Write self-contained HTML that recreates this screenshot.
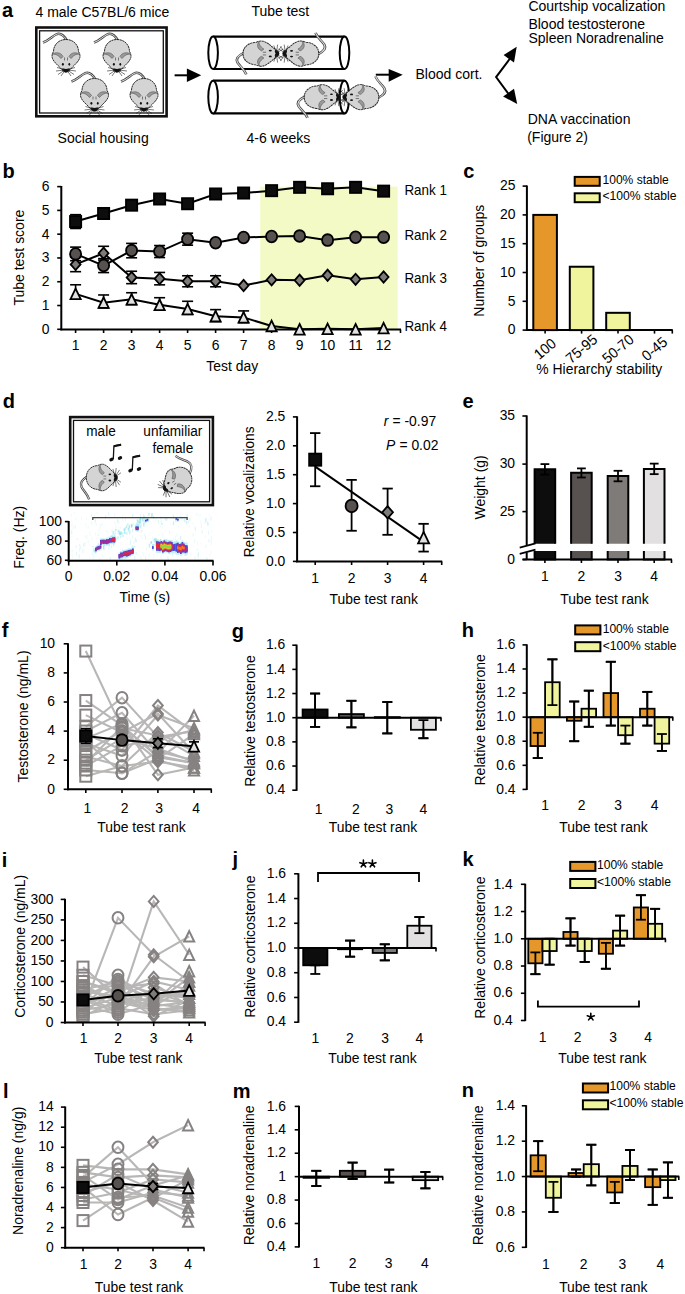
<!DOCTYPE html>
<html><head><meta charset="utf-8"><style>
html,body{margin:0;padding:0;background:#fff;overflow:hidden;}
svg{display:block;font-family:"Liberation Sans", sans-serif;}
</style></head><body>
<svg width="685" height="1294" viewBox="0 0 685 1294">
<defs><g id="mouse">
<path d="M1,-15 C-2,-20 -6,-23 -10,-21 C-14,-19 -17,-15 -23,-13" fill="none" stroke="#444" stroke-width="2.4"/>
<path d="M1,-15 C-2,-20 -6,-23 -10,-21 C-14,-19 -17,-15 -23,-13" fill="none" stroke="#ddd" stroke-width="1.0"/>
<path d="M0,-16 C8,-16 12.5,-10 12.5,-4 C14,-2 14.5,1 13.5,3 C12.5,6 9,9 6,12 C3.5,15 2,16.5 0,16.5 C-2,16.5 -3.5,15 -6,12 C-9,9 -12.5,6 -13.5,3 C-14.5,1 -14,-2 -12.5,-4 C-12.5,-10 -8,-16 0,-16 Z" fill="#d4d4d4" stroke="#2a2a2a" stroke-width="1.0" stroke-dasharray="2.2 0.5"/>
<path d="M3,1 C5,-3 10,-4 14,-1 C12,-2 8,-1 5,3 Z" fill="#9a9a9a" stroke="#555" stroke-width="0.6"/>
<path d="M-3,1 C-5,-3 -10,-4 -14,-1 C-12,-2 -8,-1 -5,3 Z" fill="#9a9a9a" stroke="#555" stroke-width="0.6"/>
<path d="M-1.5,2 L-1.5,5 M1.5,2 L1.5,5" stroke="#333" stroke-width="0.6"/>
<ellipse cx="-3.1" cy="8.8" rx="1" ry="1.4" fill="#111"/>
<ellipse cx="3.3" cy="8.8" rx="0.9" ry="1.4" fill="#111"/>
<path d="M-4.2,13.2 Q-2,12.4 0,13.6 Q2,12.4 4.2,13.2 Q2.5,17 0,17 Q-2.5,17 -4.2,13.2 Z" fill="#111"/>
<path d="M-2,14 L-9,12 M-2,14.5 L-10,15.5 M-2,15 L-8,19 M-1.5,15.5 L-5,20.5 M2,14 L9,12 M2,14.5 L10,15.5 M2,15 L8,19 M1.5,15.5 L5,20.5" stroke="#222" stroke-width="0.6"/>
</g></defs>
<rect width="685" height="1294" fill="#fff"/>
<text transform="translate(2.00 16.80)" font-size="20" text-anchor="start" font-weight="bold" fill="#000">a</text>
<text transform="translate(2.60 178.00)" font-size="20" text-anchor="start" font-weight="bold" fill="#000">b</text>
<text transform="translate(463.30 178.00)" font-size="20" text-anchor="start" font-weight="bold" fill="#000">c</text>
<text transform="translate(2.80 408.00)" font-size="20" text-anchor="start" font-weight="bold" fill="#000">d</text>
<text transform="translate(462.60 408.00)" font-size="20" text-anchor="start" font-weight="bold" fill="#000">e</text>
<text transform="translate(1.70 637.00)" font-size="20" text-anchor="start" font-weight="bold" fill="#000">f</text>
<text transform="translate(231.70 637.50)" font-size="20" text-anchor="start" font-weight="bold" fill="#000">g</text>
<text transform="translate(461.70 637.00)" font-size="20" text-anchor="start" font-weight="bold" fill="#000">h</text>
<text transform="translate(1.70 867.00)" font-size="20" text-anchor="start" font-weight="bold" fill="#000">i</text>
<text transform="translate(232.50 866.00)" font-size="20" text-anchor="start" font-weight="bold" fill="#000">j</text>
<text transform="translate(462.40 866.30)" font-size="20" text-anchor="start" font-weight="bold" fill="#000">k</text>
<text transform="translate(3.00 1097.60)" font-size="20" text-anchor="start" font-weight="bold" fill="#000">l</text>
<text transform="translate(232.70 1097.60)" font-size="20" text-anchor="start" font-weight="bold" fill="#000">m</text>
<text transform="translate(461.70 1096.90)" font-size="20" text-anchor="start" font-weight="bold" fill="#000">n</text>
<text transform="translate(35.50 17.00)" font-size="14" text-anchor="start" font-weight="normal" fill="#000">4 male C57BL/6 mice</text>
<text transform="translate(251.40 15.80)" font-size="14" text-anchor="start" font-weight="normal" fill="#000">Tube test</text>
<text transform="translate(57.60 142.50)" font-size="14" text-anchor="start" font-weight="normal" fill="#000">Social housing</text>
<text transform="translate(246.50 142.50)" font-size="14" text-anchor="start" font-weight="normal" fill="#000">4-6 weeks</text>
<text transform="translate(415.50 79.00)" font-size="14" text-anchor="start" font-weight="normal" fill="#000">Blood cort.</text>
<text transform="translate(528.40 11.30)" font-size="14" text-anchor="start" font-weight="normal" fill="#000">Courtship vocalization</text>
<text transform="translate(528.40 29.40)" font-size="14" text-anchor="start" font-weight="normal" fill="#000">Blood testosterone</text>
<text transform="translate(528.40 43.40)" font-size="14" text-anchor="start" font-weight="normal" fill="#000">Spleen Noradrenaline</text>
<text transform="translate(527.70 124.10)" font-size="14" text-anchor="start" font-weight="normal" fill="#000">DNA vaccination</text>
<text transform="translate(527.20 142.10)" font-size="14" text-anchor="start" font-weight="normal" fill="#000">(Figure 2)</text>
<rect x="36.30" y="27.50" width="130.30" height="88.80" fill="none" stroke="#111" stroke-width="2.6"/>
<rect x="39.60" y="30.80" width="123.70" height="82.20" fill="none" stroke="#111" stroke-width="1.3"/>
<use href="#mouse" transform="translate(66.00 55.50) rotate(0) scale(1.0 1.0)"/>
<use href="#mouse" transform="translate(117.00 55.50) rotate(0) scale(1.0 1.0)"/>
<use href="#mouse" transform="translate(94.50 94.50) rotate(0) scale(1.0 1.0)"/>
<use href="#mouse" transform="translate(144.00 94.50) rotate(0) scale(1.0 1.0)"/>
<line x1="174.60" y1="75.30" x2="188.00" y2="75.30" stroke="#000" stroke-width="2"/>
<polygon points="186.90,68.50 201.20,75.30 186.90,82.00" fill="#000" stroke="none" stroke-width="1.5"/>
<line x1="213.10" y1="36.60" x2="344.50" y2="36.60" stroke="#000" stroke-width="2.2"/>
<line x1="213.10" y1="69.00" x2="344.50" y2="69.00" stroke="#000" stroke-width="2.2"/>
<ellipse cx="213.1" cy="52.8" rx="4.8" ry="16.2" fill="#fff" stroke="#000" stroke-width="2"/>
<ellipse cx="344.5" cy="52.8" rx="4.8" ry="16.2" fill="none" stroke="#000" stroke-width="2"/>
<line x1="213.10" y1="80.70" x2="344.50" y2="80.70" stroke="#000" stroke-width="2.2"/>
<line x1="213.10" y1="113.40" x2="344.50" y2="113.40" stroke="#000" stroke-width="2.2"/>
<ellipse cx="213.1" cy="97.05000000000001" rx="4.8" ry="16.35" fill="#fff" stroke="#000" stroke-width="2"/>
<ellipse cx="344.5" cy="97.05000000000001" rx="4.8" ry="16.35" fill="none" stroke="#000" stroke-width="2"/>
<use href="#mouse" transform="translate(260.60 53.60) rotate(-90) scale(0.9 1.1)"/>
<use href="#mouse" transform="translate(301.20 53.60) rotate(90) scale(0.9 1.1)"/>
<use href="#mouse" transform="translate(321.80 97.20) rotate(-90) scale(0.9 1.1)"/>
<use href="#mouse" transform="translate(361.20 97.20) rotate(90) scale(0.9 1.1)"/>
<line x1="375.80" y1="74.70" x2="390.00" y2="74.70" stroke="#000" stroke-width="2"/>
<polygon points="388.70,68.90 402.70,74.70 388.70,81.80" fill="#000" stroke="none" stroke-width="1.5"/>
<polyline points="510.00,58.50 496.10,77.10 510.00,96.00" fill="none" stroke="#000" stroke-width="2"/>
<polygon points="516.70,46.70 503.60,54.90 514.00,62.60" fill="#000" stroke="none" stroke-width="1.5"/>
<polygon points="517.20,104.00 503.10,96.50 514.00,88.80" fill="#000" stroke="none" stroke-width="1.5"/>
<rect x="260.20" y="186.60" width="137.40" height="142.70" fill="#F4FAC6" stroke="none" stroke-width="1.5"/>
<line x1="61.30" y1="186.00" x2="61.30" y2="330.30" stroke="#000" stroke-width="2"/>
<line x1="57.20" y1="329.30" x2="61.30" y2="329.30" stroke="#000" stroke-width="1.6"/>
<text transform="translate(49.60 333.70) scale(1 1.1)" font-size="13.9" text-anchor="end" font-weight="normal" fill="#000">0</text>
<line x1="57.20" y1="305.52" x2="61.30" y2="305.52" stroke="#000" stroke-width="1.6"/>
<text transform="translate(49.60 309.92) scale(1 1.1)" font-size="13.9" text-anchor="end" font-weight="normal" fill="#000">1</text>
<line x1="57.20" y1="281.74" x2="61.30" y2="281.74" stroke="#000" stroke-width="1.6"/>
<text transform="translate(49.60 286.14) scale(1 1.1)" font-size="13.9" text-anchor="end" font-weight="normal" fill="#000">2</text>
<line x1="57.20" y1="257.96" x2="61.30" y2="257.96" stroke="#000" stroke-width="1.6"/>
<text transform="translate(49.60 262.36) scale(1 1.1)" font-size="13.9" text-anchor="end" font-weight="normal" fill="#000">3</text>
<line x1="57.20" y1="234.18" x2="61.30" y2="234.18" stroke="#000" stroke-width="1.6"/>
<text transform="translate(49.60 238.58) scale(1 1.1)" font-size="13.9" text-anchor="end" font-weight="normal" fill="#000">4</text>
<line x1="57.20" y1="210.40" x2="61.30" y2="210.40" stroke="#000" stroke-width="1.6"/>
<text transform="translate(49.60 214.80) scale(1 1.1)" font-size="13.9" text-anchor="end" font-weight="normal" fill="#000">5</text>
<line x1="57.20" y1="186.62" x2="61.30" y2="186.62" stroke="#000" stroke-width="1.6"/>
<text transform="translate(49.60 191.02) scale(1 1.1)" font-size="13.9" text-anchor="end" font-weight="normal" fill="#000">6</text>
<line x1="60.30" y1="329.50" x2="401.00" y2="329.50" stroke="#000" stroke-width="2"/>
<line x1="75.60" y1="329.50" x2="75.60" y2="333.00" stroke="#000" stroke-width="1.6"/>
<text transform="translate(75.60 350.20) scale(1 1.1)" font-size="13.9" text-anchor="middle" font-weight="normal" fill="#000">1</text>
<line x1="103.60" y1="329.50" x2="103.60" y2="333.00" stroke="#000" stroke-width="1.6"/>
<text transform="translate(103.60 350.20) scale(1 1.1)" font-size="13.9" text-anchor="middle" font-weight="normal" fill="#000">2</text>
<line x1="131.60" y1="329.50" x2="131.60" y2="333.00" stroke="#000" stroke-width="1.6"/>
<text transform="translate(131.60 350.20) scale(1 1.1)" font-size="13.9" text-anchor="middle" font-weight="normal" fill="#000">3</text>
<line x1="159.60" y1="329.50" x2="159.60" y2="333.00" stroke="#000" stroke-width="1.6"/>
<text transform="translate(159.60 350.20) scale(1 1.1)" font-size="13.9" text-anchor="middle" font-weight="normal" fill="#000">4</text>
<line x1="187.60" y1="329.50" x2="187.60" y2="333.00" stroke="#000" stroke-width="1.6"/>
<text transform="translate(187.60 350.20) scale(1 1.1)" font-size="13.9" text-anchor="middle" font-weight="normal" fill="#000">5</text>
<line x1="215.60" y1="329.50" x2="215.60" y2="333.00" stroke="#000" stroke-width="1.6"/>
<text transform="translate(215.60 350.20) scale(1 1.1)" font-size="13.9" text-anchor="middle" font-weight="normal" fill="#000">6</text>
<line x1="243.60" y1="329.50" x2="243.60" y2="333.00" stroke="#000" stroke-width="1.6"/>
<text transform="translate(243.60 350.20) scale(1 1.1)" font-size="13.9" text-anchor="middle" font-weight="normal" fill="#000">7</text>
<line x1="271.60" y1="329.50" x2="271.60" y2="333.00" stroke="#000" stroke-width="1.6"/>
<text transform="translate(271.60 350.20) scale(1 1.1)" font-size="13.9" text-anchor="middle" font-weight="normal" fill="#000">8</text>
<line x1="299.60" y1="329.50" x2="299.60" y2="333.00" stroke="#000" stroke-width="1.6"/>
<text transform="translate(299.60 350.20) scale(1 1.1)" font-size="13.9" text-anchor="middle" font-weight="normal" fill="#000">9</text>
<line x1="327.60" y1="329.50" x2="327.60" y2="333.00" stroke="#000" stroke-width="1.6"/>
<text transform="translate(327.60 350.20) scale(1 1.1)" font-size="13.9" text-anchor="middle" font-weight="normal" fill="#000">10</text>
<line x1="355.60" y1="329.50" x2="355.60" y2="333.00" stroke="#000" stroke-width="1.6"/>
<text transform="translate(355.60 350.20) scale(1 1.1)" font-size="13.9" text-anchor="middle" font-weight="normal" fill="#000">11</text>
<line x1="383.60" y1="329.50" x2="383.60" y2="333.00" stroke="#000" stroke-width="1.6"/>
<text transform="translate(383.60 350.20) scale(1 1.1)" font-size="13.9" text-anchor="middle" font-weight="normal" fill="#000">12</text>
<line x1="400.50" y1="329.50" x2="400.50" y2="333.00" stroke="#000" stroke-width="1.6"/>
<text transform="translate(232.20 370.60) scale(1 1.1)" font-size="13.9" text-anchor="middle" font-weight="normal" fill="#000">Test day</text>
<text transform="translate(23.60 257.60) rotate(-90) scale(1 1.06)" font-size="14.0" text-anchor="middle" font-weight="normal" fill="#000">Tube test score</text>
<line x1="75.60" y1="284.77" x2="75.60" y2="299.17" stroke="#000" stroke-width="1.6"/>
<line x1="70.10" y1="284.77" x2="81.10" y2="284.77" stroke="#000" stroke-width="1.6"/>
<line x1="70.10" y1="299.17" x2="81.10" y2="299.17" stroke="#000" stroke-width="1.6"/>
<line x1="103.60" y1="294.97" x2="103.60" y2="307.97" stroke="#000" stroke-width="1.6"/>
<line x1="98.10" y1="294.97" x2="109.10" y2="294.97" stroke="#000" stroke-width="1.6"/>
<line x1="98.10" y1="307.97" x2="109.10" y2="307.97" stroke="#000" stroke-width="1.6"/>
<line x1="131.60" y1="292.74" x2="131.60" y2="304.64" stroke="#000" stroke-width="1.6"/>
<line x1="126.10" y1="292.74" x2="137.10" y2="292.74" stroke="#000" stroke-width="1.6"/>
<line x1="126.10" y1="304.64" x2="137.10" y2="304.64" stroke="#000" stroke-width="1.6"/>
<line x1="159.60" y1="297.71" x2="159.60" y2="310.11" stroke="#000" stroke-width="1.6"/>
<line x1="154.10" y1="297.71" x2="165.10" y2="297.71" stroke="#000" stroke-width="1.6"/>
<line x1="154.10" y1="310.11" x2="165.10" y2="310.11" stroke="#000" stroke-width="1.6"/>
<line x1="187.60" y1="301.29" x2="187.60" y2="314.39" stroke="#000" stroke-width="1.6"/>
<line x1="182.10" y1="301.29" x2="193.10" y2="301.29" stroke="#000" stroke-width="1.6"/>
<line x1="182.10" y1="314.39" x2="193.10" y2="314.39" stroke="#000" stroke-width="1.6"/>
<line x1="215.60" y1="309.62" x2="215.60" y2="321.52" stroke="#000" stroke-width="1.6"/>
<line x1="210.10" y1="309.62" x2="221.10" y2="309.62" stroke="#000" stroke-width="1.6"/>
<line x1="210.10" y1="321.52" x2="221.10" y2="321.52" stroke="#000" stroke-width="1.6"/>
<line x1="243.60" y1="310.91" x2="243.60" y2="322.71" stroke="#000" stroke-width="1.6"/>
<line x1="238.10" y1="310.91" x2="249.10" y2="310.91" stroke="#000" stroke-width="1.6"/>
<line x1="238.10" y1="322.71" x2="249.10" y2="322.71" stroke="#000" stroke-width="1.6"/>
<line x1="75.60" y1="257.08" x2="75.60" y2="271.68" stroke="#000" stroke-width="1.6"/>
<line x1="70.10" y1="257.08" x2="81.10" y2="257.08" stroke="#000" stroke-width="1.6"/>
<line x1="70.10" y1="271.68" x2="81.10" y2="271.68" stroke="#000" stroke-width="1.6"/>
<line x1="103.60" y1="246.30" x2="103.60" y2="260.10" stroke="#000" stroke-width="1.6"/>
<line x1="98.10" y1="246.30" x2="109.10" y2="246.30" stroke="#000" stroke-width="1.6"/>
<line x1="98.10" y1="260.10" x2="109.10" y2="260.10" stroke="#000" stroke-width="1.6"/>
<line x1="131.60" y1="271.26" x2="131.60" y2="283.66" stroke="#000" stroke-width="1.6"/>
<line x1="126.10" y1="271.26" x2="137.10" y2="271.26" stroke="#000" stroke-width="1.6"/>
<line x1="126.10" y1="283.66" x2="137.10" y2="283.66" stroke="#000" stroke-width="1.6"/>
<line x1="159.60" y1="272.45" x2="159.60" y2="284.85" stroke="#000" stroke-width="1.6"/>
<line x1="154.10" y1="272.45" x2="165.10" y2="272.45" stroke="#000" stroke-width="1.6"/>
<line x1="154.10" y1="284.85" x2="165.10" y2="284.85" stroke="#000" stroke-width="1.6"/>
<line x1="187.60" y1="275.76" x2="187.60" y2="286.76" stroke="#000" stroke-width="1.6"/>
<line x1="182.10" y1="275.76" x2="193.10" y2="275.76" stroke="#000" stroke-width="1.6"/>
<line x1="182.10" y1="286.76" x2="193.10" y2="286.76" stroke="#000" stroke-width="1.6"/>
<line x1="215.60" y1="275.76" x2="215.60" y2="286.76" stroke="#000" stroke-width="1.6"/>
<line x1="210.10" y1="275.76" x2="221.10" y2="275.76" stroke="#000" stroke-width="1.6"/>
<line x1="210.10" y1="286.76" x2="221.10" y2="286.76" stroke="#000" stroke-width="1.6"/>
<line x1="75.60" y1="247.12" x2="75.60" y2="260.72" stroke="#000" stroke-width="1.6"/>
<line x1="70.10" y1="247.12" x2="81.10" y2="247.12" stroke="#000" stroke-width="1.6"/>
<line x1="70.10" y1="260.72" x2="81.10" y2="260.72" stroke="#000" stroke-width="1.6"/>
<line x1="103.60" y1="258.57" x2="103.60" y2="272.57" stroke="#000" stroke-width="1.6"/>
<line x1="98.10" y1="258.57" x2="109.10" y2="258.57" stroke="#000" stroke-width="1.6"/>
<line x1="98.10" y1="272.57" x2="109.10" y2="272.57" stroke="#000" stroke-width="1.6"/>
<line x1="131.60" y1="243.39" x2="131.60" y2="257.79" stroke="#000" stroke-width="1.6"/>
<line x1="126.10" y1="243.39" x2="137.10" y2="243.39" stroke="#000" stroke-width="1.6"/>
<line x1="126.10" y1="257.79" x2="137.10" y2="257.79" stroke="#000" stroke-width="1.6"/>
<line x1="159.60" y1="245.54" x2="159.60" y2="257.54" stroke="#000" stroke-width="1.6"/>
<line x1="154.10" y1="245.54" x2="165.10" y2="245.54" stroke="#000" stroke-width="1.6"/>
<line x1="154.10" y1="257.54" x2="165.10" y2="257.54" stroke="#000" stroke-width="1.6"/>
<line x1="187.60" y1="233.17" x2="187.60" y2="245.17" stroke="#000" stroke-width="1.6"/>
<line x1="182.10" y1="233.17" x2="193.10" y2="233.17" stroke="#000" stroke-width="1.6"/>
<line x1="182.10" y1="245.17" x2="193.10" y2="245.17" stroke="#000" stroke-width="1.6"/>
<line x1="75.60" y1="214.68" x2="75.60" y2="228.48" stroke="#000" stroke-width="1.6"/>
<line x1="70.10" y1="214.68" x2="81.10" y2="214.68" stroke="#000" stroke-width="1.6"/>
<line x1="70.10" y1="228.48" x2="81.10" y2="228.48" stroke="#000" stroke-width="1.6"/>
<polyline points="75.60,293.87 103.60,302.67 131.60,299.34 159.60,304.81 187.60,309.09 215.60,316.22 243.60,317.41 271.60,325.97 299.60,329.30 327.60,328.82 355.60,329.30 383.60,328.11" fill="none" stroke="#000" stroke-width="2"/>
<polygon points="75.60,288.57 80.70,299.17 70.50,299.17" fill="#e2e0e0" stroke="#000" stroke-width="1.8"/>
<polygon points="103.60,297.37 108.70,307.97 98.50,307.97" fill="#e2e0e0" stroke="#000" stroke-width="1.8"/>
<polygon points="131.60,294.04 136.70,304.64 126.50,304.64" fill="#e2e0e0" stroke="#000" stroke-width="1.8"/>
<polygon points="159.60,299.51 164.70,310.11 154.50,310.11" fill="#e2e0e0" stroke="#000" stroke-width="1.8"/>
<polygon points="187.60,303.79 192.70,314.39 182.50,314.39" fill="#e2e0e0" stroke="#000" stroke-width="1.8"/>
<polygon points="215.60,310.92 220.70,321.52 210.50,321.52" fill="#e2e0e0" stroke="#000" stroke-width="1.8"/>
<polygon points="243.60,312.11 248.70,322.71 238.50,322.71" fill="#e2e0e0" stroke="#000" stroke-width="1.8"/>
<polygon points="271.60,320.67 276.70,331.27 266.50,331.27" fill="#e2e0e0" stroke="#000" stroke-width="1.8"/>
<polygon points="299.60,324.00 304.70,334.60 294.50,334.60" fill="#e2e0e0" stroke="#000" stroke-width="1.8"/>
<polygon points="327.60,323.52 332.70,334.12 322.50,334.12" fill="#e2e0e0" stroke="#000" stroke-width="1.8"/>
<polygon points="355.60,324.00 360.70,334.60 350.50,334.60" fill="#e2e0e0" stroke="#000" stroke-width="1.8"/>
<polygon points="383.60,322.81 388.70,333.41 378.50,333.41" fill="#e2e0e0" stroke="#000" stroke-width="1.8"/>
<polyline points="75.60,264.38 103.60,253.20 131.60,277.46 159.60,278.65 187.60,281.26 215.60,281.26 243.60,285.54 271.60,279.84 299.60,280.31 327.60,275.32 355.60,279.36 383.60,276.98" fill="none" stroke="#000" stroke-width="2"/>
<polygon points="75.60,258.78 80.55,264.38 75.60,269.98 70.65,264.38" fill="#7f7b78" stroke="#000" stroke-width="1.8"/>
<polygon points="103.60,247.60 108.55,253.20 103.60,258.80 98.65,253.20" fill="#7f7b78" stroke="#000" stroke-width="1.8"/>
<polygon points="131.60,271.86 136.55,277.46 131.60,283.06 126.65,277.46" fill="#7f7b78" stroke="#000" stroke-width="1.8"/>
<polygon points="159.60,273.05 164.55,278.65 159.60,284.25 154.65,278.65" fill="#7f7b78" stroke="#000" stroke-width="1.8"/>
<polygon points="187.60,275.66 192.55,281.26 187.60,286.86 182.65,281.26" fill="#7f7b78" stroke="#000" stroke-width="1.8"/>
<polygon points="215.60,275.66 220.55,281.26 215.60,286.86 210.65,281.26" fill="#7f7b78" stroke="#000" stroke-width="1.8"/>
<polygon points="243.60,279.94 248.55,285.54 243.60,291.14 238.65,285.54" fill="#7f7b78" stroke="#000" stroke-width="1.8"/>
<polygon points="271.60,274.24 276.55,279.84 271.60,285.44 266.65,279.84" fill="#7f7b78" stroke="#000" stroke-width="1.8"/>
<polygon points="299.60,274.71 304.55,280.31 299.60,285.91 294.65,280.31" fill="#7f7b78" stroke="#000" stroke-width="1.8"/>
<polygon points="327.60,269.72 332.55,275.32 327.60,280.92 322.65,275.32" fill="#7f7b78" stroke="#000" stroke-width="1.8"/>
<polygon points="355.60,273.76 360.55,279.36 355.60,284.96 350.65,279.36" fill="#7f7b78" stroke="#000" stroke-width="1.8"/>
<polygon points="383.60,271.38 388.55,276.98 383.60,282.58 378.65,276.98" fill="#7f7b78" stroke="#000" stroke-width="1.8"/>
<polyline points="75.60,253.92 103.60,265.57 131.60,250.59 159.60,251.54 187.60,239.17 215.60,242.74 243.60,237.51 271.60,236.56 299.60,236.08 327.60,240.12 355.60,237.27 383.60,237.27" fill="none" stroke="#000" stroke-width="2"/>
<ellipse cx="75.60" cy="253.92" rx="5.55" ry="5.85" fill="#575150" stroke="#000" stroke-width="1.8"/>
<ellipse cx="103.60" cy="265.57" rx="5.55" ry="5.85" fill="#575150" stroke="#000" stroke-width="1.8"/>
<ellipse cx="131.60" cy="250.59" rx="5.55" ry="5.85" fill="#575150" stroke="#000" stroke-width="1.8"/>
<ellipse cx="159.60" cy="251.54" rx="5.55" ry="5.85" fill="#575150" stroke="#000" stroke-width="1.8"/>
<ellipse cx="187.60" cy="239.17" rx="5.55" ry="5.85" fill="#575150" stroke="#000" stroke-width="1.8"/>
<ellipse cx="215.60" cy="242.74" rx="5.55" ry="5.85" fill="#575150" stroke="#000" stroke-width="1.8"/>
<ellipse cx="243.60" cy="237.51" rx="5.55" ry="5.85" fill="#575150" stroke="#000" stroke-width="1.8"/>
<ellipse cx="271.60" cy="236.56" rx="5.55" ry="5.85" fill="#575150" stroke="#000" stroke-width="1.8"/>
<ellipse cx="299.60" cy="236.08" rx="5.55" ry="5.85" fill="#575150" stroke="#000" stroke-width="1.8"/>
<ellipse cx="327.60" cy="240.12" rx="5.55" ry="5.85" fill="#575150" stroke="#000" stroke-width="1.8"/>
<ellipse cx="355.60" cy="237.27" rx="5.55" ry="5.85" fill="#575150" stroke="#000" stroke-width="1.8"/>
<ellipse cx="383.60" cy="237.27" rx="5.55" ry="5.85" fill="#575150" stroke="#000" stroke-width="1.8"/>
<polyline points="75.60,221.58 103.60,213.49 131.60,205.17 159.60,198.99 187.60,203.74 215.60,193.99 243.60,193.04 271.60,190.66 299.60,187.33 327.60,188.76 355.60,187.33 383.60,191.14" fill="none" stroke="#000" stroke-width="2"/>
<rect x="70.00" y="215.98" width="11.20" height="11.20" fill="#0d0d0d" stroke="#000" stroke-width="1.8"/>
<rect x="98.00" y="207.89" width="11.20" height="11.20" fill="#0d0d0d" stroke="#000" stroke-width="1.8"/>
<rect x="126.00" y="199.57" width="11.20" height="11.20" fill="#0d0d0d" stroke="#000" stroke-width="1.8"/>
<rect x="154.00" y="193.39" width="11.20" height="11.20" fill="#0d0d0d" stroke="#000" stroke-width="1.8"/>
<rect x="182.00" y="198.14" width="11.20" height="11.20" fill="#0d0d0d" stroke="#000" stroke-width="1.8"/>
<rect x="210.00" y="188.39" width="11.20" height="11.20" fill="#0d0d0d" stroke="#000" stroke-width="1.8"/>
<rect x="238.00" y="187.44" width="11.20" height="11.20" fill="#0d0d0d" stroke="#000" stroke-width="1.8"/>
<rect x="266.00" y="185.06" width="11.20" height="11.20" fill="#0d0d0d" stroke="#000" stroke-width="1.8"/>
<rect x="294.00" y="181.73" width="11.20" height="11.20" fill="#0d0d0d" stroke="#000" stroke-width="1.8"/>
<rect x="322.00" y="183.16" width="11.20" height="11.20" fill="#0d0d0d" stroke="#000" stroke-width="1.8"/>
<rect x="350.00" y="181.73" width="11.20" height="11.20" fill="#0d0d0d" stroke="#000" stroke-width="1.8"/>
<rect x="378.00" y="185.54" width="11.20" height="11.20" fill="#0d0d0d" stroke="#000" stroke-width="1.8"/>
<text transform="translate(404.40 195.20) scale(1 1.1)" font-size="13.4" text-anchor="start" font-weight="normal" fill="#000">Rank 1</text>
<text transform="translate(404.40 240.40) scale(1 1.1)" font-size="13.4" text-anchor="start" font-weight="normal" fill="#000">Rank 2</text>
<text transform="translate(404.40 283.40) scale(1 1.1)" font-size="13.4" text-anchor="start" font-weight="normal" fill="#000">Rank 3</text>
<text transform="translate(404.40 331.20) scale(1 1.1)" font-size="13.4" text-anchor="start" font-weight="normal" fill="#000">Rank 4</text>
<line x1="522.60" y1="330.10" x2="526.90" y2="330.10" stroke="#000" stroke-width="1.6"/>
<text transform="translate(515.40 334.40) scale(1 1.1)" font-size="13.9" text-anchor="end" font-weight="normal" fill="#000">0</text>
<line x1="522.60" y1="301.30" x2="526.90" y2="301.30" stroke="#000" stroke-width="1.6"/>
<text transform="translate(515.40 305.60) scale(1 1.1)" font-size="13.9" text-anchor="end" font-weight="normal" fill="#000">5</text>
<line x1="522.60" y1="272.50" x2="526.90" y2="272.50" stroke="#000" stroke-width="1.6"/>
<text transform="translate(515.40 276.80) scale(1 1.1)" font-size="13.9" text-anchor="end" font-weight="normal" fill="#000">10</text>
<line x1="522.60" y1="243.70" x2="526.90" y2="243.70" stroke="#000" stroke-width="1.6"/>
<text transform="translate(515.40 248.00) scale(1 1.1)" font-size="13.9" text-anchor="end" font-weight="normal" fill="#000">15</text>
<line x1="522.60" y1="214.90" x2="526.90" y2="214.90" stroke="#000" stroke-width="1.6"/>
<text transform="translate(515.40 219.20) scale(1 1.1)" font-size="13.9" text-anchor="end" font-weight="normal" fill="#000">20</text>
<line x1="522.60" y1="186.10" x2="526.90" y2="186.10" stroke="#000" stroke-width="1.6"/>
<text transform="translate(515.40 190.40) scale(1 1.1)" font-size="13.9" text-anchor="end" font-weight="normal" fill="#000">25</text>
<line x1="526.90" y1="185.50" x2="526.90" y2="331.00" stroke="#000" stroke-width="2"/>
<line x1="526.00" y1="330.10" x2="672.80" y2="330.10" stroke="#000" stroke-width="2"/>
<line x1="545.10" y1="330.10" x2="545.10" y2="333.60" stroke="#000" stroke-width="1.6"/>
<line x1="581.60" y1="330.10" x2="581.60" y2="333.60" stroke="#000" stroke-width="1.6"/>
<line x1="618.00" y1="330.10" x2="618.00" y2="333.60" stroke="#000" stroke-width="1.6"/>
<line x1="654.50" y1="330.10" x2="654.50" y2="333.60" stroke="#000" stroke-width="1.6"/>
<line x1="672.30" y1="330.10" x2="672.30" y2="333.60" stroke="#000" stroke-width="1.6"/>
<rect x="533.30" y="214.90" width="23.60" height="115.20" fill="#E69729" stroke="#000" stroke-width="2"/>
<rect x="569.80" y="266.74" width="23.60" height="63.36" fill="#F0F59D" stroke="#000" stroke-width="2"/>
<rect x="606.20" y="312.82" width="23.60" height="17.28" fill="#F0F59D" stroke="#000" stroke-width="2"/>
<text transform="translate(548.30 352.80) rotate(-40) scale(1 1.06)" font-size="14.0" text-anchor="middle" font-weight="normal" fill="#000">100</text>
<text transform="translate(584.80 352.80) rotate(-40) scale(1 1.06)" font-size="14.0" text-anchor="middle" font-weight="normal" fill="#000">75-95</text>
<text transform="translate(621.20 352.80) rotate(-40) scale(1 1.06)" font-size="14.0" text-anchor="middle" font-weight="normal" fill="#000">50-70</text>
<text transform="translate(657.70 352.80) rotate(-40) scale(1 1.06)" font-size="14.0" text-anchor="middle" font-weight="normal" fill="#000">0-45</text>
<text transform="translate(599.30 373.60) scale(1 1.1)" font-size="13.9" text-anchor="middle" font-weight="normal" fill="#000">% Hierarchy stability</text>
<text transform="translate(484.40 260.70) rotate(-90) scale(1 1.06)" font-size="14.0" text-anchor="middle" font-weight="normal" fill="#000">Number of groups</text>
<rect x="574.70" y="176.90" width="25.00" height="8.90" fill="#E69729" stroke="#000" stroke-width="2"/>
<rect x="574.70" y="193.30" width="25.00" height="8.90" fill="#F0F59D" stroke="#000" stroke-width="2"/>
<text transform="translate(602.50 183.80)" font-size="12" text-anchor="start" font-weight="normal" fill="#000" textLength="66.3" lengthAdjust="spacingAndGlyphs">100% stable</text>
<text transform="translate(602.50 200.20)" font-size="12" text-anchor="start" font-weight="normal" fill="#000" textLength="73.9" lengthAdjust="spacingAndGlyphs">&lt;100% stable</text>
<rect x="70.20" y="417.10" width="142.70" height="88.00" fill="none" stroke="#111" stroke-width="2.6"/>
<rect x="73.50" y="420.40" width="136.10" height="81.40" fill="none" stroke="#111" stroke-width="1.3"/>
<text transform="translate(101.00 436.40) scale(1 1.1)" font-size="13.6" text-anchor="middle" font-weight="normal" fill="#000">male</text>
<text transform="translate(172.80 436.40) scale(1 1.1)" font-size="13.6" text-anchor="middle" font-weight="normal" fill="#000">unfamiliar</text>
<text transform="translate(172.80 452.80) scale(1 1.1)" font-size="13.6" text-anchor="middle" font-weight="normal" fill="#000">female</text>
<g transform="translate(111.5 459.5)"><ellipse cx="0" cy="0" rx="2.3" ry="1.7" transform="rotate(-25)" fill="#111"/><ellipse cx="8.5" cy="-1.5" rx="2.3" ry="1.7" transform="rotate(-25 8.5 -1.5)" fill="#111"/><path d="M1.8,-0.5 L2.4,-13.5 L9.6,-15 M2.4,-13.5 L9.6,-15" stroke="#111" stroke-width="1.3" fill="none"/><path d="M2.4,-13.2 L9.6,-14.7" stroke="#111" stroke-width="2" fill="none"/></g>
<g transform="translate(130.5 470.5)"><ellipse cx="0" cy="0" rx="2.3" ry="1.7" transform="rotate(-25)" fill="#111"/><ellipse cx="8.5" cy="-1.5" rx="2.3" ry="1.7" transform="rotate(-25 8.5 -1.5)" fill="#111"/><path d="M1.8,-0.5 L2.4,-13.5 L9.6,-15 M2.4,-13.5 L9.6,-15" stroke="#111" stroke-width="1.3" fill="none"/><path d="M2.4,-13.2 L9.6,-14.7" stroke="#111" stroke-width="2" fill="none"/></g>
<use href="#mouse" transform="translate(101.50 477.50) rotate(-90) scale(0.95 0.95)"/>
<use href="#mouse" transform="translate(177.00 481.00) rotate(57) scale(0.95 0.95)"/>
<rect x="116.7" y="519.1" width="1.1" height="1.7" fill="#8ee0ec" opacity="0.20"/>
<rect x="122.6" y="514.7" width="1.0" height="1.6" fill="#8ee0ec" opacity="0.18"/>
<rect x="80.8" y="516.3" width="0.9" height="4.0" fill="#8ee0ec" opacity="0.11"/>
<rect x="102.5" y="541.5" width="1.4" height="3.2" fill="#8ee0ec" opacity="0.17"/>
<rect x="208.7" y="514.2" width="1.3" height="2.4" fill="#8ee0ec" opacity="0.11"/>
<rect x="87.6" y="526.5" width="1.3" height="2.0" fill="#8ee0ec" opacity="0.21"/>
<rect x="161.1" y="529.5" width="1.0" height="1.7" fill="#8ee0ec" opacity="0.09"/>
<rect x="100.0" y="544.0" width="0.9" height="2.4" fill="#8ee0ec" opacity="0.21"/>
<rect x="134.9" y="526.1" width="1.2" height="3.6" fill="#8ee0ec" opacity="0.13"/>
<rect x="152.0" y="536.7" width="1.3" height="3.7" fill="#8ee0ec" opacity="0.14"/>
<rect x="209.2" y="517.5" width="0.9" height="3.8" fill="#8ee0ec" opacity="0.11"/>
<rect x="139.9" y="513.8" width="1.1" height="3.8" fill="#8ee0ec" opacity="0.21"/>
<rect x="194.4" y="526.7" width="1.2" height="3.3" fill="#8ee0ec" opacity="0.21"/>
<rect x="135.3" y="551.5" width="1.4" height="2.9" fill="#8ee0ec" opacity="0.23"/>
<rect x="79.6" y="545.0" width="1.1" height="4.5" fill="#8ee0ec" opacity="0.26"/>
<rect x="111.1" y="530.1" width="1.1" height="1.6" fill="#8ee0ec" opacity="0.18"/>
<rect x="94.7" y="517.5" width="0.6" height="3.8" fill="#8ee0ec" opacity="0.11"/>
<rect x="105.9" y="530.4" width="1.3" height="1.7" fill="#8ee0ec" opacity="0.18"/>
<rect x="148.5" y="553.5" width="1.3" height="4.1" fill="#8ee0ec" opacity="0.14"/>
<rect x="129.6" y="528.9" width="1.3" height="4.4" fill="#8ee0ec" opacity="0.11"/>
<rect x="95.8" y="522.9" width="0.8" height="3.0" fill="#8ee0ec" opacity="0.21"/>
<rect x="108.0" y="512.2" width="0.9" height="2.6" fill="#8ee0ec" opacity="0.20"/>
<rect x="205.4" y="544.5" width="1.0" height="3.4" fill="#8ee0ec" opacity="0.23"/>
<rect x="78.6" y="554.3" width="1.2" height="4.1" fill="#8ee0ec" opacity="0.26"/>
<rect x="126.3" y="530.8" width="0.7" height="3.4" fill="#8ee0ec" opacity="0.09"/>
<rect x="80.5" y="521.8" width="0.7" height="2.5" fill="#8ee0ec" opacity="0.09"/>
<rect x="71.0" y="519.1" width="0.7" height="2.6" fill="#8ee0ec" opacity="0.09"/>
<rect x="194.3" y="540.9" width="0.7" height="2.3" fill="#8ee0ec" opacity="0.16"/>
<rect x="122.3" y="517.8" width="1.3" height="4.5" fill="#8ee0ec" opacity="0.18"/>
<rect x="139.2" y="516.0" width="0.7" height="2.5" fill="#8ee0ec" opacity="0.14"/>
<rect x="187.9" y="519.6" width="0.6" height="4.4" fill="#8ee0ec" opacity="0.20"/>
<rect x="91.7" y="537.5" width="0.6" height="3.1" fill="#8ee0ec" opacity="0.30"/>
<rect x="192.7" y="544.7" width="0.8" height="2.6" fill="#8ee0ec" opacity="0.12"/>
<rect x="179.8" y="537.0" width="1.2" height="2.5" fill="#8ee0ec" opacity="0.13"/>
<rect x="185.4" y="558.3" width="1.3" height="3.9" fill="#8ee0ec" opacity="0.26"/>
<rect x="175.3" y="522.7" width="1.0" height="2.6" fill="#8ee0ec" opacity="0.09"/>
<rect x="74.9" y="525.1" width="0.8" height="3.6" fill="#8ee0ec" opacity="0.29"/>
<rect x="134.1" y="556.0" width="1.4" height="4.4" fill="#8ee0ec" opacity="0.16"/>
<rect x="102.1" y="522.7" width="0.8" height="2.1" fill="#8ee0ec" opacity="0.22"/>
<rect x="197.9" y="551.5" width="1.0" height="3.5" fill="#8ee0ec" opacity="0.26"/>
<rect x="83.0" y="543.0" width="1.3" height="3.8" fill="#8ee0ec" opacity="0.25"/>
<rect x="138.4" y="520.4" width="1.2" height="2.5" fill="#8ee0ec" opacity="0.26"/>
<rect x="208.0" y="530.6" width="0.9" height="4.3" fill="#8ee0ec" opacity="0.24"/>
<rect x="95.0" y="518.0" width="0.7" height="4.2" fill="#8ee0ec" opacity="0.26"/>
<rect x="91.6" y="550.8" width="1.4" height="3.5" fill="#8ee0ec" opacity="0.16"/>
<rect x="148.4" y="518.2" width="0.6" height="4.4" fill="#8ee0ec" opacity="0.22"/>
<rect x="145.2" y="555.9" width="0.9" height="4.1" fill="#8ee0ec" opacity="0.26"/>
<rect x="100.8" y="523.8" width="0.8" height="2.2" fill="#8ee0ec" opacity="0.21"/>
<rect x="107.6" y="531.7" width="0.7" height="4.2" fill="#8ee0ec" opacity="0.16"/>
<rect x="135.6" y="539.4" width="1.3" height="2.8" fill="#8ee0ec" opacity="0.28"/>
<rect x="141.7" y="537.0" width="1.0" height="1.6" fill="#8ee0ec" opacity="0.18"/>
<rect x="96.8" y="512.2" width="1.2" height="2.0" fill="#8ee0ec" opacity="0.18"/>
<rect x="173.3" y="538.2" width="0.9" height="3.1" fill="#8ee0ec" opacity="0.20"/>
<rect x="181.6" y="517.0" width="1.0" height="2.2" fill="#8ee0ec" opacity="0.14"/>
<rect x="179.9" y="535.9" width="1.0" height="3.8" fill="#8ee0ec" opacity="0.28"/>
<rect x="133.5" y="540.8" width="1.0" height="3.0" fill="#8ee0ec" opacity="0.23"/>
<rect x="134.8" y="537.1" width="1.0" height="4.3" fill="#8ee0ec" opacity="0.23"/>
<rect x="194.6" y="556.3" width="0.8" height="3.2" fill="#8ee0ec" opacity="0.29"/>
<rect x="189.4" y="518.4" width="0.7" height="2.8" fill="#8ee0ec" opacity="0.10"/>
<rect x="104.9" y="515.4" width="1.1" height="3.9" fill="#8ee0ec" opacity="0.28"/>
<rect x="92.8" y="545.7" width="1.1" height="1.9" fill="#8ee0ec" opacity="0.27"/>
<rect x="207.4" y="522.3" width="1.4" height="2.7" fill="#8ee0ec" opacity="0.19"/>
<rect x="210.6" y="551.1" width="0.7" height="2.8" fill="#8ee0ec" opacity="0.19"/>
<rect x="118.8" y="521.2" width="0.9" height="3.7" fill="#8ee0ec" opacity="0.08"/>
<rect x="149.1" y="532.7" width="0.6" height="2.5" fill="#8ee0ec" opacity="0.22"/>
<rect x="143.2" y="515.0" width="1.4" height="3.9" fill="#8ee0ec" opacity="0.29"/>
<rect x="85.8" y="524.5" width="0.6" height="3.8" fill="#8ee0ec" opacity="0.14"/>
<rect x="89.3" y="531.8" width="1.3" height="4.0" fill="#8ee0ec" opacity="0.14"/>
<rect x="92.1" y="555.2" width="1.1" height="3.6" fill="#8ee0ec" opacity="0.10"/>
<rect x="79.1" y="544.3" width="0.9" height="1.7" fill="#8ee0ec" opacity="0.29"/>
<rect x="160.5" y="549.7" width="0.7" height="4.1" fill="#8ee0ec" opacity="0.09"/>
<rect x="192.7" y="533.3" width="0.9" height="3.2" fill="#8ee0ec" opacity="0.28"/>
<rect x="108.8" y="518.1" width="1.0" height="2.2" fill="#8ee0ec" opacity="0.10"/>
<rect x="93.8" y="514.4" width="0.8" height="2.4" fill="#8ee0ec" opacity="0.15"/>
<rect x="178.1" y="525.6" width="1.0" height="2.0" fill="#8ee0ec" opacity="0.16"/>
<rect x="73.6" y="523.8" width="0.6" height="3.7" fill="#8ee0ec" opacity="0.20"/>
<rect x="97.7" y="534.3" width="1.3" height="1.8" fill="#8ee0ec" opacity="0.26"/>
<rect x="131.9" y="535.3" width="1.3" height="2.7" fill="#8ee0ec" opacity="0.19"/>
<rect x="168.0" y="558.2" width="0.9" height="4.0" fill="#8ee0ec" opacity="0.24"/>
<rect x="160.7" y="531.0" width="0.9" height="1.7" fill="#8ee0ec" opacity="0.11"/>
<rect x="81.0" y="546.8" width="0.8" height="2.0" fill="#8ee0ec" opacity="0.10"/>
<rect x="189.6" y="552.9" width="1.1" height="2.3" fill="#8ee0ec" opacity="0.13"/>
<rect x="112.3" y="533.6" width="0.7" height="2.8" fill="#8ee0ec" opacity="0.14"/>
<rect x="206.6" y="557.7" width="1.0" height="2.2" fill="#8ee0ec" opacity="0.29"/>
<rect x="114.6" y="528.8" width="0.6" height="2.6" fill="#8ee0ec" opacity="0.18"/>
<rect x="141.9" y="521.4" width="1.0" height="1.5" fill="#8ee0ec" opacity="0.14"/>
<rect x="83.7" y="530.8" width="0.6" height="1.6" fill="#8ee0ec" opacity="0.15"/>
<rect x="103.8" y="539.5" width="1.0" height="3.8" fill="#8ee0ec" opacity="0.22"/>
<rect x="172.0" y="553.3" width="0.9" height="2.5" fill="#8ee0ec" opacity="0.30"/>
<rect x="92.1" y="546.0" width="1.1" height="1.6" fill="#8ee0ec" opacity="0.26"/>
<rect x="196.8" y="541.5" width="1.2" height="3.9" fill="#8ee0ec" opacity="0.11"/>
<rect x="144.8" y="535.7" width="1.3" height="3.9" fill="#8ee0ec" opacity="0.26"/>
<rect x="153.4" y="554.0" width="1.1" height="3.6" fill="#8ee0ec" opacity="0.13"/>
<rect x="75.4" y="518.3" width="0.9" height="1.8" fill="#8ee0ec" opacity="0.26"/>
<rect x="149.8" y="541.5" width="1.1" height="3.5" fill="#8ee0ec" opacity="0.19"/>
<rect x="71.5" y="549.5" width="1.2" height="3.0" fill="#8ee0ec" opacity="0.20"/>
<rect x="164.0" y="515.1" width="1.2" height="2.3" fill="#8ee0ec" opacity="0.10"/>
<rect x="108.4" y="546.3" width="0.8" height="3.7" fill="#8ee0ec" opacity="0.29"/>
<rect x="140.6" y="530.0" width="1.0" height="3.6" fill="#8ee0ec" opacity="0.25"/>
<rect x="158.0" y="542.2" width="0.7" height="1.9" fill="#8ee0ec" opacity="0.14"/>
<rect x="175.8" y="526.3" width="1.1" height="1.5" fill="#8ee0ec" opacity="0.09"/>
<rect x="108.9" y="543.6" width="1.2" height="3.5" fill="#8ee0ec" opacity="0.14"/>
<rect x="143.8" y="533.8" width="1.0" height="1.9" fill="#8ee0ec" opacity="0.28"/>
<rect x="99.1" y="558.0" width="1.3" height="1.6" fill="#8ee0ec" opacity="0.18"/>
<rect x="186.6" y="557.5" width="1.0" height="2.3" fill="#8ee0ec" opacity="0.13"/>
<rect x="204.3" y="521.9" width="1.1" height="1.9" fill="#8ee0ec" opacity="0.20"/>
<rect x="205.3" y="518.2" width="1.3" height="3.0" fill="#8ee0ec" opacity="0.28"/>
<rect x="170.2" y="522.9" width="1.3" height="3.0" fill="#8ee0ec" opacity="0.09"/>
<rect x="71.5" y="535.1" width="1.0" height="2.4" fill="#8ee0ec" opacity="0.11"/>
<rect x="119.5" y="526.9" width="1.3" height="1.5" fill="#8ee0ec" opacity="0.25"/>
<rect x="189.3" y="517.6" width="1.3" height="3.6" fill="#8ee0ec" opacity="0.28"/>
<rect x="111.9" y="529.5" width="0.9" height="4.5" fill="#8ee0ec" opacity="0.21"/>
<rect x="121.9" y="532.1" width="0.8" height="1.6" fill="#8ee0ec" opacity="0.10"/>
<rect x="188.7" y="525.4" width="1.3" height="2.2" fill="#8ee0ec" opacity="0.14"/>
<rect x="143.0" y="520.9" width="0.9" height="4.4" fill="#8ee0ec" opacity="0.27"/>
<rect x="185.5" y="541.7" width="1.3" height="4.3" fill="#8ee0ec" opacity="0.20"/>
<rect x="172.5" y="514.3" width="1.2" height="2.9" fill="#8ee0ec" opacity="0.25"/>
<rect x="161.9" y="525.5" width="0.6" height="4.3" fill="#8ee0ec" opacity="0.11"/>
<rect x="137.6" y="528.2" width="0.8" height="3.7" fill="#8ee0ec" opacity="0.29"/>
<rect x="107.7" y="542.8" width="0.8" height="3.2" fill="#8ee0ec" opacity="0.17"/>
<rect x="94.6" y="519.6" width="0.8" height="4.2" fill="#8ee0ec" opacity="0.19"/>
<rect x="102.0" y="554.6" width="1.4" height="2.8" fill="#8ee0ec" opacity="0.11"/>
<rect x="98.1" y="516.3" width="0.9" height="1.8" fill="#8ee0ec" opacity="0.13"/>
<rect x="107.4" y="538.8" width="1.3" height="3.7" fill="#8ee0ec" opacity="0.17"/>
<rect x="129.4" y="536.6" width="0.9" height="2.5" fill="#8ee0ec" opacity="0.09"/>
<rect x="110.1" y="557.5" width="0.7" height="3.0" fill="#8ee0ec" opacity="0.22"/>
<rect x="192.7" y="522.2" width="0.8" height="2.2" fill="#8ee0ec" opacity="0.17"/>
<rect x="133.9" y="556.8" width="1.3" height="4.1" fill="#8ee0ec" opacity="0.08"/>
<rect x="75.5" y="545.3" width="1.3" height="2.9" fill="#8ee0ec" opacity="0.21"/>
<rect x="71.0" y="530.4" width="1.3" height="4.0" fill="#8ee0ec" opacity="0.27"/>
<rect x="208.1" y="523.7" width="0.7" height="2.0" fill="#8ee0ec" opacity="0.19"/>
<rect x="167.2" y="556.3" width="1.2" height="3.4" fill="#8ee0ec" opacity="0.25"/>
<rect x="135.5" y="537.9" width="0.6" height="3.8" fill="#8ee0ec" opacity="0.13"/>
<rect x="200.7" y="542.3" width="0.8" height="1.9" fill="#8ee0ec" opacity="0.14"/>
<rect x="160.7" y="544.8" width="0.7" height="1.7" fill="#8ee0ec" opacity="0.20"/>
<rect x="153.2" y="530.2" width="0.8" height="3.3" fill="#8ee0ec" opacity="0.08"/>
<rect x="113.5" y="533.7" width="1.4" height="3.4" fill="#8ee0ec" opacity="0.27"/>
<rect x="138.0" y="523.0" width="0.8" height="4.4" fill="#8ee0ec" opacity="0.24"/>
<rect x="114.3" y="513.0" width="1.0" height="3.5" fill="#8ee0ec" opacity="0.17"/>
<rect x="107.3" y="543.4" width="1.3" height="2.2" fill="#8ee0ec" opacity="0.09"/>
<rect x="118.7" y="531.8" width="1.1" height="2.1" fill="#8ee0ec" opacity="0.26"/>
<rect x="175.2" y="535.7" width="0.8" height="4.4" fill="#8ee0ec" opacity="0.15"/>
<rect x="186.6" y="522.8" width="0.8" height="3.8" fill="#8ee0ec" opacity="0.14"/>
<rect x="205.2" y="535.3" width="0.7" height="2.2" fill="#8ee0ec" opacity="0.17"/>
<rect x="164.8" y="556.6" width="0.7" height="2.7" fill="#8ee0ec" opacity="0.13"/>
<rect x="208.4" y="518.7" width="0.6" height="1.7" fill="#8ee0ec" opacity="0.17"/>
<rect x="197.6" y="553.5" width="1.2" height="4.5" fill="#8ee0ec" opacity="0.28"/>
<rect x="117.4" y="520.7" width="1.3" height="3.7" fill="#8ee0ec" opacity="0.09"/>
<rect x="164.7" y="529.8" width="0.9" height="2.5" fill="#8ee0ec" opacity="0.12"/>
<rect x="71.4" y="525.2" width="0.9" height="4.4" fill="#8ee0ec" opacity="0.11"/>
<rect x="207.0" y="521.7" width="0.9" height="4.0" fill="#8ee0ec" opacity="0.26"/>
<rect x="132.0" y="514.3" width="1.0" height="2.6" fill="#8ee0ec" opacity="0.28"/>
<rect x="98.2" y="529.1" width="1.3" height="1.6" fill="#8ee0ec" opacity="0.17"/>
<rect x="185.5" y="548.0" width="0.6" height="1.6" fill="#8ee0ec" opacity="0.09"/>
<rect x="200.7" y="524.1" width="1.2" height="4.2" fill="#8ee0ec" opacity="0.15"/>
<rect x="109.4" y="557.0" width="1.1" height="2.3" fill="#8ee0ec" opacity="0.24"/>
<rect x="115.6" y="525.0" width="0.6" height="3.8" fill="#8ee0ec" opacity="0.28"/>
<rect x="160.4" y="556.3" width="0.6" height="2.2" fill="#8ee0ec" opacity="0.18"/>
<rect x="205.9" y="556.8" width="0.9" height="2.3" fill="#8ee0ec" opacity="0.17"/>
<rect x="140.6" y="555.6" width="0.7" height="3.9" fill="#8ee0ec" opacity="0.24"/>
<rect x="187.0" y="548.3" width="1.1" height="2.5" fill="#8ee0ec" opacity="0.15"/>
<rect x="122.0" y="548.8" width="0.7" height="2.1" fill="#8ee0ec" opacity="0.25"/>
<rect x="105.9" y="515.0" width="0.6" height="3.2" fill="#8ee0ec" opacity="0.15"/>
<rect x="209.2" y="553.5" width="1.4" height="2.3" fill="#8ee0ec" opacity="0.10"/>
<rect x="84.6" y="535.4" width="1.2" height="2.8" fill="#8ee0ec" opacity="0.13"/>
<rect x="129.8" y="541.2" width="1.1" height="3.7" fill="#8ee0ec" opacity="0.27"/>
<rect x="164.7" y="517.7" width="1.3" height="2.4" fill="#8ee0ec" opacity="0.20"/>
<rect x="123.6" y="546.7" width="0.8" height="2.2" fill="#8ee0ec" opacity="0.13"/>
<rect x="92.6" y="553.6" width="1.1" height="2.5" fill="#8ee0ec" opacity="0.17"/>
<rect x="210.9" y="535.8" width="0.8" height="3.9" fill="#8ee0ec" opacity="0.22"/>
<rect x="210.7" y="516.8" width="1.0" height="4.0" fill="#8ee0ec" opacity="0.26"/>
<rect x="199.9" y="513.9" width="0.8" height="1.9" fill="#8ee0ec" opacity="0.12"/>
<rect x="208.2" y="539.4" width="1.3" height="2.6" fill="#8ee0ec" opacity="0.27"/>
<rect x="134.3" y="524.2" width="1.2" height="4.3" fill="#8ee0ec" opacity="0.10"/>
<rect x="155.1" y="541.1" width="0.8" height="2.6" fill="#8ee0ec" opacity="0.11"/>
<rect x="99.8" y="524.0" width="1.1" height="3.5" fill="#8ee0ec" opacity="0.12"/>
<rect x="72.6" y="527.4" width="1.1" height="2.1" fill="#8ee0ec" opacity="0.15"/>
<rect x="99.7" y="549.4" width="1.0" height="1.7" fill="#8ee0ec" opacity="0.10"/>
<rect x="126.7" y="537.9" width="1.1" height="1.8" fill="#8ee0ec" opacity="0.12"/>
<rect x="169.1" y="531.3" width="0.8" height="2.4" fill="#8ee0ec" opacity="0.29"/>
<rect x="115.0" y="538.6" width="0.9" height="2.7" fill="#8ee0ec" opacity="0.27"/>
<rect x="211.5" y="529.1" width="0.8" height="3.7" fill="#8ee0ec" opacity="0.12"/>
<rect x="71.8" y="554.4" width="0.9" height="4.0" fill="#8ee0ec" opacity="0.17"/>
<rect x="195.5" y="533.7" width="0.7" height="1.5" fill="#8ee0ec" opacity="0.20"/>
<rect x="161.3" y="554.8" width="0.7" height="3.4" fill="#8ee0ec" opacity="0.16"/>
<rect x="142.1" y="518.9" width="0.8" height="3.1" fill="#8ee0ec" opacity="0.28"/>
<rect x="86.3" y="535.1" width="1.2" height="4.4" fill="#8ee0ec" opacity="0.12"/>
<rect x="88.9" y="556.3" width="1.4" height="2.9" fill="#8ee0ec" opacity="0.09"/>
<rect x="201.6" y="530.2" width="1.3" height="3.4" fill="#8ee0ec" opacity="0.26"/>
<rect x="93.6" y="548.9" width="0.8" height="2.7" fill="#8ee0ec" opacity="0.27"/>
<rect x="187.9" y="520.6" width="0.8" height="2.7" fill="#8ee0ec" opacity="0.19"/>
<rect x="125.1" y="517.8" width="0.8" height="3.7" fill="#8ee0ec" opacity="0.28"/>
<rect x="76.8" y="538.4" width="1.2" height="1.6" fill="#8ee0ec" opacity="0.26"/>
<rect x="87.6" y="540.2" width="1.0" height="3.4" fill="#8ee0ec" opacity="0.15"/>
<rect x="130.2" y="539.4" width="0.9" height="3.5" fill="#8ee0ec" opacity="0.18"/>
<rect x="132.8" y="513.1" width="1.1" height="3.0" fill="#8ee0ec" opacity="0.13"/>
<rect x="178.7" y="548.7" width="1.0" height="2.0" fill="#8ee0ec" opacity="0.18"/>
<rect x="86.1" y="518.0" width="0.9" height="1.8" fill="#8ee0ec" opacity="0.18"/>
<rect x="142.9" y="513.9" width="1.1" height="1.7" fill="#8ee0ec" opacity="0.24"/>
<rect x="180.6" y="536.0" width="0.6" height="3.0" fill="#8ee0ec" opacity="0.16"/>
<rect x="205.1" y="518.4" width="1.3" height="4.5" fill="#8ee0ec" opacity="0.24"/>
<rect x="185.9" y="521.1" width="1.4" height="3.0" fill="#8ee0ec" opacity="0.29"/>
<rect x="200.2" y="519.8" width="1.2" height="4.3" fill="#8ee0ec" opacity="0.09"/>
<rect x="120.5" y="547.5" width="0.7" height="4.2" fill="#8ee0ec" opacity="0.14"/>
<rect x="186.0" y="518.7" width="1.0" height="4.3" fill="#8ee0ec" opacity="0.13"/>
<rect x="108.1" y="535.8" width="0.9" height="1.6" fill="#8ee0ec" opacity="0.12"/>
<rect x="93.7" y="556.0" width="1.1" height="4.2" fill="#8ee0ec" opacity="0.12"/>
<rect x="181.7" y="517.4" width="1.0" height="3.4" fill="#8ee0ec" opacity="0.16"/>
<rect x="194.1" y="538.1" width="1.1" height="4.1" fill="#8ee0ec" opacity="0.10"/>
<rect x="211.0" y="541.6" width="0.9" height="3.9" fill="#8ee0ec" opacity="0.14"/>
<rect x="210.7" y="539.1" width="0.9" height="3.8" fill="#8ee0ec" opacity="0.18"/>
<rect x="95.9" y="546.9" width="0.6" height="4.0" fill="#8ee0ec" opacity="0.14"/>
<rect x="161.1" y="558.3" width="1.1" height="3.5" fill="#8ee0ec" opacity="0.15"/>
<rect x="71.3" y="513.6" width="0.7" height="3.3" fill="#8ee0ec" opacity="0.18"/>
<rect x="143.3" y="554.1" width="0.7" height="2.2" fill="#8ee0ec" opacity="0.22"/>
<rect x="74.1" y="512.1" width="0.9" height="1.8" fill="#8ee0ec" opacity="0.16"/>
<rect x="102.6" y="539.4" width="1.1" height="2.1" fill="#8ee0ec" opacity="0.22"/>
<rect x="138.0" y="518.3" width="1.3" height="2.2" fill="#8ee0ec" opacity="0.11"/>
<rect x="84.5" y="542.0" width="1.3" height="3.8" fill="#8ee0ec" opacity="0.17"/>
<rect x="108.3" y="512.5" width="1.1" height="3.2" fill="#8ee0ec" opacity="0.16"/>
<rect x="162.0" y="532.9" width="1.3" height="3.7" fill="#8ee0ec" opacity="0.13"/>
<rect x="198.4" y="514.1" width="1.0" height="2.7" fill="#8ee0ec" opacity="0.13"/>
<rect x="79.2" y="548.6" width="0.6" height="3.2" fill="#8ee0ec" opacity="0.29"/>
<rect x="91.1" y="521.4" width="1.1" height="3.0" fill="#8ee0ec" opacity="0.22"/>
<rect x="185.7" y="520.2" width="0.8" height="2.4" fill="#8ee0ec" opacity="0.09"/>
<rect x="196.4" y="548.8" width="1.2" height="1.5" fill="#8ee0ec" opacity="0.27"/>
<rect x="176.1" y="533.9" width="1.2" height="2.9" fill="#8ee0ec" opacity="0.13"/>
<rect x="85.8" y="522.9" width="0.6" height="2.5" fill="#8ee0ec" opacity="0.24"/>
<rect x="169.0" y="551.7" width="1.2" height="2.3" fill="#8ee0ec" opacity="0.20"/>
<rect x="132.5" y="549.1" width="1.0" height="2.3" fill="#8ee0ec" opacity="0.22"/>
<rect x="207.1" y="522.2" width="1.3" height="1.5" fill="#8ee0ec" opacity="0.14"/>
<rect x="104.3" y="547.0" width="1.4" height="3.7" fill="#8ee0ec" opacity="0.15"/>
<rect x="195.1" y="527.4" width="0.8" height="4.2" fill="#8ee0ec" opacity="0.22"/>
<rect x="168.7" y="543.3" width="1.4" height="2.9" fill="#8ee0ec" opacity="0.26"/>
<rect x="169.4" y="552.3" width="0.9" height="3.7" fill="#8ee0ec" opacity="0.21"/>
<rect x="114.4" y="522.0" width="1.1" height="1.7" fill="#8ee0ec" opacity="0.28"/>
<rect x="91.4" y="513.3" width="0.7" height="4.3" fill="#8ee0ec" opacity="0.16"/>
<rect x="91.0" y="513.4" width="0.6" height="3.6" fill="#8ee0ec" opacity="0.22"/>
<rect x="169.3" y="546.6" width="0.7" height="3.3" fill="#8ee0ec" opacity="0.16"/>
<rect x="186.3" y="550.5" width="1.3" height="1.7" fill="#8ee0ec" opacity="0.27"/>
<rect x="199.9" y="556.4" width="0.7" height="2.1" fill="#8ee0ec" opacity="0.10"/>
<rect x="75.9" y="551.8" width="1.2" height="3.4" fill="#8ee0ec" opacity="0.26"/>
<rect x="160.0" y="525.5" width="0.7" height="1.8" fill="#8ee0ec" opacity="0.25"/>
<rect x="99.9" y="527.0" width="0.9" height="1.6" fill="#8ee0ec" opacity="0.14"/>
<rect x="110.8" y="545.6" width="0.9" height="2.5" fill="#8ee0ec" opacity="0.29"/>
<rect x="142.0" y="552.0" width="1.1" height="1.6" fill="#8ee0ec" opacity="0.17"/>
<rect x="132.5" y="548.3" width="0.9" height="3.6" fill="#8ee0ec" opacity="0.20"/>
<rect x="101.5" y="552.5" width="0.7" height="4.0" fill="#8ee0ec" opacity="0.12"/>
<rect x="71.2" y="521.5" width="1.2" height="4.4" fill="#8ee0ec" opacity="0.08"/>
<rect x="140.2" y="535.1" width="1.2" height="2.1" fill="#8ee0ec" opacity="0.19"/>
<rect x="120.0" y="551.1" width="0.8" height="4.3" fill="#8ee0ec" opacity="0.14"/>
<rect x="101.3" y="544.9" width="1.0" height="1.8" fill="#8ee0ec" opacity="0.22"/>
<rect x="82.4" y="549.0" width="1.2" height="3.9" fill="#8ee0ec" opacity="0.22"/>
<rect x="121.1" y="530.9" width="0.9" height="4.2" fill="#8ee0ec" opacity="0.10"/>
<rect x="196.3" y="513.2" width="0.8" height="2.3" fill="#8ee0ec" opacity="0.28"/>
<rect x="141.7" y="529.8" width="1.3" height="2.2" fill="#8ee0ec" opacity="0.18"/>
<rect x="145.9" y="547.5" width="1.2" height="3.4" fill="#8ee0ec" opacity="0.16"/>
<rect x="117.1" y="519.3" width="1.3" height="3.5" fill="#8ee0ec" opacity="0.24"/>
<rect x="94.9" y="532.6" width="1.2" height="3.2" fill="#8ee0ec" opacity="0.11"/>
<rect x="136.1" y="553.6" width="0.8" height="2.1" fill="#8ee0ec" opacity="0.15"/>
<rect x="142.2" y="518.5" width="0.9" height="2.1" fill="#6fd8e6" opacity="0.31"/>
<rect x="130.9" y="523.7" width="1.0" height="3.9" fill="#6fd8e6" opacity="0.46"/>
<rect x="118.8" y="530.7" width="1.1" height="4.0" fill="#6fd8e6" opacity="0.48"/>
<rect x="140.9" y="518.2" width="1.3" height="1.8" fill="#6fd8e6" opacity="0.27"/>
<rect x="124.7" y="527.0" width="1.4" height="3.2" fill="#6fd8e6" opacity="0.38"/>
<rect x="137.1" y="519.9" width="1.3" height="2.5" fill="#6fd8e6" opacity="0.46"/>
<rect x="147.9" y="517.5" width="1.4" height="2.6" fill="#6fd8e6" opacity="0.28"/>
<rect x="143.2" y="523.0" width="1.4" height="3.6" fill="#6fd8e6" opacity="0.44"/>
<rect x="137.4" y="521.0" width="1.3" height="1.7" fill="#6fd8e6" opacity="0.35"/>
<rect x="144.6" y="520.6" width="1.0" height="2.6" fill="#6fd8e6" opacity="0.36"/>
<rect x="136.3" y="524.3" width="1.5" height="2.0" fill="#6fd8e6" opacity="0.43"/>
<rect x="142.5" y="519.6" width="1.6" height="1.6" fill="#6fd8e6" opacity="0.39"/>
<rect x="120.1" y="536.1" width="1.2" height="1.8" fill="#6fd8e6" opacity="0.40"/>
<rect x="134.9" y="524.7" width="1.3" height="3.6" fill="#6fd8e6" opacity="0.38"/>
<rect x="131.1" y="525.1" width="1.3" height="2.5" fill="#6fd8e6" opacity="0.47"/>
<rect x="119.8" y="532.3" width="0.8" height="2.2" fill="#6fd8e6" opacity="0.34"/>
<rect x="112.0" y="535.1" width="1.4" height="2.4" fill="#6fd8e6" opacity="0.29"/>
<rect x="122.4" y="534.8" width="1.2" height="2.0" fill="#6fd8e6" opacity="0.48"/>
<rect x="126.0" y="524.8" width="1.4" height="3.5" fill="#6fd8e6" opacity="0.42"/>
<rect x="131.1" y="524.0" width="1.6" height="2.4" fill="#6fd8e6" opacity="0.42"/>
<rect x="146.6" y="518.6" width="1.0" height="2.9" fill="#6fd8e6" opacity="0.24"/>
<rect x="144.5" y="521.3" width="1.0" height="2.4" fill="#6fd8e6" opacity="0.29"/>
<rect x="127.2" y="523.1" width="1.4" height="2.2" fill="#6fd8e6" opacity="0.29"/>
<rect x="124.0" y="529.1" width="1.3" height="3.1" fill="#6fd8e6" opacity="0.33"/>
<rect x="151.3" y="513.0" width="1.5" height="3.8" fill="#6fd8e6" opacity="0.47"/>
<rect x="119.6" y="534.1" width="0.8" height="1.5" fill="#6fd8e6" opacity="0.53"/>
<rect x="136.7" y="519.0" width="0.9" height="2.1" fill="#6fd8e6" opacity="0.47"/>
<rect x="123.8" y="532.0" width="1.4" height="1.9" fill="#6fd8e6" opacity="0.51"/>
<rect x="138.0" y="524.6" width="1.5" height="3.5" fill="#6fd8e6" opacity="0.49"/>
<rect x="121.1" y="532.1" width="1.4" height="2.6" fill="#6fd8e6" opacity="0.51"/>
<rect x="132.8" y="522.2" width="0.9" height="2.7" fill="#6fd8e6" opacity="0.22"/>
<rect x="128.6" y="526.1" width="1.2" height="2.8" fill="#6fd8e6" opacity="0.50"/>
<rect x="114.3" y="535.6" width="1.3" height="3.2" fill="#6fd8e6" opacity="0.49"/>
<rect x="126.5" y="531.8" width="0.9" height="3.1" fill="#6fd8e6" opacity="0.42"/>
<rect x="113.8" y="536.9" width="1.5" height="2.3" fill="#6fd8e6" opacity="0.54"/>
<rect x="132.3" y="528.5" width="0.8" height="3.3" fill="#6fd8e6" opacity="0.42"/>
<rect x="127.7" y="527.8" width="1.2" height="2.8" fill="#6fd8e6" opacity="0.47"/>
<rect x="120.0" y="531.0" width="1.2" height="3.6" fill="#6fd8e6" opacity="0.30"/>
<rect x="144.5" y="518.6" width="1.0" height="2.8" fill="#6fd8e6" opacity="0.54"/>
<rect x="139.9" y="520.9" width="1.1" height="2.2" fill="#6fd8e6" opacity="0.41"/>
<rect x="139.1" y="519.0" width="1.4" height="3.7" fill="#6fd8e6" opacity="0.39"/>
<rect x="112.8" y="531.0" width="1.0" height="3.8" fill="#6fd8e6" opacity="0.41"/>
<rect x="140.1" y="525.5" width="1.3" height="3.0" fill="#6fd8e6" opacity="0.42"/>
<rect x="140.4" y="522.8" width="1.0" height="3.2" fill="#6fd8e6" opacity="0.36"/>
<rect x="140.1" y="517.4" width="0.8" height="3.4" fill="#6fd8e6" opacity="0.52"/>
<rect x="137.4" y="524.8" width="1.4" height="2.9" fill="#6fd8e6" opacity="0.29"/>
<rect x="123.6" y="528.2" width="1.1" height="3.1" fill="#6fd8e6" opacity="0.53"/>
<rect x="114.6" y="531.2" width="0.9" height="3.5" fill="#6fd8e6" opacity="0.40"/>
<rect x="148.4" y="512.8" width="1.1" height="3.0" fill="#6fd8e6" opacity="0.53"/>
<rect x="151.1" y="514.7" width="0.9" height="3.1" fill="#6fd8e6" opacity="0.27"/>
<rect x="115.2" y="528.9" width="1.3" height="1.8" fill="#6fd8e6" opacity="0.54"/>
<rect x="117.7" y="531.2" width="0.8" height="3.3" fill="#6fd8e6" opacity="0.28"/>
<rect x="139.5" y="517.0" width="1.4" height="3.3" fill="#6fd8e6" opacity="0.50"/>
<rect x="138.7" y="521.7" width="1.4" height="2.7" fill="#6fd8e6" opacity="0.53"/>
<rect x="124.9" y="532.4" width="0.8" height="1.5" fill="#6fd8e6" opacity="0.43"/>
<rect x="142.2" y="517.3" width="1.4" height="1.9" fill="#6fd8e6" opacity="0.50"/>
<rect x="128.8" y="524.7" width="1.3" height="2.6" fill="#6fd8e6" opacity="0.44"/>
<rect x="119.6" y="531.9" width="1.3" height="3.1" fill="#6fd8e6" opacity="0.35"/>
<rect x="129.1" y="531.5" width="1.4" height="2.9" fill="#6fd8e6" opacity="0.30"/>
<rect x="117.3" y="536.4" width="1.5" height="2.3" fill="#6fd8e6" opacity="0.41"/>
<rect x="153.1" y="516.3" width="1.0" height="2.6" fill="#6fd8e6" opacity="0.51"/>
<rect x="128.2" y="528.9" width="1.5" height="3.5" fill="#6fd8e6" opacity="0.30"/>
<rect x="110.6" y="535.3" width="1.3" height="3.5" fill="#6fd8e6" opacity="0.51"/>
<rect x="115.7" y="537.6" width="1.5" height="2.9" fill="#6fd8e6" opacity="0.30"/>
<rect x="147.9" y="519.6" width="1.5" height="2.4" fill="#6fd8e6" opacity="0.23"/>
<rect x="135.9" y="522.0" width="1.4" height="3.8" fill="#6fd8e6" opacity="0.28"/>
<rect x="137.3" y="523.0" width="1.0" height="2.1" fill="#6fd8e6" opacity="0.46"/>
<rect x="143.4" y="516.1" width="1.4" height="3.4" fill="#6fd8e6" opacity="0.28"/>
<rect x="137.6" y="526.9" width="1.2" height="2.7" fill="#6fd8e6" opacity="0.41"/>
<rect x="117.7" y="529.5" width="1.4" height="2.4" fill="#6fd8e6" opacity="0.40"/>
<rect x="166.2" y="540.4" width="0.8" height="4.0" fill="#6fd8e6" opacity="0.33"/>
<rect x="155.0" y="543.1" width="0.9" height="3.0" fill="#6fd8e6" opacity="0.32"/>
<rect x="167.9" y="540.4" width="1.6" height="3.7" fill="#6fd8e6" opacity="0.37"/>
<rect x="171.3" y="546.8" width="1.1" height="3.9" fill="#6fd8e6" opacity="0.47"/>
<rect x="185.5" y="544.6" width="0.8" height="2.0" fill="#6fd8e6" opacity="0.26"/>
<rect x="150.7" y="541.1" width="1.5" height="2.6" fill="#6fd8e6" opacity="0.53"/>
<rect x="183.8" y="548.1" width="1.1" height="1.8" fill="#6fd8e6" opacity="0.54"/>
<rect x="160.7" y="543.2" width="1.6" height="3.2" fill="#6fd8e6" opacity="0.34"/>
<rect x="165.9" y="547.3" width="1.6" height="2.1" fill="#6fd8e6" opacity="0.21"/>
<rect x="159.3" y="545.3" width="1.5" height="3.6" fill="#6fd8e6" opacity="0.22"/>
<rect x="182.7" y="547.5" width="1.6" height="1.6" fill="#6fd8e6" opacity="0.25"/>
<rect x="182.8" y="547.5" width="1.0" height="3.0" fill="#6fd8e6" opacity="0.47"/>
<rect x="153.2" y="538.9" width="0.9" height="2.7" fill="#6fd8e6" opacity="0.26"/>
<rect x="157.4" y="543.3" width="0.8" height="3.3" fill="#6fd8e6" opacity="0.27"/>
<rect x="154.0" y="538.1" width="1.5" height="3.7" fill="#6fd8e6" opacity="0.51"/>
<rect x="155.3" y="537.9" width="1.5" height="3.6" fill="#6fd8e6" opacity="0.42"/>
<rect x="167.1" y="546.2" width="1.2" height="3.1" fill="#6fd8e6" opacity="0.25"/>
<rect x="156.2" y="543.5" width="1.2" height="1.9" fill="#6fd8e6" opacity="0.50"/>
<rect x="160.1" y="539.4" width="1.0" height="3.6" fill="#6fd8e6" opacity="0.32"/>
<rect x="156.7" y="539.9" width="1.5" height="1.8" fill="#6fd8e6" opacity="0.54"/>
<rect x="154.6" y="541.8" width="1.0" height="2.7" fill="#6fd8e6" opacity="0.30"/>
<rect x="158.5" y="541.0" width="1.6" height="4.0" fill="#6fd8e6" opacity="0.52"/>
<rect x="152.6" y="544.0" width="0.8" height="3.3" fill="#6fd8e6" opacity="0.30"/>
<rect x="186.2" y="550.3" width="1.1" height="1.9" fill="#6fd8e6" opacity="0.20"/>
<rect x="183.4" y="544.1" width="1.1" height="3.8" fill="#6fd8e6" opacity="0.28"/>
<rect x="170.7" y="542.0" width="1.4" height="3.3" fill="#6fd8e6" opacity="0.27"/>
<rect x="150.7" y="541.5" width="1.2" height="2.2" fill="#6fd8e6" opacity="0.27"/>
<rect x="175.7" y="547.4" width="1.3" height="2.0" fill="#6fd8e6" opacity="0.22"/>
<rect x="178.8" y="547.6" width="0.8" height="3.5" fill="#6fd8e6" opacity="0.32"/>
<rect x="185.9" y="546.7" width="0.8" height="3.8" fill="#6fd8e6" opacity="0.37"/>
<rect x="183.5" y="544.5" width="1.5" height="2.4" fill="#6fd8e6" opacity="0.26"/>
<rect x="165.4" y="539.0" width="1.2" height="2.6" fill="#6fd8e6" opacity="0.38"/>
<rect x="156.1" y="543.5" width="1.5" height="2.3" fill="#6fd8e6" opacity="0.45"/>
<rect x="166.8" y="539.5" width="1.5" height="3.9" fill="#6fd8e6" opacity="0.37"/>
<rect x="170.7" y="544.4" width="0.8" height="3.9" fill="#6fd8e6" opacity="0.28"/>
<rect x="154.9" y="539.5" width="1.5" height="1.6" fill="#6fd8e6" opacity="0.23"/>
<rect x="176.1" y="541.7" width="1.3" height="2.9" fill="#6fd8e6" opacity="0.38"/>
<rect x="175.7" y="548.6" width="1.4" height="1.6" fill="#6fd8e6" opacity="0.24"/>
<rect x="169.7" y="542.2" width="0.9" height="2.5" fill="#6fd8e6" opacity="0.25"/>
<rect x="175.8" y="541.9" width="1.3" height="3.4" fill="#6fd8e6" opacity="0.26"/>
<rect x="185.7" y="545.7" width="1.1" height="3.6" fill="#6fd8e6" opacity="0.38"/>
<rect x="168.5" y="545.4" width="1.1" height="2.1" fill="#6fd8e6" opacity="0.32"/>
<rect x="170.3" y="545.9" width="1.5" height="3.5" fill="#6fd8e6" opacity="0.50"/>
<rect x="152.2" y="544.1" width="1.5" height="2.1" fill="#6fd8e6" opacity="0.35"/>
<rect x="174.5" y="545.3" width="0.9" height="2.6" fill="#6fd8e6" opacity="0.38"/>
<rect x="148.7" y="543.9" width="1.4" height="3.8" fill="#6fd8e6" opacity="0.42"/>
<rect x="184.7" y="549.6" width="0.8" height="3.1" fill="#6fd8e6" opacity="0.29"/>
<rect x="175.8" y="545.8" width="1.5" height="3.1" fill="#6fd8e6" opacity="0.29"/>
<rect x="170.4" y="547.8" width="1.0" height="2.3" fill="#6fd8e6" opacity="0.43"/>
<rect x="155.4" y="544.6" width="1.2" height="2.2" fill="#6fd8e6" opacity="0.36"/>
<rect x="169.2" y="541.3" width="0.9" height="2.2" fill="#6fd8e6" opacity="0.34"/>
<rect x="160.0" y="539.0" width="1.2" height="3.6" fill="#6fd8e6" opacity="0.41"/>
<rect x="173.7" y="542.2" width="1.4" height="2.7" fill="#6fd8e6" opacity="0.39"/>
<rect x="174.3" y="543.4" width="1.0" height="2.1" fill="#6fd8e6" opacity="0.38"/>
<rect x="165.8" y="539.2" width="1.1" height="3.7" fill="#6fd8e6" opacity="0.28"/>
<rect x="172.2" y="542.7" width="1.6" height="2.2" fill="#6fd8e6" opacity="0.47"/>
<rect x="153.7" y="544.2" width="1.2" height="1.7" fill="#6fd8e6" opacity="0.34"/>
<rect x="169.0" y="540.4" width="1.0" height="3.9" fill="#6fd8e6" opacity="0.46"/>
<rect x="155.2" y="540.1" width="1.3" height="3.0" fill="#6fd8e6" opacity="0.50"/>
<rect x="183.0" y="548.5" width="1.4" height="3.4" fill="#6fd8e6" opacity="0.37"/>
<rect x="111.4" y="543.5" width="0.9" height="3.7" fill="#6fd8e6" opacity="0.20"/>
<rect x="110.3" y="540.3" width="1.6" height="2.9" fill="#6fd8e6" opacity="0.35"/>
<rect x="112.3" y="541.0" width="1.1" height="2.6" fill="#6fd8e6" opacity="0.36"/>
<rect x="107.8" y="539.9" width="1.2" height="2.5" fill="#6fd8e6" opacity="0.31"/>
<rect x="112.3" y="540.1" width="1.2" height="2.0" fill="#6fd8e6" opacity="0.31"/>
<rect x="99.1" y="547.2" width="0.9" height="3.8" fill="#6fd8e6" opacity="0.31"/>
<rect x="113.2" y="543.2" width="1.0" height="2.6" fill="#6fd8e6" opacity="0.52"/>
<rect x="93.5" y="548.4" width="1.2" height="3.8" fill="#6fd8e6" opacity="0.47"/>
<rect x="108.7" y="542.8" width="1.2" height="3.2" fill="#6fd8e6" opacity="0.34"/>
<rect x="103.0" y="543.2" width="1.6" height="3.2" fill="#6fd8e6" opacity="0.38"/>
<rect x="97.0" y="546.2" width="1.2" height="2.9" fill="#6fd8e6" opacity="0.51"/>
<rect x="113.3" y="537.9" width="1.3" height="4.0" fill="#6fd8e6" opacity="0.32"/>
<rect x="107.4" y="540.1" width="1.1" height="3.9" fill="#6fd8e6" opacity="0.49"/>
<rect x="102.9" y="546.0" width="1.4" height="3.6" fill="#6fd8e6" opacity="0.55"/>
<rect x="111.5" y="536.4" width="1.0" height="2.8" fill="#6fd8e6" opacity="0.38"/>
<rect x="97.5" y="547.2" width="1.3" height="2.4" fill="#6fd8e6" opacity="0.55"/>
<rect x="104.7" y="540.9" width="1.4" height="2.3" fill="#6fd8e6" opacity="0.44"/>
<rect x="94.9" y="550.7" width="1.3" height="3.2" fill="#6fd8e6" opacity="0.27"/>
<rect x="105.3" y="541.1" width="1.3" height="2.8" fill="#6fd8e6" opacity="0.55"/>
<rect x="105.8" y="539.2" width="0.9" height="3.4" fill="#6fd8e6" opacity="0.24"/>
<rect x="95.8" y="547.2" width="1.5" height="3.0" fill="#6fd8e6" opacity="0.48"/>
<rect x="94.2" y="549.5" width="1.1" height="3.3" fill="#6fd8e6" opacity="0.32"/>
<rect x="97.6" y="543.1" width="1.5" height="3.0" fill="#6fd8e6" opacity="0.32"/>
<rect x="103.4" y="539.9" width="1.5" height="3.0" fill="#6fd8e6" opacity="0.54"/>
<rect x="104.6" y="541.6" width="0.8" height="3.8" fill="#6fd8e6" opacity="0.50"/>
<rect x="125.4" y="556.0" width="1.0" height="3.0" fill="#6fd8e6" opacity="0.54"/>
<rect x="128.6" y="550.0" width="1.1" height="3.3" fill="#6fd8e6" opacity="0.28"/>
<rect x="125.2" y="553.4" width="1.4" height="2.1" fill="#6fd8e6" opacity="0.26"/>
<rect x="121.9" y="556.9" width="1.0" height="2.9" fill="#6fd8e6" opacity="0.24"/>
<rect x="125.9" y="551.0" width="0.9" height="1.8" fill="#6fd8e6" opacity="0.49"/>
<rect x="122.1" y="550.7" width="1.0" height="2.1" fill="#6fd8e6" opacity="0.21"/>
<rect x="127.7" y="547.9" width="1.4" height="1.7" fill="#6fd8e6" opacity="0.29"/>
<rect x="129.1" y="548.9" width="1.5" height="3.5" fill="#6fd8e6" opacity="0.26"/>
<rect x="125.0" y="552.2" width="1.6" height="2.0" fill="#6fd8e6" opacity="0.53"/>
<rect x="124.4" y="551.6" width="0.9" height="3.3" fill="#6fd8e6" opacity="0.29"/>
<rect x="132.9" y="547.7" width="1.0" height="3.0" fill="#6fd8e6" opacity="0.27"/>
<rect x="129.7" y="549.1" width="1.2" height="2.2" fill="#6fd8e6" opacity="0.47"/>
<rect x="125.1" y="553.5" width="1.0" height="2.5" fill="#6fd8e6" opacity="0.23"/>
<rect x="122.9" y="553.2" width="1.3" height="1.8" fill="#6fd8e6" opacity="0.40"/>
<rect x="123.8" y="551.5" width="0.9" height="2.3" fill="#6fd8e6" opacity="0.28"/>
<rect x="121.3" y="553.2" width="1.1" height="3.8" fill="#6fd8e6" opacity="0.47"/>
<rect x="134.3" y="546.0" width="1.0" height="1.6" fill="#6fd8e6" opacity="0.44"/>
<rect x="127.7" y="550.0" width="1.3" height="3.2" fill="#6fd8e6" opacity="0.29"/>
<rect x="130.7" y="550.3" width="0.9" height="1.8" fill="#6fd8e6" opacity="0.52"/>
<rect x="131.0" y="546.5" width="0.8" height="1.9" fill="#6fd8e6" opacity="0.27"/>
<rect x="122.1" y="549.9" width="1.0" height="3.1" fill="#6fd8e6" opacity="0.26"/>
<rect x="131.9" y="551.0" width="1.0" height="2.6" fill="#6fd8e6" opacity="0.44"/>
<rect x="120.6" y="555.9" width="1.4" height="2.2" fill="#6fd8e6" opacity="0.22"/>
<rect x="132.3" y="545.5" width="1.0" height="1.8" fill="#6fd8e6" opacity="0.48"/>
<rect x="123.8" y="556.3" width="0.9" height="3.2" fill="#6fd8e6" opacity="0.34"/>
<rect x="179.4" y="516.3" width="0.9" height="3.9" fill="#6fd8e6" opacity="0.21"/>
<rect x="184.1" y="519.2" width="1.5" height="3.1" fill="#6fd8e6" opacity="0.21"/>
<rect x="157.8" y="520.2" width="1.2" height="3.8" fill="#6fd8e6" opacity="0.13"/>
<rect x="175.1" y="519.6" width="1.4" height="2.2" fill="#6fd8e6" opacity="0.24"/>
<rect x="184.9" y="517.5" width="1.0" height="1.6" fill="#6fd8e6" opacity="0.19"/>
<rect x="165.6" y="517.8" width="0.9" height="3.3" fill="#6fd8e6" opacity="0.27"/>
<rect x="160.6" y="520.2" width="1.2" height="3.8" fill="#6fd8e6" opacity="0.19"/>
<rect x="166.3" y="516.9" width="1.3" height="2.3" fill="#6fd8e6" opacity="0.30"/>
<rect x="173.0" y="516.2" width="1.3" height="3.0" fill="#6fd8e6" opacity="0.22"/>
<rect x="180.0" y="514.9" width="1.0" height="2.4" fill="#6fd8e6" opacity="0.15"/>
<rect x="155.5" y="518.3" width="1.4" height="2.6" fill="#6fd8e6" opacity="0.13"/>
<rect x="164.5" y="518.6" width="0.9" height="1.7" fill="#6fd8e6" opacity="0.10"/>
<rect x="186.3" y="513.7" width="1.4" height="4.0" fill="#6fd8e6" opacity="0.24"/>
<rect x="158.2" y="520.0" width="1.0" height="2.9" fill="#6fd8e6" opacity="0.10"/>
<rect x="183.5" y="518.3" width="1.5" height="3.1" fill="#6fd8e6" opacity="0.16"/>
<rect x="160.2" y="516.2" width="1.4" height="3.6" fill="#6fd8e6" opacity="0.17"/>
<rect x="161.4" y="523.0" width="1.5" height="1.9" fill="#6fd8e6" opacity="0.30"/>
<rect x="181.4" y="516.3" width="0.9" height="3.6" fill="#6fd8e6" opacity="0.18"/>
<rect x="166.4" y="518.5" width="1.5" height="2.1" fill="#6fd8e6" opacity="0.11"/>
<rect x="172.8" y="521.3" width="1.4" height="3.8" fill="#6fd8e6" opacity="0.34"/>
<rect x="95.00" y="546.21" width="1.75" height="6.56" fill="#a6e9ef" opacity="0.6"/>
<rect x="96.50" y="545.05" width="1.75" height="6.29" fill="#a6e9ef" opacity="0.6"/>
<rect x="98.00" y="544.80" width="1.75" height="5.99" fill="#a6e9ef" opacity="0.6"/>
<rect x="99.50" y="543.98" width="1.75" height="6.10" fill="#a6e9ef" opacity="0.6"/>
<rect x="100.00" y="538.23" width="1.75" height="8.41" fill="#a6e9ef" opacity="0.6"/>
<rect x="101.50" y="538.26" width="1.75" height="6.88" fill="#a6e9ef" opacity="0.6"/>
<rect x="103.00" y="538.24" width="1.75" height="7.12" fill="#a6e9ef" opacity="0.6"/>
<rect x="104.50" y="538.43" width="1.75" height="6.81" fill="#a6e9ef" opacity="0.6"/>
<rect x="106.00" y="537.56" width="1.75" height="8.22" fill="#a6e9ef" opacity="0.6"/>
<rect x="107.50" y="537.54" width="1.75" height="7.51" fill="#a6e9ef" opacity="0.6"/>
<rect x="109.00" y="536.43" width="1.75" height="7.90" fill="#a6e9ef" opacity="0.6"/>
<rect x="110.50" y="536.59" width="1.75" height="7.50" fill="#a6e9ef" opacity="0.6"/>
<rect x="112.00" y="536.06" width="1.75" height="7.53" fill="#a6e9ef" opacity="0.6"/>
<rect x="113.50" y="535.82" width="1.75" height="8.17" fill="#a6e9ef" opacity="0.6"/>
<rect x="118.50" y="552.48" width="1.75" height="7.62" fill="#a6e9ef" opacity="0.6"/>
<rect x="120.00" y="550.96" width="1.75" height="8.12" fill="#a6e9ef" opacity="0.6"/>
<rect x="121.50" y="550.83" width="1.75" height="7.95" fill="#a6e9ef" opacity="0.6"/>
<rect x="123.00" y="550.09" width="1.75" height="7.47" fill="#a6e9ef" opacity="0.6"/>
<rect x="124.50" y="549.37" width="1.75" height="8.15" fill="#a6e9ef" opacity="0.6"/>
<rect x="126.00" y="549.21" width="1.75" height="8.96" fill="#a6e9ef" opacity="0.6"/>
<rect x="127.50" y="548.49" width="1.75" height="9.07" fill="#a6e9ef" opacity="0.6"/>
<rect x="129.00" y="548.39" width="1.75" height="8.44" fill="#a6e9ef" opacity="0.6"/>
<rect x="130.50" y="548.17" width="1.75" height="7.43" fill="#a6e9ef" opacity="0.6"/>
<rect x="132.00" y="546.98" width="1.75" height="8.42" fill="#a6e9ef" opacity="0.6"/>
<rect x="135.50" y="524.93" width="1.75" height="6.66" fill="#a6e9ef" opacity="0.6"/>
<rect x="137.00" y="525.03" width="1.75" height="6.54" fill="#a6e9ef" opacity="0.6"/>
<rect x="145.00" y="518.60" width="1.75" height="4.16" fill="#a6e9ef" opacity="0.6"/>
<rect x="146.50" y="517.50" width="1.75" height="4.63" fill="#a6e9ef" opacity="0.6"/>
<rect x="175.50" y="516.76" width="1.75" height="4.34" fill="#a6e9ef" opacity="0.6"/>
<rect x="177.00" y="517.43" width="1.75" height="4.57" fill="#a6e9ef" opacity="0.6"/>
<rect x="152.00" y="544.36" width="1.75" height="6.28" fill="#a6e9ef" opacity="0.6"/>
<rect x="156.00" y="539.15" width="1.75" height="13.64" fill="#a6e9ef" opacity="0.6"/>
<rect x="157.50" y="539.42" width="1.75" height="13.48" fill="#a6e9ef" opacity="0.6"/>
<rect x="159.00" y="540.00" width="1.75" height="13.06" fill="#a6e9ef" opacity="0.6"/>
<rect x="160.50" y="539.64" width="1.75" height="12.39" fill="#a6e9ef" opacity="0.6"/>
<rect x="162.00" y="540.57" width="1.75" height="13.54" fill="#a6e9ef" opacity="0.6"/>
<rect x="163.50" y="538.79" width="1.75" height="14.52" fill="#a6e9ef" opacity="0.6"/>
<rect x="165.00" y="540.35" width="1.75" height="12.12" fill="#a6e9ef" opacity="0.6"/>
<rect x="166.50" y="540.72" width="1.75" height="12.61" fill="#a6e9ef" opacity="0.6"/>
<rect x="168.00" y="540.28" width="1.75" height="13.56" fill="#a6e9ef" opacity="0.6"/>
<rect x="169.50" y="539.89" width="1.75" height="13.61" fill="#a6e9ef" opacity="0.6"/>
<rect x="171.00" y="539.88" width="1.75" height="13.43" fill="#a6e9ef" opacity="0.6"/>
<rect x="172.50" y="541.53" width="1.75" height="12.08" fill="#a6e9ef" opacity="0.6"/>
<rect x="174.00" y="541.32" width="1.75" height="12.05" fill="#a6e9ef" opacity="0.6"/>
<rect x="175.50" y="540.25" width="1.75" height="14.52" fill="#a6e9ef" opacity="0.6"/>
<rect x="177.00" y="540.80" width="1.75" height="14.06" fill="#a6e9ef" opacity="0.6"/>
<rect x="178.50" y="542.21" width="1.75" height="12.18" fill="#a6e9ef" opacity="0.6"/>
<rect x="180.00" y="541.80" width="1.75" height="14.08" fill="#a6e9ef" opacity="0.6"/>
<rect x="181.50" y="540.14" width="1.75" height="14.42" fill="#a6e9ef" opacity="0.6"/>
<rect x="183.00" y="541.80" width="1.75" height="12.36" fill="#a6e9ef" opacity="0.6"/>
<rect x="184.50" y="542.32" width="1.75" height="13.58" fill="#a6e9ef" opacity="0.6"/>
<rect x="186.00" y="542.76" width="1.75" height="12.25" fill="#a6e9ef" opacity="0.6"/>
<rect x="95.00" y="547.62" width="1.75" height="3.74" fill="#4848d6"/>
<rect x="96.50" y="546.42" width="1.75" height="3.55" fill="#4848d6"/>
<rect x="98.00" y="546.13" width="1.75" height="3.34" fill="#4848d6"/>
<rect x="99.50" y="545.32" width="1.75" height="3.42" fill="#4848d6"/>
<rect x="100.00" y="539.86" width="1.75" height="5.15" fill="#4848d6"/>
<rect x="101.50" y="539.67" width="1.75" height="4.05" fill="#4848d6"/>
<rect x="103.00" y="539.69" width="1.75" height="4.23" fill="#4848d6"/>
<rect x="104.50" y="539.83" width="1.75" height="4.01" fill="#4848d6"/>
<rect x="106.00" y="539.16" width="1.75" height="5.02" fill="#4848d6"/>
<rect x="107.50" y="539.04" width="1.75" height="4.51" fill="#4848d6"/>
<rect x="109.00" y="537.98" width="1.75" height="4.79" fill="#4848d6"/>
<rect x="110.50" y="538.09" width="1.75" height="4.50" fill="#4848d6"/>
<rect x="112.00" y="537.35" width="1.75" height="4.96" fill="#4848d6"/>
<rect x="113.50" y="537.18" width="1.75" height="5.46" fill="#4848d6"/>
<rect x="118.50" y="553.96" width="1.75" height="4.66" fill="#4848d6"/>
<rect x="120.00" y="552.51" width="1.75" height="5.02" fill="#4848d6"/>
<rect x="121.50" y="552.36" width="1.75" height="4.90" fill="#4848d6"/>
<rect x="123.00" y="551.47" width="1.75" height="4.70" fill="#4848d6"/>
<rect x="124.50" y="550.84" width="1.75" height="5.21" fill="#4848d6"/>
<rect x="126.00" y="550.78" width="1.75" height="5.82" fill="#4848d6"/>
<rect x="127.50" y="550.07" width="1.75" height="5.91" fill="#4848d6"/>
<rect x="129.00" y="549.89" width="1.75" height="5.43" fill="#4848d6"/>
<rect x="130.50" y="549.55" width="1.75" height="4.67" fill="#4848d6"/>
<rect x="132.00" y="548.48" width="1.75" height="5.41" fill="#4848d6"/>
<rect x="135.50" y="526.35" width="1.75" height="3.81" fill="#4848d6"/>
<rect x="137.00" y="526.43" width="1.75" height="3.72" fill="#4848d6"/>
<rect x="145.00" y="519.84" width="1.75" height="1.67" fill="#4848d6"/>
<rect x="146.50" y="518.84" width="1.75" height="1.94" fill="#4848d6"/>
<rect x="175.50" y="518.11" width="1.75" height="1.64" fill="#4848d6"/>
<rect x="177.00" y="518.83" width="1.75" height="1.76" fill="#4848d6"/>
<rect x="152.00" y="546.12" width="1.75" height="2.77" fill="#4848d6"/>
<rect x="156.00" y="541.20" width="1.75" height="9.55" fill="#4848d6"/>
<rect x="157.50" y="541.45" width="1.75" height="9.43" fill="#4848d6"/>
<rect x="159.00" y="541.98" width="1.75" height="9.10" fill="#4848d6"/>
<rect x="160.50" y="541.06" width="1.75" height="9.54" fill="#4848d6"/>
<rect x="162.00" y="542.08" width="1.75" height="10.52" fill="#4848d6"/>
<rect x="163.50" y="540.37" width="1.75" height="11.36" fill="#4848d6"/>
<rect x="165.00" y="541.76" width="1.75" height="9.32" fill="#4848d6"/>
<rect x="166.50" y="542.16" width="1.75" height="9.73" fill="#4848d6"/>
<rect x="168.00" y="541.79" width="1.75" height="10.54" fill="#4848d6"/>
<rect x="169.50" y="541.40" width="1.75" height="10.59" fill="#4848d6"/>
<rect x="171.00" y="541.98" width="1.75" height="9.25" fill="#4848d6"/>
<rect x="172.50" y="544.14" width="1.75" height="6.85" fill="#4848d6"/>
<rect x="174.00" y="543.93" width="1.75" height="6.83" fill="#4848d6"/>
<rect x="175.50" y="543.32" width="1.75" height="8.39" fill="#4848d6"/>
<rect x="177.00" y="542.71" width="1.75" height="10.23" fill="#4848d6"/>
<rect x="178.50" y="543.93" width="1.75" height="8.74" fill="#4848d6"/>
<rect x="180.00" y="543.71" width="1.75" height="10.25" fill="#4848d6"/>
<rect x="181.50" y="542.08" width="1.75" height="10.52" fill="#4848d6"/>
<rect x="183.00" y="543.54" width="1.75" height="8.88" fill="#4848d6"/>
<rect x="184.50" y="545.05" width="1.75" height="8.11" fill="#4848d6"/>
<rect x="186.00" y="545.26" width="1.75" height="7.24" fill="#4848d6"/>
<rect x="95.00" y="548.36" width="1.75" height="2.27" fill="#a42c98"/>
<rect x="96.50" y="547.11" width="1.75" height="2.16" fill="#a42c98"/>
<rect x="98.00" y="546.78" width="1.75" height="2.03" fill="#a42c98"/>
<rect x="99.50" y="545.99" width="1.75" height="2.08" fill="#a42c98"/>
<rect x="100.00" y="540.78" width="1.75" height="3.30" fill="#a42c98"/>
<rect x="101.50" y="540.40" width="1.75" height="2.59" fill="#a42c98"/>
<rect x="103.00" y="540.45" width="1.75" height="2.71" fill="#a42c98"/>
<rect x="104.50" y="540.55" width="1.75" height="2.57" fill="#a42c98"/>
<rect x="106.00" y="540.06" width="1.75" height="3.21" fill="#a42c98"/>
<rect x="107.50" y="539.85" width="1.75" height="2.89" fill="#a42c98"/>
<rect x="109.00" y="538.85" width="1.75" height="3.06" fill="#a42c98"/>
<rect x="110.50" y="538.90" width="1.75" height="2.88" fill="#a42c98"/>
<rect x="112.00" y="537.96" width="1.75" height="3.72" fill="#a42c98"/>
<rect x="113.50" y="537.86" width="1.75" height="4.09" fill="#a42c98"/>
<rect x="118.50" y="554.75" width="1.75" height="3.08" fill="#a42c98"/>
<rect x="120.00" y="553.36" width="1.75" height="3.32" fill="#a42c98"/>
<rect x="121.50" y="553.19" width="1.75" height="3.23" fill="#a42c98"/>
<rect x="123.00" y="552.18" width="1.75" height="3.29" fill="#a42c98"/>
<rect x="124.50" y="551.62" width="1.75" height="3.65" fill="#a42c98"/>
<rect x="126.00" y="551.65" width="1.75" height="4.07" fill="#a42c98"/>
<rect x="127.50" y="550.96" width="1.75" height="4.13" fill="#a42c98"/>
<rect x="129.00" y="550.70" width="1.75" height="3.80" fill="#a42c98"/>
<rect x="130.50" y="550.25" width="1.75" height="3.27" fill="#a42c98"/>
<rect x="132.00" y="549.30" width="1.75" height="3.79" fill="#a42c98"/>
<rect x="135.50" y="527.10" width="1.75" height="2.32" fill="#a42c98"/>
<rect x="137.00" y="527.16" width="1.75" height="2.26" fill="#a42c98"/>
<rect x="156.00" y="542.50" width="1.75" height="6.94" fill="#a42c98"/>
<rect x="157.50" y="542.73" width="1.75" height="6.85" fill="#a42c98"/>
<rect x="159.00" y="543.22" width="1.75" height="6.62" fill="#a42c98"/>
<rect x="160.50" y="541.80" width="1.75" height="8.06" fill="#a42c98"/>
<rect x="162.00" y="542.89" width="1.75" height="8.89" fill="#a42c98"/>
<rect x="163.50" y="541.25" width="1.75" height="9.60" fill="#a42c98"/>
<rect x="165.00" y="542.48" width="1.75" height="7.87" fill="#a42c98"/>
<rect x="166.50" y="542.91" width="1.75" height="8.22" fill="#a42c98"/>
<rect x="168.00" y="542.60" width="1.75" height="8.90" fill="#a42c98"/>
<rect x="169.50" y="542.22" width="1.75" height="8.95" fill="#a42c98"/>
<rect x="171.00" y="543.32" width="1.75" height="6.56" fill="#a42c98"/>
<rect x="177.00" y="543.89" width="1.75" height="7.87" fill="#a42c98"/>
<rect x="178.50" y="544.94" width="1.75" height="6.72" fill="#a42c98"/>
<rect x="180.00" y="544.89" width="1.75" height="7.89" fill="#a42c98"/>
<rect x="181.50" y="543.30" width="1.75" height="8.09" fill="#a42c98"/>
<rect x="183.00" y="544.56" width="1.75" height="6.83" fill="#a42c98"/>
<rect x="184.50" y="546.97" width="1.75" height="4.27" fill="#a42c98"/>
<rect x="186.00" y="546.98" width="1.75" height="3.81" fill="#a42c98"/>
<rect x="112.00" y="538.58" width="1.75" height="2.48" fill="#e4283c"/>
<rect x="113.50" y="538.54" width="1.75" height="2.73" fill="#e4283c"/>
<rect x="123.00" y="552.89" width="1.75" height="1.88" fill="#e4283c"/>
<rect x="124.50" y="552.40" width="1.75" height="2.08" fill="#e4283c"/>
<rect x="126.00" y="552.52" width="1.75" height="2.33" fill="#e4283c"/>
<rect x="127.50" y="551.84" width="1.75" height="2.36" fill="#e4283c"/>
<rect x="129.00" y="551.52" width="1.75" height="2.17" fill="#e4283c"/>
<rect x="130.50" y="550.95" width="1.75" height="1.87" fill="#e4283c"/>
<rect x="132.00" y="550.11" width="1.75" height="2.16" fill="#e4283c"/>
<rect x="156.00" y="543.80" width="1.75" height="4.34" fill="#e4283c"/>
<rect x="157.50" y="544.02" width="1.75" height="4.28" fill="#e4283c"/>
<rect x="159.00" y="544.47" width="1.75" height="4.14" fill="#e4283c"/>
<rect x="160.50" y="542.54" width="1.75" height="6.58" fill="#e4283c"/>
<rect x="162.00" y="543.71" width="1.75" height="7.26" fill="#e4283c"/>
<rect x="163.50" y="542.13" width="1.75" height="7.83" fill="#e4283c"/>
<rect x="165.00" y="543.20" width="1.75" height="6.42" fill="#e4283c"/>
<rect x="166.50" y="543.67" width="1.75" height="6.71" fill="#e4283c"/>
<rect x="168.00" y="543.42" width="1.75" height="7.27" fill="#e4283c"/>
<rect x="169.50" y="543.04" width="1.75" height="7.30" fill="#e4283c"/>
<rect x="171.00" y="544.66" width="1.75" height="3.88" fill="#e4283c"/>
<rect x="177.00" y="545.07" width="1.75" height="5.51" fill="#e4283c"/>
<rect x="178.50" y="545.95" width="1.75" height="4.71" fill="#e4283c"/>
<rect x="180.00" y="546.08" width="1.75" height="5.52" fill="#e4283c"/>
<rect x="181.50" y="544.51" width="1.75" height="5.67" fill="#e4283c"/>
<rect x="183.00" y="545.59" width="1.75" height="4.78" fill="#e4283c"/>
<rect x="160.50" y="543.37" width="1.75" height="4.94" fill="#f07a22"/>
<rect x="162.00" y="544.62" width="1.75" height="5.44" fill="#f07a22"/>
<rect x="163.50" y="543.11" width="1.75" height="5.88" fill="#f07a22"/>
<rect x="165.00" y="544.00" width="1.75" height="4.82" fill="#f07a22"/>
<rect x="166.50" y="544.50" width="1.75" height="5.03" fill="#f07a22"/>
<rect x="168.00" y="544.33" width="1.75" height="5.45" fill="#f07a22"/>
<rect x="169.50" y="543.95" width="1.75" height="5.48" fill="#f07a22"/>
<rect x="177.00" y="546.38" width="1.75" height="2.89" fill="#f07a22"/>
<rect x="178.50" y="547.07" width="1.75" height="2.47" fill="#f07a22"/>
<rect x="180.00" y="547.39" width="1.75" height="2.89" fill="#f07a22"/>
<rect x="181.50" y="545.86" width="1.75" height="2.97" fill="#f07a22"/>
<rect x="183.00" y="546.72" width="1.75" height="2.51" fill="#f07a22"/>
<rect x="160.50" y="544.11" width="1.75" height="3.46" fill="#dcdc2a"/>
<rect x="162.00" y="545.43" width="1.75" height="3.81" fill="#dcdc2a"/>
<rect x="163.50" y="543.99" width="1.75" height="4.11" fill="#dcdc2a"/>
<rect x="165.00" y="544.73" width="1.75" height="3.37" fill="#dcdc2a"/>
<rect x="166.50" y="545.26" width="1.75" height="3.52" fill="#dcdc2a"/>
<rect x="168.00" y="545.15" width="1.75" height="3.82" fill="#dcdc2a"/>
<rect x="169.50" y="544.78" width="1.75" height="3.83" fill="#dcdc2a"/>
<rect x="160.50" y="544.68" width="1.75" height="2.30" fill="#86d846"/>
<rect x="162.00" y="546.07" width="1.75" height="2.54" fill="#86d846"/>
<rect x="163.50" y="544.68" width="1.75" height="2.74" fill="#86d846"/>
<rect x="165.00" y="545.29" width="1.75" height="2.25" fill="#86d846"/>
<rect x="166.50" y="545.85" width="1.75" height="2.35" fill="#86d846"/>
<rect x="168.00" y="545.78" width="1.75" height="2.54" fill="#86d846"/>
<rect x="169.50" y="545.42" width="1.75" height="2.56" fill="#86d846"/>
<polyline points="92.80,520.00 92.80,517.60 187.10,517.60 187.10,520.00" fill="none" stroke="#444" stroke-width="1.3"/>
<line x1="68.70" y1="521.00" x2="68.70" y2="561.70" stroke="#000" stroke-width="2"/>
<line x1="64.90" y1="521.60" x2="68.70" y2="521.60" stroke="#000" stroke-width="1.6"/>
<text transform="translate(62.00 525.90) scale(1 1.1)" font-size="13.9" text-anchor="end" font-weight="normal" fill="#000">100</text>
<line x1="64.90" y1="541.10" x2="68.70" y2="541.10" stroke="#000" stroke-width="1.6"/>
<text transform="translate(62.00 545.40) scale(1 1.1)" font-size="13.9" text-anchor="end" font-weight="normal" fill="#000">80</text>
<line x1="64.90" y1="560.30" x2="68.70" y2="560.30" stroke="#000" stroke-width="1.6"/>
<text transform="translate(62.00 564.60) scale(1 1.1)" font-size="13.9" text-anchor="end" font-weight="normal" fill="#000">60</text>
<line x1="67.70" y1="560.70" x2="213.50" y2="560.70" stroke="#000" stroke-width="2"/>
<line x1="68.70" y1="560.70" x2="68.70" y2="565.60" stroke="#000" stroke-width="1.6"/>
<text transform="translate(68.70 581.20) scale(1 1.1)" font-size="13.9" text-anchor="middle" font-weight="normal" fill="#000">0</text>
<line x1="116.80" y1="560.70" x2="116.80" y2="565.60" stroke="#000" stroke-width="1.6"/>
<text transform="translate(116.80 581.20) scale(1 1.1)" font-size="13.9" text-anchor="middle" font-weight="normal" fill="#000">0.02</text>
<line x1="164.90" y1="560.70" x2="164.90" y2="565.60" stroke="#000" stroke-width="1.6"/>
<text transform="translate(164.90 581.20) scale(1 1.1)" font-size="13.9" text-anchor="middle" font-weight="normal" fill="#000">0.04</text>
<line x1="213.00" y1="560.70" x2="213.00" y2="565.60" stroke="#000" stroke-width="1.6"/>
<text transform="translate(213.00 581.20) scale(1 1.1)" font-size="13.9" text-anchor="middle" font-weight="normal" fill="#000">0.06</text>
<text transform="translate(144.80 602.20) scale(1 1.1)" font-size="13.9" text-anchor="middle" font-weight="normal" fill="#000">Time (s)</text>
<text transform="translate(24.00 537.20) rotate(-90) scale(1 1.06)" font-size="14.0" text-anchor="middle" font-weight="normal" fill="#000">Freq. (Hz)</text>
<line x1="297.10" y1="416.30" x2="297.10" y2="562.20" stroke="#000" stroke-width="2"/>
<line x1="292.90" y1="561.40" x2="297.10" y2="561.40" stroke="#000" stroke-width="1.6"/>
<text transform="translate(285.30 565.70) scale(1 1.1)" font-size="13.9" text-anchor="end" font-weight="normal" fill="#000">0.0</text>
<line x1="292.90" y1="532.50" x2="297.10" y2="532.50" stroke="#000" stroke-width="1.6"/>
<text transform="translate(285.30 536.80) scale(1 1.1)" font-size="13.9" text-anchor="end" font-weight="normal" fill="#000">0.5</text>
<line x1="292.90" y1="503.60" x2="297.10" y2="503.60" stroke="#000" stroke-width="1.6"/>
<text transform="translate(285.30 507.90) scale(1 1.1)" font-size="13.9" text-anchor="end" font-weight="normal" fill="#000">1.0</text>
<line x1="292.90" y1="474.70" x2="297.10" y2="474.70" stroke="#000" stroke-width="1.6"/>
<text transform="translate(285.30 479.00) scale(1 1.1)" font-size="13.9" text-anchor="end" font-weight="normal" fill="#000">1.5</text>
<line x1="292.90" y1="445.80" x2="297.10" y2="445.80" stroke="#000" stroke-width="1.6"/>
<text transform="translate(285.30 450.10) scale(1 1.1)" font-size="13.9" text-anchor="end" font-weight="normal" fill="#000">2.0</text>
<line x1="292.90" y1="416.90" x2="297.10" y2="416.90" stroke="#000" stroke-width="1.6"/>
<text transform="translate(285.30 421.20) scale(1 1.1)" font-size="13.9" text-anchor="end" font-weight="normal" fill="#000">2.5</text>
<line x1="296.10" y1="561.40" x2="442.20" y2="561.40" stroke="#000" stroke-width="2"/>
<line x1="315.20" y1="561.40" x2="315.20" y2="565.00" stroke="#000" stroke-width="1.6"/>
<line x1="351.60" y1="561.40" x2="351.60" y2="565.00" stroke="#000" stroke-width="1.6"/>
<line x1="387.60" y1="561.40" x2="387.60" y2="565.00" stroke="#000" stroke-width="1.6"/>
<line x1="423.60" y1="561.40" x2="423.60" y2="565.00" stroke="#000" stroke-width="1.6"/>
<line x1="441.70" y1="561.40" x2="441.70" y2="565.00" stroke="#000" stroke-width="1.6"/>
<text transform="translate(315.20 582.80) scale(1 1.1)" font-size="13.9" text-anchor="middle" font-weight="normal" fill="#000">1</text>
<text transform="translate(351.60 582.80) scale(1 1.1)" font-size="13.9" text-anchor="middle" font-weight="normal" fill="#000">2</text>
<text transform="translate(387.60 582.80) scale(1 1.1)" font-size="13.9" text-anchor="middle" font-weight="normal" fill="#000">3</text>
<text transform="translate(423.60 582.80) scale(1 1.1)" font-size="13.9" text-anchor="middle" font-weight="normal" fill="#000">4</text>
<text transform="translate(373.70 604.20) scale(1 1.1)" font-size="13.9" text-anchor="middle" font-weight="normal" fill="#000">Tube test rank</text>
<text transform="translate(254.20 491.90) rotate(-90) scale(1 1.06)" font-size="13.6" text-anchor="middle" font-weight="normal" fill="#000">Relative vocalizations</text>
<line x1="315.20" y1="433.08" x2="315.20" y2="486.26" stroke="#000" stroke-width="1.8"/>
<line x1="310.00" y1="433.08" x2="320.40" y2="433.08" stroke="#000" stroke-width="1.8"/>
<line x1="310.00" y1="486.26" x2="320.40" y2="486.26" stroke="#000" stroke-width="1.8"/>
<line x1="351.60" y1="479.90" x2="351.60" y2="530.77" stroke="#000" stroke-width="1.8"/>
<line x1="346.40" y1="479.90" x2="356.80" y2="479.90" stroke="#000" stroke-width="1.8"/>
<line x1="346.40" y1="530.77" x2="356.80" y2="530.77" stroke="#000" stroke-width="1.8"/>
<line x1="387.60" y1="488.57" x2="387.60" y2="534.81" stroke="#000" stroke-width="1.8"/>
<line x1="382.40" y1="488.57" x2="392.80" y2="488.57" stroke="#000" stroke-width="1.8"/>
<line x1="382.40" y1="534.81" x2="392.80" y2="534.81" stroke="#000" stroke-width="1.8"/>
<line x1="423.60" y1="523.83" x2="423.60" y2="551.57" stroke="#000" stroke-width="1.8"/>
<line x1="418.40" y1="523.83" x2="428.80" y2="523.83" stroke="#000" stroke-width="1.8"/>
<line x1="418.40" y1="551.57" x2="428.80" y2="551.57" stroke="#000" stroke-width="1.8"/>
<line x1="315.20" y1="466.60" x2="423.60" y2="541.90" stroke="#000" stroke-width="2"/>
<rect x="309.13" y="453.61" width="12.13" height="12.13" fill="#0d0d0d" stroke="#000" stroke-width="1.8"/>
<ellipse cx="351.60" cy="505.91" rx="6.01" ry="6.34" fill="#575150" stroke="#000" stroke-width="1.8"/>
<polygon points="387.60,506.20 392.96,512.27 387.60,518.34 382.24,512.27" fill="#7f7b78" stroke="#000" stroke-width="1.8"/>
<polygon points="423.60,531.96 429.12,543.44 418.08,543.44" fill="#e2e0e0" stroke="#000" stroke-width="1.8"/>
<text transform="translate(383.80 426.30) scale(1 1.1)" font-size="13.9" text-anchor="start" font-weight="normal" fill="#000" font-style="italic">r</text>
<text transform="translate(392.50 426.30) scale(1 1.1)" font-size="13.9" text-anchor="start" font-weight="normal" fill="#000">= -0.97</text>
<text transform="translate(386.00 449.80) scale(1 1.1)" font-size="13.9" text-anchor="start" font-weight="normal" fill="#000" font-style="italic">P</text>
<text transform="translate(399.40 449.80) scale(1 1.1)" font-size="13.9" text-anchor="start" font-weight="normal" fill="#000">= 0.02</text>
<path d="M534.60,543.7 L534.60,469.36 L555.20,469.36 L555.20,543.7" fill="#0d0d0d" stroke="#000" stroke-width="2"/>
<path d="M534.60,551 L534.60,559.5 L555.20,559.5 L555.20,551" fill="#0d0d0d" stroke="#000" stroke-width="2"/>
<line x1="544.90" y1="464.10" x2="544.90" y2="474.62" stroke="#000" stroke-width="1.8"/>
<line x1="540.50" y1="464.10" x2="549.30" y2="464.10" stroke="#000" stroke-width="1.8"/>
<line x1="540.50" y1="474.62" x2="549.30" y2="474.62" stroke="#000" stroke-width="1.8"/>
<path d="M571.10,543.7 L571.10,472.70 L591.70,472.70 L591.70,543.7" fill="#575150" stroke="#000" stroke-width="2"/>
<path d="M571.10,551 L571.10,559.5 L591.70,559.5 L591.70,551" fill="#575150" stroke="#000" stroke-width="2"/>
<line x1="581.40" y1="468.40" x2="581.40" y2="477.48" stroke="#000" stroke-width="1.8"/>
<line x1="577.00" y1="468.40" x2="585.80" y2="468.40" stroke="#000" stroke-width="1.8"/>
<line x1="577.00" y1="477.48" x2="585.80" y2="477.48" stroke="#000" stroke-width="1.8"/>
<path d="M607.70,543.7 L607.70,476.05 L628.30,476.05 L628.30,543.7" fill="#7f7b78" stroke="#000" stroke-width="2"/>
<path d="M607.70,551 L607.70,559.5 L628.30,559.5 L628.30,551" fill="#7f7b78" stroke="#000" stroke-width="2"/>
<line x1="618.00" y1="470.79" x2="618.00" y2="481.31" stroke="#000" stroke-width="1.8"/>
<line x1="613.60" y1="470.79" x2="622.40" y2="470.79" stroke="#000" stroke-width="1.8"/>
<line x1="613.60" y1="481.31" x2="622.40" y2="481.31" stroke="#000" stroke-width="1.8"/>
<path d="M643.90,543.7 L643.90,468.88 L664.50,468.88 L664.50,543.7" fill="#e2e0e0" stroke="#000" stroke-width="2"/>
<path d="M643.90,551 L643.90,559.5 L664.50,559.5 L664.50,551" fill="#e2e0e0" stroke="#000" stroke-width="2"/>
<line x1="654.20" y1="463.62" x2="654.20" y2="474.14" stroke="#000" stroke-width="1.8"/>
<line x1="649.80" y1="463.62" x2="658.60" y2="463.62" stroke="#000" stroke-width="1.8"/>
<line x1="649.80" y1="474.14" x2="658.60" y2="474.14" stroke="#000" stroke-width="1.8"/>
<line x1="526.70" y1="415.40" x2="526.70" y2="545.00" stroke="#000" stroke-width="2"/>
<line x1="526.70" y1="552.40" x2="526.70" y2="560.00" stroke="#000" stroke-width="2"/>
<line x1="519.70" y1="547.60" x2="535.50" y2="543.40" stroke="#000" stroke-width="1.8"/>
<line x1="519.70" y1="553.80" x2="535.50" y2="549.60" stroke="#000" stroke-width="1.8"/>
<line x1="522.40" y1="416.00" x2="526.70" y2="416.00" stroke="#000" stroke-width="1.6"/>
<text transform="translate(515.10 420.30) scale(1 1.1)" font-size="13.9" text-anchor="end" font-weight="normal" fill="#000">35</text>
<line x1="522.40" y1="464.10" x2="526.70" y2="464.10" stroke="#000" stroke-width="1.6"/>
<text transform="translate(515.10 468.40) scale(1 1.1)" font-size="13.9" text-anchor="end" font-weight="normal" fill="#000">30</text>
<line x1="522.40" y1="511.60" x2="526.70" y2="511.60" stroke="#000" stroke-width="1.6"/>
<text transform="translate(515.10 515.90) scale(1 1.1)" font-size="13.9" text-anchor="end" font-weight="normal" fill="#000">25</text>
<line x1="522.40" y1="559.50" x2="526.70" y2="559.50" stroke="#000" stroke-width="1.6"/>
<text transform="translate(515.10 563.80) scale(1 1.1)" font-size="13.9" text-anchor="end" font-weight="normal" fill="#000">0</text>
<line x1="522.60" y1="559.50" x2="672.00" y2="559.50" stroke="#000" stroke-width="2"/>
<line x1="544.90" y1="559.50" x2="544.90" y2="563.00" stroke="#000" stroke-width="1.6"/>
<line x1="581.40" y1="559.50" x2="581.40" y2="563.00" stroke="#000" stroke-width="1.6"/>
<line x1="618.00" y1="559.50" x2="618.00" y2="563.00" stroke="#000" stroke-width="1.6"/>
<line x1="654.20" y1="559.50" x2="654.20" y2="563.00" stroke="#000" stroke-width="1.6"/>
<line x1="671.50" y1="559.50" x2="671.50" y2="563.00" stroke="#000" stroke-width="1.6"/>
<text transform="translate(544.90 581.00) scale(1 1.1)" font-size="13.9" text-anchor="middle" font-weight="normal" fill="#000">1</text>
<text transform="translate(581.40 581.00) scale(1 1.1)" font-size="13.9" text-anchor="middle" font-weight="normal" fill="#000">2</text>
<text transform="translate(618.00 581.00) scale(1 1.1)" font-size="13.9" text-anchor="middle" font-weight="normal" fill="#000">3</text>
<text transform="translate(654.20 581.00) scale(1 1.1)" font-size="13.9" text-anchor="middle" font-weight="normal" fill="#000">4</text>
<text transform="translate(604.50 604.20) scale(1 1.1)" font-size="13.9" text-anchor="middle" font-weight="normal" fill="#000">Tube test rank</text>
<text transform="translate(484.70 487.40) rotate(-90) scale(1 1.06)" font-size="14.0" text-anchor="middle" font-weight="normal" fill="#000">Weight (g)</text>
<polyline points="85.80,651.07 122.00,728.19 157.90,735.46 194.00,755.83" fill="none" stroke="#b9b6b6" stroke-width="2.1"/>
<polyline points="85.80,700.54 122.00,725.28 157.90,757.29 194.00,763.11" fill="none" stroke="#b9b6b6" stroke-width="2.1"/>
<polyline points="85.80,715.09 122.00,732.55 157.90,713.64 194.00,752.92" fill="none" stroke="#b9b6b6" stroke-width="2.1"/>
<polyline points="85.80,726.73 122.00,697.63 157.90,736.92 194.00,731.10" fill="none" stroke="#b9b6b6" stroke-width="2.1"/>
<polyline points="85.80,731.10 122.00,712.77 157.90,752.92 194.00,715.82" fill="none" stroke="#b9b6b6" stroke-width="2.1"/>
<polyline points="85.80,734.01 122.00,750.01 157.90,705.49 194.00,732.55" fill="none" stroke="#b9b6b6" stroke-width="2.1"/>
<polyline points="85.80,738.38 122.00,723.82 157.90,774.75 194.00,767.47" fill="none" stroke="#b9b6b6" stroke-width="2.1"/>
<polyline points="85.80,743.47 122.00,755.83 157.90,715.09 194.00,728.19" fill="none" stroke="#b9b6b6" stroke-width="2.1"/>
<polyline points="85.80,751.47 122.00,731.10 157.90,760.20 194.00,770.38" fill="none" stroke="#b9b6b6" stroke-width="2.1"/>
<polyline points="85.80,756.56 122.00,766.02 157.90,732.55 194.00,751.47" fill="none" stroke="#b9b6b6" stroke-width="2.1"/>
<polyline points="85.80,763.11 122.00,726.73 157.90,755.83 194.00,763.11" fill="none" stroke="#b9b6b6" stroke-width="2.1"/>
<polyline points="85.80,769.95 122.00,773.29 157.90,751.47 194.00,760.20" fill="none" stroke="#b9b6b6" stroke-width="2.1"/>
<polyline points="85.80,776.20 122.00,766.02 157.90,761.65 194.00,767.47" fill="none" stroke="#b9b6b6" stroke-width="2.1"/>
<polyline points="85.80,766.02 122.00,745.65 157.90,739.83 194.00,729.64" fill="none" stroke="#b9b6b6" stroke-width="2.1"/>
<polyline points="85.80,760.20 122.00,738.38 157.90,748.56 194.00,761.65" fill="none" stroke="#b9b6b6" stroke-width="2.1"/>
<polyline points="85.80,741.28 122.00,773.29 157.90,758.75 194.00,734.01" fill="none" stroke="#b9b6b6" stroke-width="2.1"/>
<rect x="80.29" y="645.57" width="11.01" height="11.01" fill="none" stroke="#878282" stroke-width="2.0"/>
<ellipse cx="122.00" cy="728.19" rx="5.46" ry="5.75" fill="none" stroke="#878282" stroke-width="2.0"/>
<polygon points="157.90,729.96 162.77,735.46 157.90,740.97 153.03,735.46" fill="none" stroke="#878282" stroke-width="2.0"/>
<polygon points="194.00,750.62 199.01,761.05 188.99,761.05" fill="none" stroke="#878282" stroke-width="2.0"/>
<rect x="80.29" y="695.04" width="11.01" height="11.01" fill="none" stroke="#878282" stroke-width="2.0"/>
<ellipse cx="122.00" cy="725.28" rx="5.46" ry="5.75" fill="none" stroke="#878282" stroke-width="2.0"/>
<polygon points="157.90,751.78 162.77,757.29 157.90,762.80 153.03,757.29" fill="none" stroke="#878282" stroke-width="2.0"/>
<polygon points="194.00,757.90 199.01,768.32 188.99,768.32" fill="none" stroke="#878282" stroke-width="2.0"/>
<rect x="80.29" y="709.59" width="11.01" height="11.01" fill="none" stroke="#878282" stroke-width="2.0"/>
<ellipse cx="122.00" cy="732.55" rx="5.46" ry="5.75" fill="none" stroke="#878282" stroke-width="2.0"/>
<polygon points="157.90,708.13 162.77,713.64 157.90,719.15 153.03,713.64" fill="none" stroke="#878282" stroke-width="2.0"/>
<polygon points="194.00,747.71 199.01,758.14 188.99,758.14" fill="none" stroke="#878282" stroke-width="2.0"/>
<rect x="80.29" y="721.23" width="11.01" height="11.01" fill="none" stroke="#878282" stroke-width="2.0"/>
<ellipse cx="122.00" cy="697.63" rx="5.46" ry="5.75" fill="none" stroke="#878282" stroke-width="2.0"/>
<polygon points="157.90,731.41 162.77,736.92 157.90,742.43 153.03,736.92" fill="none" stroke="#878282" stroke-width="2.0"/>
<polygon points="194.00,725.89 199.01,736.31 188.99,736.31" fill="none" stroke="#878282" stroke-width="2.0"/>
<rect x="80.29" y="725.59" width="11.01" height="11.01" fill="none" stroke="#878282" stroke-width="2.0"/>
<ellipse cx="122.00" cy="712.77" rx="5.46" ry="5.75" fill="none" stroke="#878282" stroke-width="2.0"/>
<polygon points="157.90,747.42 162.77,752.92 157.90,758.43 153.03,752.92" fill="none" stroke="#878282" stroke-width="2.0"/>
<polygon points="194.00,710.61 199.01,721.03 188.99,721.03" fill="none" stroke="#878282" stroke-width="2.0"/>
<rect x="80.29" y="728.50" width="11.01" height="11.01" fill="none" stroke="#878282" stroke-width="2.0"/>
<ellipse cx="122.00" cy="750.01" rx="5.46" ry="5.75" fill="none" stroke="#878282" stroke-width="2.0"/>
<polygon points="157.90,699.99 162.77,705.49 157.90,711.00 153.03,705.49" fill="none" stroke="#878282" stroke-width="2.0"/>
<polygon points="194.00,727.34 199.01,737.77 188.99,737.77" fill="none" stroke="#878282" stroke-width="2.0"/>
<rect x="80.29" y="732.87" width="11.01" height="11.01" fill="none" stroke="#878282" stroke-width="2.0"/>
<ellipse cx="122.00" cy="723.82" rx="5.46" ry="5.75" fill="none" stroke="#878282" stroke-width="2.0"/>
<polygon points="157.90,769.24 162.77,774.75 157.90,780.26 153.03,774.75" fill="none" stroke="#878282" stroke-width="2.0"/>
<polygon points="194.00,762.26 199.01,772.69 188.99,772.69" fill="none" stroke="#878282" stroke-width="2.0"/>
<rect x="80.29" y="737.96" width="11.01" height="11.01" fill="none" stroke="#878282" stroke-width="2.0"/>
<ellipse cx="122.00" cy="755.83" rx="5.46" ry="5.75" fill="none" stroke="#878282" stroke-width="2.0"/>
<polygon points="157.90,709.59 162.77,715.09 157.90,720.60 153.03,715.09" fill="none" stroke="#878282" stroke-width="2.0"/>
<polygon points="194.00,722.98 199.01,733.40 188.99,733.40" fill="none" stroke="#878282" stroke-width="2.0"/>
<rect x="80.29" y="745.96" width="11.01" height="11.01" fill="none" stroke="#878282" stroke-width="2.0"/>
<ellipse cx="122.00" cy="731.10" rx="5.46" ry="5.75" fill="none" stroke="#878282" stroke-width="2.0"/>
<polygon points="157.90,754.69 162.77,760.20 157.90,765.71 153.03,760.20" fill="none" stroke="#878282" stroke-width="2.0"/>
<polygon points="194.00,765.17 199.01,775.60 188.99,775.60" fill="none" stroke="#878282" stroke-width="2.0"/>
<rect x="80.29" y="751.06" width="11.01" height="11.01" fill="none" stroke="#878282" stroke-width="2.0"/>
<ellipse cx="122.00" cy="766.02" rx="5.46" ry="5.75" fill="none" stroke="#878282" stroke-width="2.0"/>
<polygon points="157.90,727.05 162.77,732.55 157.90,738.06 153.03,732.55" fill="none" stroke="#878282" stroke-width="2.0"/>
<polygon points="194.00,746.26 199.01,756.68 188.99,756.68" fill="none" stroke="#878282" stroke-width="2.0"/>
<rect x="80.29" y="757.60" width="11.01" height="11.01" fill="none" stroke="#878282" stroke-width="2.0"/>
<ellipse cx="122.00" cy="726.73" rx="5.46" ry="5.75" fill="none" stroke="#878282" stroke-width="2.0"/>
<polygon points="157.90,750.33 162.77,755.83 157.90,761.34 153.03,755.83" fill="none" stroke="#878282" stroke-width="2.0"/>
<polygon points="194.00,757.90 199.01,768.32 188.99,768.32" fill="none" stroke="#878282" stroke-width="2.0"/>
<rect x="80.29" y="764.44" width="11.01" height="11.01" fill="none" stroke="#878282" stroke-width="2.0"/>
<ellipse cx="122.00" cy="773.29" rx="5.46" ry="5.75" fill="none" stroke="#878282" stroke-width="2.0"/>
<polygon points="157.90,745.96 162.77,751.47 157.90,756.98 153.03,751.47" fill="none" stroke="#878282" stroke-width="2.0"/>
<polygon points="194.00,754.99 199.01,765.41 188.99,765.41" fill="none" stroke="#878282" stroke-width="2.0"/>
<rect x="80.29" y="770.70" width="11.01" height="11.01" fill="none" stroke="#878282" stroke-width="2.0"/>
<ellipse cx="122.00" cy="766.02" rx="5.46" ry="5.75" fill="none" stroke="#878282" stroke-width="2.0"/>
<polygon points="157.90,756.15 162.77,761.65 157.90,767.16 153.03,761.65" fill="none" stroke="#878282" stroke-width="2.0"/>
<polygon points="194.00,762.26 199.01,772.69 188.99,772.69" fill="none" stroke="#878282" stroke-width="2.0"/>
<rect x="80.29" y="760.51" width="11.01" height="11.01" fill="none" stroke="#878282" stroke-width="2.0"/>
<ellipse cx="122.00" cy="745.65" rx="5.46" ry="5.75" fill="none" stroke="#878282" stroke-width="2.0"/>
<polygon points="157.90,734.32 162.77,739.83 157.90,745.34 153.03,739.83" fill="none" stroke="#878282" stroke-width="2.0"/>
<polygon points="194.00,724.43 199.01,734.86 188.99,734.86" fill="none" stroke="#878282" stroke-width="2.0"/>
<rect x="80.29" y="754.69" width="11.01" height="11.01" fill="none" stroke="#878282" stroke-width="2.0"/>
<ellipse cx="122.00" cy="738.38" rx="5.46" ry="5.75" fill="none" stroke="#878282" stroke-width="2.0"/>
<polygon points="157.90,743.05 162.77,748.56 157.90,754.07 153.03,748.56" fill="none" stroke="#878282" stroke-width="2.0"/>
<polygon points="194.00,756.44 199.01,766.87 188.99,766.87" fill="none" stroke="#878282" stroke-width="2.0"/>
<rect x="80.29" y="735.78" width="11.01" height="11.01" fill="none" stroke="#878282" stroke-width="2.0"/>
<ellipse cx="122.00" cy="773.29" rx="5.46" ry="5.75" fill="none" stroke="#878282" stroke-width="2.0"/>
<polygon points="157.90,753.24 162.77,758.75 157.90,764.25 153.03,758.75" fill="none" stroke="#878282" stroke-width="2.0"/>
<polygon points="194.00,728.80 199.01,739.22 188.99,739.22" fill="none" stroke="#878282" stroke-width="2.0"/>
<line x1="85.80" y1="728.77" x2="85.80" y2="743.32" stroke="#000" stroke-width="1.6"/>
<line x1="80.80" y1="728.77" x2="90.80" y2="728.77" stroke="#000" stroke-width="1.6"/>
<line x1="80.80" y1="743.32" x2="90.80" y2="743.32" stroke="#000" stroke-width="1.6"/>
<line x1="122.00" y1="735.76" x2="122.00" y2="744.49" stroke="#000" stroke-width="1.6"/>
<line x1="117.00" y1="735.76" x2="127.00" y2="735.76" stroke="#000" stroke-width="1.6"/>
<line x1="117.00" y1="744.49" x2="127.00" y2="744.49" stroke="#000" stroke-width="1.6"/>
<line x1="157.90" y1="738.81" x2="157.90" y2="747.54" stroke="#000" stroke-width="1.6"/>
<line x1="152.90" y1="738.81" x2="162.90" y2="738.81" stroke="#000" stroke-width="1.6"/>
<line x1="152.90" y1="747.54" x2="162.90" y2="747.54" stroke="#000" stroke-width="1.6"/>
<line x1="194.00" y1="741.87" x2="194.00" y2="750.60" stroke="#000" stroke-width="1.6"/>
<line x1="189.00" y1="741.87" x2="199.00" y2="741.87" stroke="#000" stroke-width="1.6"/>
<line x1="189.00" y1="750.60" x2="199.00" y2="750.60" stroke="#000" stroke-width="1.6"/>
<polyline points="85.80,736.05 122.00,740.12 157.90,743.18 194.00,746.23" fill="none" stroke="#000" stroke-width="2"/>
<rect x="80.20" y="730.45" width="11.20" height="11.20" fill="#0d0d0d" stroke="#000" stroke-width="1.8"/>
<ellipse cx="122.00" cy="740.12" rx="5.55" ry="5.85" fill="#575150" stroke="#000" stroke-width="1.8"/>
<polygon points="157.90,737.58 162.85,743.18 157.90,748.78 152.95,743.18" fill="#7f7b78" stroke="#000" stroke-width="1.8"/>
<polygon points="194.00,740.93 199.10,751.53 188.90,751.53" fill="#e2e0e0" stroke="#000" stroke-width="1.8"/>
<line x1="68.00" y1="643.20" x2="68.00" y2="790.30" stroke="#000" stroke-width="2"/>
<line x1="63.70" y1="789.30" x2="68.00" y2="789.30" stroke="#000" stroke-width="1.6"/>
<text transform="translate(55.10 793.50) scale(1 1.1)" font-size="13.9" text-anchor="end" font-weight="normal" fill="#000">0</text>
<line x1="63.70" y1="760.20" x2="68.00" y2="760.20" stroke="#000" stroke-width="1.6"/>
<text transform="translate(55.10 764.40) scale(1 1.1)" font-size="13.9" text-anchor="end" font-weight="normal" fill="#000">2</text>
<line x1="63.70" y1="731.10" x2="68.00" y2="731.10" stroke="#000" stroke-width="1.6"/>
<text transform="translate(55.10 735.30) scale(1 1.1)" font-size="13.9" text-anchor="end" font-weight="normal" fill="#000">4</text>
<line x1="63.70" y1="702.00" x2="68.00" y2="702.00" stroke="#000" stroke-width="1.6"/>
<text transform="translate(55.10 706.20) scale(1 1.1)" font-size="13.9" text-anchor="end" font-weight="normal" fill="#000">6</text>
<line x1="63.70" y1="672.90" x2="68.00" y2="672.90" stroke="#000" stroke-width="1.6"/>
<text transform="translate(55.10 677.10) scale(1 1.1)" font-size="13.9" text-anchor="end" font-weight="normal" fill="#000">8</text>
<line x1="63.70" y1="643.80" x2="68.00" y2="643.80" stroke="#000" stroke-width="1.6"/>
<text transform="translate(55.10 648.00) scale(1 1.1)" font-size="13.9" text-anchor="end" font-weight="normal" fill="#000">10</text>
<line x1="67.00" y1="789.30" x2="211.80" y2="789.30" stroke="#000" stroke-width="2"/>
<line x1="85.80" y1="789.30" x2="85.80" y2="792.90" stroke="#000" stroke-width="1.6"/>
<line x1="122.00" y1="789.30" x2="122.00" y2="792.90" stroke="#000" stroke-width="1.6"/>
<line x1="157.90" y1="789.30" x2="157.90" y2="792.90" stroke="#000" stroke-width="1.6"/>
<line x1="194.00" y1="789.30" x2="194.00" y2="792.90" stroke="#000" stroke-width="1.6"/>
<line x1="211.30" y1="789.30" x2="211.30" y2="792.90" stroke="#000" stroke-width="1.6"/>
<text transform="translate(87.40 813.20) scale(1 1.1)" font-size="13.9" text-anchor="middle" font-weight="normal" fill="#000">1</text>
<text transform="translate(124.60 813.20) scale(1 1.1)" font-size="13.9" text-anchor="middle" font-weight="normal" fill="#000">2</text>
<text transform="translate(159.00 813.20) scale(1 1.1)" font-size="13.9" text-anchor="middle" font-weight="normal" fill="#000">3</text>
<text transform="translate(196.20 813.20) scale(1 1.1)" font-size="13.9" text-anchor="middle" font-weight="normal" fill="#000">4</text>
<text transform="translate(141.50 832.10) scale(1 1.1)" font-size="13.9" text-anchor="middle" font-weight="normal" fill="#000">Tube test rank</text>
<text transform="translate(28.00 716.50) rotate(-90) scale(1 1.06)" font-size="14.0" text-anchor="middle" font-weight="normal" fill="#000">Testosterone (ng/mL)</text>
<line x1="315.10" y1="693.53" x2="315.10" y2="726.88" stroke="#000" stroke-width="1.8"/>
<line x1="310.10" y1="693.53" x2="320.10" y2="693.53" stroke="#000" stroke-width="1.8"/>
<line x1="310.10" y1="726.88" x2="320.10" y2="726.88" stroke="#000" stroke-width="1.8"/>
<line x1="351.40" y1="700.78" x2="351.40" y2="727.37" stroke="#000" stroke-width="1.8"/>
<line x1="346.40" y1="700.78" x2="356.40" y2="700.78" stroke="#000" stroke-width="1.8"/>
<line x1="346.40" y1="727.37" x2="356.40" y2="727.37" stroke="#000" stroke-width="1.8"/>
<line x1="387.30" y1="701.99" x2="387.30" y2="733.41" stroke="#000" stroke-width="1.8"/>
<line x1="382.30" y1="701.99" x2="392.30" y2="701.99" stroke="#000" stroke-width="1.8"/>
<line x1="382.30" y1="733.41" x2="392.30" y2="733.41" stroke="#000" stroke-width="1.8"/>
<line x1="423.40" y1="720.12" x2="423.40" y2="738.24" stroke="#000" stroke-width="1.8"/>
<line x1="418.40" y1="720.12" x2="428.40" y2="720.12" stroke="#000" stroke-width="1.8"/>
<line x1="418.40" y1="738.24" x2="428.40" y2="738.24" stroke="#000" stroke-width="1.8"/>
<rect x="302.60" y="709.48" width="25.00" height="8.22" fill="#0d0d0d" stroke="#000" stroke-width="1.8"/>
<rect x="338.90" y="714.08" width="25.00" height="3.62" fill="#575150" stroke="#000" stroke-width="1.8"/>
<rect x="374.80" y="717.10" width="25.00" height="0.60" fill="#7f7b78" stroke="#000" stroke-width="1.8"/>
<rect x="410.90" y="717.70" width="25.00" height="12.08" fill="#e2e0e0" stroke="#000" stroke-width="1.8"/>
<line x1="315.10" y1="693.53" x2="315.10" y2="726.88" stroke="#000" stroke-width="1.8"/>
<line x1="310.10" y1="693.53" x2="320.10" y2="693.53" stroke="#000" stroke-width="1.8"/>
<line x1="310.10" y1="726.88" x2="320.10" y2="726.88" stroke="#000" stroke-width="1.8"/>
<line x1="351.40" y1="700.78" x2="351.40" y2="727.37" stroke="#000" stroke-width="1.8"/>
<line x1="346.40" y1="700.78" x2="356.40" y2="700.78" stroke="#000" stroke-width="1.8"/>
<line x1="346.40" y1="727.37" x2="356.40" y2="727.37" stroke="#000" stroke-width="1.8"/>
<line x1="387.30" y1="701.99" x2="387.30" y2="733.41" stroke="#000" stroke-width="1.8"/>
<line x1="382.30" y1="701.99" x2="392.30" y2="701.99" stroke="#000" stroke-width="1.8"/>
<line x1="382.30" y1="733.41" x2="392.30" y2="733.41" stroke="#000" stroke-width="1.8"/>
<line x1="423.40" y1="720.12" x2="423.40" y2="738.24" stroke="#000" stroke-width="1.8"/>
<line x1="418.40" y1="720.12" x2="428.40" y2="720.12" stroke="#000" stroke-width="1.8"/>
<line x1="418.40" y1="738.24" x2="428.40" y2="738.24" stroke="#000" stroke-width="1.8"/>
<line x1="296.60" y1="644.60" x2="296.60" y2="790.80" stroke="#000" stroke-width="2"/>
<line x1="292.30" y1="790.20" x2="296.60" y2="790.20" stroke="#000" stroke-width="1.6"/>
<text transform="translate(285.20 794.40) scale(1 1.1)" font-size="13.9" text-anchor="end" font-weight="normal" fill="#000">0.4</text>
<line x1="292.30" y1="766.03" x2="296.60" y2="766.03" stroke="#000" stroke-width="1.6"/>
<text transform="translate(285.20 770.23) scale(1 1.1)" font-size="13.9" text-anchor="end" font-weight="normal" fill="#000">0.6</text>
<line x1="292.30" y1="741.87" x2="296.60" y2="741.87" stroke="#000" stroke-width="1.6"/>
<text transform="translate(285.20 746.07) scale(1 1.1)" font-size="13.9" text-anchor="end" font-weight="normal" fill="#000">0.8</text>
<line x1="292.30" y1="717.70" x2="296.60" y2="717.70" stroke="#000" stroke-width="1.6"/>
<text transform="translate(285.20 721.90) scale(1 1.1)" font-size="13.9" text-anchor="end" font-weight="normal" fill="#000">1.0</text>
<line x1="292.30" y1="693.53" x2="296.60" y2="693.53" stroke="#000" stroke-width="1.6"/>
<text transform="translate(285.20 697.73) scale(1 1.1)" font-size="13.9" text-anchor="end" font-weight="normal" fill="#000">1.2</text>
<line x1="292.30" y1="669.37" x2="296.60" y2="669.37" stroke="#000" stroke-width="1.6"/>
<text transform="translate(285.20 673.57) scale(1 1.1)" font-size="13.9" text-anchor="end" font-weight="normal" fill="#000">1.4</text>
<line x1="292.30" y1="645.20" x2="296.60" y2="645.20" stroke="#000" stroke-width="1.6"/>
<text transform="translate(285.20 649.40) scale(1 1.1)" font-size="13.9" text-anchor="end" font-weight="normal" fill="#000">1.6</text>
<line x1="296.60" y1="717.70" x2="441.50" y2="717.70" stroke="#000" stroke-width="2"/>
<line x1="441.00" y1="717.70" x2="441.00" y2="721.20" stroke="#000" stroke-width="1.6"/>
<text transform="translate(318.60 813.60) scale(1 1.1)" font-size="13.9" text-anchor="middle" font-weight="normal" fill="#000">1</text>
<text transform="translate(355.80 813.60) scale(1 1.1)" font-size="13.9" text-anchor="middle" font-weight="normal" fill="#000">2</text>
<text transform="translate(389.30 813.60) scale(1 1.1)" font-size="13.9" text-anchor="middle" font-weight="normal" fill="#000">3</text>
<text transform="translate(423.30 813.60) scale(1 1.1)" font-size="13.9" text-anchor="middle" font-weight="normal" fill="#000">4</text>
<text transform="translate(373.00 831.70) scale(1 1.1)" font-size="13.9" text-anchor="middle" font-weight="normal" fill="#000">Tube test rank</text>
<text transform="translate(254.80 721.00) rotate(-90) scale(1 1.06)" font-size="14.0" text-anchor="middle" font-weight="normal" fill="#000">Relative testosterone</text>
<line x1="537.80" y1="732.80" x2="537.80" y2="758.09" stroke="#000" stroke-width="1.8"/>
<line x1="532.80" y1="732.80" x2="542.80" y2="732.80" stroke="#000" stroke-width="1.8"/>
<line x1="532.80" y1="758.09" x2="542.80" y2="758.09" stroke="#000" stroke-width="1.8"/>
<line x1="552.40" y1="659.35" x2="552.40" y2="705.11" stroke="#000" stroke-width="1.8"/>
<line x1="547.40" y1="659.35" x2="557.40" y2="659.35" stroke="#000" stroke-width="1.8"/>
<line x1="547.40" y1="705.11" x2="557.40" y2="705.11" stroke="#000" stroke-width="1.8"/>
<line x1="574.20" y1="701.50" x2="574.20" y2="741.23" stroke="#000" stroke-width="1.8"/>
<line x1="569.20" y1="701.50" x2="579.20" y2="701.50" stroke="#000" stroke-width="1.8"/>
<line x1="569.20" y1="741.23" x2="579.20" y2="741.23" stroke="#000" stroke-width="1.8"/>
<line x1="588.80" y1="690.66" x2="588.80" y2="726.78" stroke="#000" stroke-width="1.8"/>
<line x1="583.80" y1="690.66" x2="593.80" y2="690.66" stroke="#000" stroke-width="1.8"/>
<line x1="583.80" y1="726.78" x2="593.80" y2="726.78" stroke="#000" stroke-width="1.8"/>
<line x1="610.80" y1="661.76" x2="610.80" y2="725.58" stroke="#000" stroke-width="1.8"/>
<line x1="605.80" y1="661.76" x2="615.80" y2="661.76" stroke="#000" stroke-width="1.8"/>
<line x1="605.80" y1="725.58" x2="615.80" y2="725.58" stroke="#000" stroke-width="1.8"/>
<line x1="625.40" y1="725.58" x2="625.40" y2="743.64" stroke="#000" stroke-width="1.8"/>
<line x1="620.40" y1="725.58" x2="630.40" y2="725.58" stroke="#000" stroke-width="1.8"/>
<line x1="620.40" y1="743.64" x2="630.40" y2="743.64" stroke="#000" stroke-width="1.8"/>
<line x1="647.30" y1="691.86" x2="647.30" y2="725.58" stroke="#000" stroke-width="1.8"/>
<line x1="642.30" y1="691.86" x2="652.30" y2="691.86" stroke="#000" stroke-width="1.8"/>
<line x1="642.30" y1="725.58" x2="652.30" y2="725.58" stroke="#000" stroke-width="1.8"/>
<line x1="661.90" y1="734.01" x2="661.90" y2="750.87" stroke="#000" stroke-width="1.8"/>
<line x1="656.90" y1="734.01" x2="666.90" y2="734.01" stroke="#000" stroke-width="1.8"/>
<line x1="656.90" y1="750.87" x2="666.90" y2="750.87" stroke="#000" stroke-width="1.8"/>
<rect x="530.50" y="717.15" width="14.60" height="28.90" fill="#E69729" stroke="#000" stroke-width="1.8"/>
<rect x="545.10" y="682.23" width="14.60" height="34.92" fill="#F0F59D" stroke="#000" stroke-width="1.8"/>
<rect x="566.90" y="717.15" width="14.60" height="3.61" fill="#E69729" stroke="#000" stroke-width="1.8"/>
<rect x="581.50" y="708.72" width="14.60" height="8.43" fill="#F0F59D" stroke="#000" stroke-width="1.8"/>
<rect x="603.50" y="693.07" width="14.60" height="24.08" fill="#E69729" stroke="#000" stroke-width="1.8"/>
<rect x="618.10" y="717.15" width="14.60" height="18.06" fill="#F0F59D" stroke="#000" stroke-width="1.8"/>
<rect x="640.00" y="708.72" width="14.60" height="8.43" fill="#E69729" stroke="#000" stroke-width="1.8"/>
<rect x="654.60" y="717.15" width="14.60" height="26.49" fill="#F0F59D" stroke="#000" stroke-width="1.8"/>
<line x1="537.80" y1="732.80" x2="537.80" y2="758.09" stroke="#000" stroke-width="1.8"/>
<line x1="532.80" y1="732.80" x2="542.80" y2="732.80" stroke="#000" stroke-width="1.8"/>
<line x1="532.80" y1="758.09" x2="542.80" y2="758.09" stroke="#000" stroke-width="1.8"/>
<line x1="552.40" y1="659.35" x2="552.40" y2="705.11" stroke="#000" stroke-width="1.8"/>
<line x1="547.40" y1="659.35" x2="557.40" y2="659.35" stroke="#000" stroke-width="1.8"/>
<line x1="547.40" y1="705.11" x2="557.40" y2="705.11" stroke="#000" stroke-width="1.8"/>
<line x1="574.20" y1="701.50" x2="574.20" y2="741.23" stroke="#000" stroke-width="1.8"/>
<line x1="569.20" y1="701.50" x2="579.20" y2="701.50" stroke="#000" stroke-width="1.8"/>
<line x1="569.20" y1="741.23" x2="579.20" y2="741.23" stroke="#000" stroke-width="1.8"/>
<line x1="588.80" y1="690.66" x2="588.80" y2="726.78" stroke="#000" stroke-width="1.8"/>
<line x1="583.80" y1="690.66" x2="593.80" y2="690.66" stroke="#000" stroke-width="1.8"/>
<line x1="583.80" y1="726.78" x2="593.80" y2="726.78" stroke="#000" stroke-width="1.8"/>
<line x1="610.80" y1="661.76" x2="610.80" y2="725.58" stroke="#000" stroke-width="1.8"/>
<line x1="605.80" y1="661.76" x2="615.80" y2="661.76" stroke="#000" stroke-width="1.8"/>
<line x1="605.80" y1="725.58" x2="615.80" y2="725.58" stroke="#000" stroke-width="1.8"/>
<line x1="625.40" y1="725.58" x2="625.40" y2="743.64" stroke="#000" stroke-width="1.8"/>
<line x1="620.40" y1="725.58" x2="630.40" y2="725.58" stroke="#000" stroke-width="1.8"/>
<line x1="620.40" y1="743.64" x2="630.40" y2="743.64" stroke="#000" stroke-width="1.8"/>
<line x1="647.30" y1="691.86" x2="647.30" y2="725.58" stroke="#000" stroke-width="1.8"/>
<line x1="642.30" y1="691.86" x2="652.30" y2="691.86" stroke="#000" stroke-width="1.8"/>
<line x1="642.30" y1="725.58" x2="652.30" y2="725.58" stroke="#000" stroke-width="1.8"/>
<line x1="661.90" y1="734.01" x2="661.90" y2="750.87" stroke="#000" stroke-width="1.8"/>
<line x1="656.90" y1="734.01" x2="666.90" y2="734.01" stroke="#000" stroke-width="1.8"/>
<line x1="656.90" y1="750.87" x2="666.90" y2="750.87" stroke="#000" stroke-width="1.8"/>
<line x1="526.80" y1="644.30" x2="526.80" y2="790.00" stroke="#000" stroke-width="2"/>
<line x1="522.50" y1="789.40" x2="526.80" y2="789.40" stroke="#000" stroke-width="1.6"/>
<text transform="translate(515.50 793.60) scale(1 1.1)" font-size="13.9" text-anchor="end" font-weight="normal" fill="#000">0.4</text>
<line x1="522.50" y1="765.32" x2="526.80" y2="765.32" stroke="#000" stroke-width="1.6"/>
<text transform="translate(515.50 769.52) scale(1 1.1)" font-size="13.9" text-anchor="end" font-weight="normal" fill="#000">0.6</text>
<line x1="522.50" y1="741.23" x2="526.80" y2="741.23" stroke="#000" stroke-width="1.6"/>
<text transform="translate(515.50 745.43) scale(1 1.1)" font-size="13.9" text-anchor="end" font-weight="normal" fill="#000">0.8</text>
<line x1="522.50" y1="717.15" x2="526.80" y2="717.15" stroke="#000" stroke-width="1.6"/>
<text transform="translate(515.50 721.35) scale(1 1.1)" font-size="13.9" text-anchor="end" font-weight="normal" fill="#000">1.0</text>
<line x1="522.50" y1="693.07" x2="526.80" y2="693.07" stroke="#000" stroke-width="1.6"/>
<text transform="translate(515.50 697.27) scale(1 1.1)" font-size="13.9" text-anchor="end" font-weight="normal" fill="#000">1.2</text>
<line x1="522.50" y1="668.98" x2="526.80" y2="668.98" stroke="#000" stroke-width="1.6"/>
<text transform="translate(515.50 673.18) scale(1 1.1)" font-size="13.9" text-anchor="end" font-weight="normal" fill="#000">1.4</text>
<line x1="522.50" y1="644.90" x2="526.80" y2="644.90" stroke="#000" stroke-width="1.6"/>
<text transform="translate(515.50 649.10) scale(1 1.1)" font-size="13.9" text-anchor="end" font-weight="normal" fill="#000">1.6</text>
<line x1="526.80" y1="717.15" x2="673.30" y2="717.15" stroke="#000" stroke-width="2"/>
<line x1="672.80" y1="717.15" x2="672.80" y2="720.65" stroke="#000" stroke-width="1.6"/>
<text transform="translate(545.10 810.30) scale(1 1.1)" font-size="13.9" text-anchor="middle" font-weight="normal" fill="#000">1</text>
<text transform="translate(581.50 810.30) scale(1 1.1)" font-size="13.9" text-anchor="middle" font-weight="normal" fill="#000">2</text>
<text transform="translate(618.10 810.30) scale(1 1.1)" font-size="13.9" text-anchor="middle" font-weight="normal" fill="#000">3</text>
<text transform="translate(654.60 810.30) scale(1 1.1)" font-size="13.9" text-anchor="middle" font-weight="normal" fill="#000">4</text>
<rect x="575.20" y="625.40" width="25.20" height="9.00" fill="#E69729" stroke="#000" stroke-width="2"/>
<rect x="575.20" y="642.20" width="25.20" height="9.00" fill="#F0F59D" stroke="#000" stroke-width="2"/>
<text transform="translate(602.70 632.80)" font-size="12" text-anchor="start" font-weight="normal" fill="#000" textLength="66.3" lengthAdjust="spacingAndGlyphs">100% stable</text>
<text transform="translate(602.70 649.60)" font-size="12" text-anchor="start" font-weight="normal" fill="#000" textLength="73.9" lengthAdjust="spacingAndGlyphs">&lt;100% stable</text>
<text transform="translate(603.50 831.70) scale(1 1.1)" font-size="13.9" text-anchor="middle" font-weight="normal" fill="#000">Tube test rank</text>
<text transform="translate(485.40 719.80) rotate(-90) scale(1 1.06)" font-size="14.0" text-anchor="middle" font-weight="normal" fill="#000">Relative testosterone</text>
<polyline points="83.00,967.11 118.00,997.88 153.70,1006.09 189.20,1001.98" fill="none" stroke="#b9b6b6" stroke-width="2.1"/>
<polyline points="83.00,975.31 118.00,985.57 153.70,997.88 189.20,1004.03" fill="none" stroke="#b9b6b6" stroke-width="2.1"/>
<polyline points="83.00,981.47 118.00,991.73 153.70,977.36 189.20,981.47" fill="none" stroke="#b9b6b6" stroke-width="2.1"/>
<polyline points="83.00,985.57 118.00,1001.98 153.70,1010.19 189.20,1006.09" fill="none" stroke="#b9b6b6" stroke-width="2.1"/>
<polyline points="83.00,989.67 118.00,981.47 153.70,993.78 189.20,997.88" fill="none" stroke="#b9b6b6" stroke-width="2.1"/>
<polyline points="83.00,993.78 118.00,1006.09 153.70,956.85 189.20,936.33" fill="none" stroke="#b9b6b6" stroke-width="2.1"/>
<polyline points="83.00,997.88 118.00,1010.19 153.70,901.45 189.20,954.79" fill="none" stroke="#b9b6b6" stroke-width="2.1"/>
<polyline points="83.00,1010.19 118.00,917.87 153.70,954.79 189.20,981.47" fill="none" stroke="#b9b6b6" stroke-width="2.1"/>
<polyline points="83.00,1004.03 118.00,993.78 153.70,1001.98 189.20,971.21" fill="none" stroke="#b9b6b6" stroke-width="2.1"/>
<polyline points="83.00,1006.09 118.00,975.31 153.70,1010.19 189.20,1008.14" fill="none" stroke="#b9b6b6" stroke-width="2.1"/>
<polyline points="83.00,1008.14 118.00,997.88 153.70,981.47 189.20,989.67" fill="none" stroke="#b9b6b6" stroke-width="2.1"/>
<polyline points="83.00,1010.19 118.00,1004.03 153.70,997.88 189.20,993.78" fill="none" stroke="#b9b6b6" stroke-width="2.1"/>
<polyline points="83.00,1012.24 118.00,989.67 153.70,1004.03 189.20,977.36" fill="none" stroke="#b9b6b6" stroke-width="2.1"/>
<polyline points="83.00,1014.29 118.00,1008.14 153.70,1014.29 189.20,1010.19" fill="none" stroke="#b9b6b6" stroke-width="2.1"/>
<polyline points="83.00,999.93 118.00,1012.24 153.70,987.62 189.20,997.88" fill="none" stroke="#b9b6b6" stroke-width="2.1"/>
<polyline points="83.00,995.83 118.00,983.52 153.70,999.93 189.20,1001.98" fill="none" stroke="#b9b6b6" stroke-width="2.1"/>
<polyline points="83.00,991.73 118.00,995.83 153.70,1006.09 189.20,985.57" fill="none" stroke="#b9b6b6" stroke-width="2.1"/>
<polyline points="83.00,987.62 118.00,1001.98 153.70,991.73 189.20,1004.03" fill="none" stroke="#b9b6b6" stroke-width="2.1"/>
<polyline points="83.00,1004.03 118.00,987.62 153.70,983.52 189.20,1006.09" fill="none" stroke="#b9b6b6" stroke-width="2.1"/>
<polyline points="83.00,1016.35 118.00,999.93 153.70,1008.14 189.20,1012.24" fill="none" stroke="#b9b6b6" stroke-width="2.1"/>
<polyline points="83.00,981.47 118.00,993.78 153.70,1016.35 189.20,999.93" fill="none" stroke="#b9b6b6" stroke-width="2.1"/>
<polyline points="83.00,997.88 118.00,979.41 153.70,995.83 189.20,991.73" fill="none" stroke="#b9b6b6" stroke-width="2.1"/>
<polyline points="83.00,1006.09 118.00,1014.29 153.70,1004.03 189.20,1008.14" fill="none" stroke="#b9b6b6" stroke-width="2.1"/>
<rect x="77.49" y="961.60" width="11.01" height="11.01" fill="none" stroke="#878282" stroke-width="2.0"/>
<ellipse cx="118.00" cy="997.88" rx="5.46" ry="5.75" fill="none" stroke="#878282" stroke-width="2.0"/>
<polygon points="153.70,1000.58 158.57,1006.09 153.70,1011.59 148.83,1006.09" fill="none" stroke="#878282" stroke-width="2.0"/>
<polygon points="189.20,996.77 194.21,1007.20 184.19,1007.20" fill="none" stroke="#878282" stroke-width="2.0"/>
<rect x="77.49" y="969.80" width="11.01" height="11.01" fill="none" stroke="#878282" stroke-width="2.0"/>
<ellipse cx="118.00" cy="985.57" rx="5.46" ry="5.75" fill="none" stroke="#878282" stroke-width="2.0"/>
<polygon points="153.70,992.37 158.57,997.88 153.70,1003.39 148.83,997.88" fill="none" stroke="#878282" stroke-width="2.0"/>
<polygon points="189.20,998.82 194.21,1009.25 184.19,1009.25" fill="none" stroke="#878282" stroke-width="2.0"/>
<rect x="77.49" y="975.96" width="11.01" height="11.01" fill="none" stroke="#878282" stroke-width="2.0"/>
<ellipse cx="118.00" cy="991.73" rx="5.46" ry="5.75" fill="none" stroke="#878282" stroke-width="2.0"/>
<polygon points="153.70,971.86 158.57,977.36 153.70,982.87 148.83,977.36" fill="none" stroke="#878282" stroke-width="2.0"/>
<polygon points="189.20,976.25 194.21,986.68 184.19,986.68" fill="none" stroke="#878282" stroke-width="2.0"/>
<rect x="77.49" y="980.06" width="11.01" height="11.01" fill="none" stroke="#878282" stroke-width="2.0"/>
<ellipse cx="118.00" cy="1001.98" rx="5.46" ry="5.75" fill="none" stroke="#878282" stroke-width="2.0"/>
<polygon points="153.70,1004.68 158.57,1010.19 153.70,1015.70 148.83,1010.19" fill="none" stroke="#878282" stroke-width="2.0"/>
<polygon points="189.20,1000.88 194.21,1011.30 184.19,1011.30" fill="none" stroke="#878282" stroke-width="2.0"/>
<rect x="77.49" y="984.17" width="11.01" height="11.01" fill="none" stroke="#878282" stroke-width="2.0"/>
<ellipse cx="118.00" cy="981.47" rx="5.46" ry="5.75" fill="none" stroke="#878282" stroke-width="2.0"/>
<polygon points="153.70,988.27 158.57,993.78 153.70,999.28 148.83,993.78" fill="none" stroke="#878282" stroke-width="2.0"/>
<polygon points="189.20,992.67 194.21,1003.09 184.19,1003.09" fill="none" stroke="#878282" stroke-width="2.0"/>
<rect x="77.49" y="988.27" width="11.01" height="11.01" fill="none" stroke="#878282" stroke-width="2.0"/>
<ellipse cx="118.00" cy="1006.09" rx="5.46" ry="5.75" fill="none" stroke="#878282" stroke-width="2.0"/>
<polygon points="153.70,951.34 158.57,956.85 153.70,962.35 148.83,956.85" fill="none" stroke="#878282" stroke-width="2.0"/>
<polygon points="189.20,931.12 194.21,941.54 184.19,941.54" fill="none" stroke="#878282" stroke-width="2.0"/>
<rect x="77.49" y="992.37" width="11.01" height="11.01" fill="none" stroke="#878282" stroke-width="2.0"/>
<ellipse cx="118.00" cy="1010.19" rx="5.46" ry="5.75" fill="none" stroke="#878282" stroke-width="2.0"/>
<polygon points="153.70,895.94 158.57,901.45 153.70,906.96 148.83,901.45" fill="none" stroke="#878282" stroke-width="2.0"/>
<polygon points="189.20,949.58 194.21,960.01 184.19,960.01" fill="none" stroke="#878282" stroke-width="2.0"/>
<rect x="77.49" y="1004.68" width="11.01" height="11.01" fill="none" stroke="#878282" stroke-width="2.0"/>
<ellipse cx="118.00" cy="917.87" rx="5.46" ry="5.75" fill="none" stroke="#878282" stroke-width="2.0"/>
<polygon points="153.70,949.29 158.57,954.79 153.70,960.30 148.83,954.79" fill="none" stroke="#878282" stroke-width="2.0"/>
<polygon points="189.20,976.25 194.21,986.68 184.19,986.68" fill="none" stroke="#878282" stroke-width="2.0"/>
<rect x="77.49" y="998.53" width="11.01" height="11.01" fill="none" stroke="#878282" stroke-width="2.0"/>
<ellipse cx="118.00" cy="993.78" rx="5.46" ry="5.75" fill="none" stroke="#878282" stroke-width="2.0"/>
<polygon points="153.70,996.48 158.57,1001.98 153.70,1007.49 148.83,1001.98" fill="none" stroke="#878282" stroke-width="2.0"/>
<polygon points="189.20,966.00 194.21,976.42 184.19,976.42" fill="none" stroke="#878282" stroke-width="2.0"/>
<rect x="77.49" y="1000.58" width="11.01" height="11.01" fill="none" stroke="#878282" stroke-width="2.0"/>
<ellipse cx="118.00" cy="975.31" rx="5.46" ry="5.75" fill="none" stroke="#878282" stroke-width="2.0"/>
<polygon points="153.70,1004.68 158.57,1010.19 153.70,1015.70 148.83,1010.19" fill="none" stroke="#878282" stroke-width="2.0"/>
<polygon points="189.20,1002.93 194.21,1013.35 184.19,1013.35" fill="none" stroke="#878282" stroke-width="2.0"/>
<rect x="77.49" y="1002.63" width="11.01" height="11.01" fill="none" stroke="#878282" stroke-width="2.0"/>
<ellipse cx="118.00" cy="997.88" rx="5.46" ry="5.75" fill="none" stroke="#878282" stroke-width="2.0"/>
<polygon points="153.70,975.96 158.57,981.47 153.70,986.97 148.83,981.47" fill="none" stroke="#878282" stroke-width="2.0"/>
<polygon points="189.20,984.46 194.21,994.88 184.19,994.88" fill="none" stroke="#878282" stroke-width="2.0"/>
<rect x="77.49" y="1004.68" width="11.01" height="11.01" fill="none" stroke="#878282" stroke-width="2.0"/>
<ellipse cx="118.00" cy="1004.03" rx="5.46" ry="5.75" fill="none" stroke="#878282" stroke-width="2.0"/>
<polygon points="153.70,992.37 158.57,997.88 153.70,1003.39 148.83,997.88" fill="none" stroke="#878282" stroke-width="2.0"/>
<polygon points="189.20,988.56 194.21,998.99 184.19,998.99" fill="none" stroke="#878282" stroke-width="2.0"/>
<rect x="77.49" y="1006.74" width="11.01" height="11.01" fill="none" stroke="#878282" stroke-width="2.0"/>
<ellipse cx="118.00" cy="989.67" rx="5.46" ry="5.75" fill="none" stroke="#878282" stroke-width="2.0"/>
<polygon points="153.70,998.53 158.57,1004.03 153.70,1009.54 148.83,1004.03" fill="none" stroke="#878282" stroke-width="2.0"/>
<polygon points="189.20,972.15 194.21,982.58 184.19,982.58" fill="none" stroke="#878282" stroke-width="2.0"/>
<rect x="77.49" y="1008.79" width="11.01" height="11.01" fill="none" stroke="#878282" stroke-width="2.0"/>
<ellipse cx="118.00" cy="1008.14" rx="5.46" ry="5.75" fill="none" stroke="#878282" stroke-width="2.0"/>
<polygon points="153.70,1008.79 158.57,1014.29 153.70,1019.80 148.83,1014.29" fill="none" stroke="#878282" stroke-width="2.0"/>
<polygon points="189.20,1004.98 194.21,1015.40 184.19,1015.40" fill="none" stroke="#878282" stroke-width="2.0"/>
<rect x="77.49" y="994.42" width="11.01" height="11.01" fill="none" stroke="#878282" stroke-width="2.0"/>
<ellipse cx="118.00" cy="1012.24" rx="5.46" ry="5.75" fill="none" stroke="#878282" stroke-width="2.0"/>
<polygon points="153.70,982.12 158.57,987.62 153.70,993.13 148.83,987.62" fill="none" stroke="#878282" stroke-width="2.0"/>
<polygon points="189.20,992.67 194.21,1003.09 184.19,1003.09" fill="none" stroke="#878282" stroke-width="2.0"/>
<rect x="77.49" y="990.32" width="11.01" height="11.01" fill="none" stroke="#878282" stroke-width="2.0"/>
<ellipse cx="118.00" cy="983.52" rx="5.46" ry="5.75" fill="none" stroke="#878282" stroke-width="2.0"/>
<polygon points="153.70,994.42 158.57,999.93 153.70,1005.44 148.83,999.93" fill="none" stroke="#878282" stroke-width="2.0"/>
<polygon points="189.20,996.77 194.21,1007.20 184.19,1007.20" fill="none" stroke="#878282" stroke-width="2.0"/>
<rect x="77.49" y="986.22" width="11.01" height="11.01" fill="none" stroke="#878282" stroke-width="2.0"/>
<ellipse cx="118.00" cy="995.83" rx="5.46" ry="5.75" fill="none" stroke="#878282" stroke-width="2.0"/>
<polygon points="153.70,1000.58 158.57,1006.09 153.70,1011.59 148.83,1006.09" fill="none" stroke="#878282" stroke-width="2.0"/>
<polygon points="189.20,980.36 194.21,990.78 184.19,990.78" fill="none" stroke="#878282" stroke-width="2.0"/>
<rect x="77.49" y="982.12" width="11.01" height="11.01" fill="none" stroke="#878282" stroke-width="2.0"/>
<ellipse cx="118.00" cy="1001.98" rx="5.46" ry="5.75" fill="none" stroke="#878282" stroke-width="2.0"/>
<polygon points="153.70,986.22 158.57,991.73 153.70,997.23 148.83,991.73" fill="none" stroke="#878282" stroke-width="2.0"/>
<polygon points="189.20,998.82 194.21,1009.25 184.19,1009.25" fill="none" stroke="#878282" stroke-width="2.0"/>
<rect x="77.49" y="998.53" width="11.01" height="11.01" fill="none" stroke="#878282" stroke-width="2.0"/>
<ellipse cx="118.00" cy="987.62" rx="5.46" ry="5.75" fill="none" stroke="#878282" stroke-width="2.0"/>
<polygon points="153.70,978.01 158.57,983.52 153.70,989.02 148.83,983.52" fill="none" stroke="#878282" stroke-width="2.0"/>
<polygon points="189.20,1000.88 194.21,1011.30 184.19,1011.30" fill="none" stroke="#878282" stroke-width="2.0"/>
<rect x="77.49" y="1010.84" width="11.01" height="11.01" fill="none" stroke="#878282" stroke-width="2.0"/>
<ellipse cx="118.00" cy="999.93" rx="5.46" ry="5.75" fill="none" stroke="#878282" stroke-width="2.0"/>
<polygon points="153.70,1002.63 158.57,1008.14 153.70,1013.64 148.83,1008.14" fill="none" stroke="#878282" stroke-width="2.0"/>
<polygon points="189.20,1007.03 194.21,1017.45 184.19,1017.45" fill="none" stroke="#878282" stroke-width="2.0"/>
<rect x="77.49" y="975.96" width="11.01" height="11.01" fill="none" stroke="#878282" stroke-width="2.0"/>
<ellipse cx="118.00" cy="993.78" rx="5.46" ry="5.75" fill="none" stroke="#878282" stroke-width="2.0"/>
<polygon points="153.70,1010.84 158.57,1016.35 153.70,1021.85 148.83,1016.35" fill="none" stroke="#878282" stroke-width="2.0"/>
<polygon points="189.20,994.72 194.21,1005.14 184.19,1005.14" fill="none" stroke="#878282" stroke-width="2.0"/>
<rect x="77.49" y="992.37" width="11.01" height="11.01" fill="none" stroke="#878282" stroke-width="2.0"/>
<ellipse cx="118.00" cy="979.41" rx="5.46" ry="5.75" fill="none" stroke="#878282" stroke-width="2.0"/>
<polygon points="153.70,990.32 158.57,995.83 153.70,1001.34 148.83,995.83" fill="none" stroke="#878282" stroke-width="2.0"/>
<polygon points="189.20,986.51 194.21,996.94 184.19,996.94" fill="none" stroke="#878282" stroke-width="2.0"/>
<rect x="77.49" y="1000.58" width="11.01" height="11.01" fill="none" stroke="#878282" stroke-width="2.0"/>
<ellipse cx="118.00" cy="1014.29" rx="5.46" ry="5.75" fill="none" stroke="#878282" stroke-width="2.0"/>
<polygon points="153.70,998.53 158.57,1004.03 153.70,1009.54 148.83,1004.03" fill="none" stroke="#878282" stroke-width="2.0"/>
<polygon points="189.20,1002.93 194.21,1013.35 184.19,1013.35" fill="none" stroke="#878282" stroke-width="2.0"/>
<polyline points="83.00,999.93 118.00,995.83 153.70,993.78 189.20,990.49" fill="none" stroke="#000" stroke-width="2"/>
<rect x="77.40" y="994.33" width="11.20" height="11.20" fill="#0d0d0d" stroke="#000" stroke-width="1.8"/>
<ellipse cx="118.00" cy="995.83" rx="5.55" ry="5.85" fill="#575150" stroke="#000" stroke-width="1.8"/>
<polygon points="153.70,988.18 158.65,993.78 153.70,999.38 148.75,993.78" fill="#7f7b78" stroke="#000" stroke-width="1.8"/>
<polygon points="189.20,985.19 194.30,995.79 184.10,995.79" fill="#e2e0e0" stroke="#000" stroke-width="1.8"/>
<line x1="65.00" y1="898.80" x2="65.00" y2="1023.50" stroke="#000" stroke-width="2"/>
<line x1="60.70" y1="1022.50" x2="65.00" y2="1022.50" stroke="#000" stroke-width="1.6"/>
<text transform="translate(53.60 1026.70) scale(1 1.1)" font-size="13.9" text-anchor="end" font-weight="normal" fill="#000">0</text>
<line x1="60.70" y1="1001.98" x2="65.00" y2="1001.98" stroke="#000" stroke-width="1.6"/>
<text transform="translate(53.60 1006.18) scale(1 1.1)" font-size="13.9" text-anchor="end" font-weight="normal" fill="#000">50</text>
<line x1="60.70" y1="981.47" x2="65.00" y2="981.47" stroke="#000" stroke-width="1.6"/>
<text transform="translate(53.60 985.67) scale(1 1.1)" font-size="13.9" text-anchor="end" font-weight="normal" fill="#000">100</text>
<line x1="60.70" y1="960.95" x2="65.00" y2="960.95" stroke="#000" stroke-width="1.6"/>
<text transform="translate(53.60 965.15) scale(1 1.1)" font-size="13.9" text-anchor="end" font-weight="normal" fill="#000">150</text>
<line x1="60.70" y1="940.43" x2="65.00" y2="940.43" stroke="#000" stroke-width="1.6"/>
<text transform="translate(53.60 944.63) scale(1 1.1)" font-size="13.9" text-anchor="end" font-weight="normal" fill="#000">200</text>
<line x1="60.70" y1="919.92" x2="65.00" y2="919.92" stroke="#000" stroke-width="1.6"/>
<text transform="translate(53.60 924.12) scale(1 1.1)" font-size="13.9" text-anchor="end" font-weight="normal" fill="#000">250</text>
<line x1="60.70" y1="899.40" x2="65.00" y2="899.40" stroke="#000" stroke-width="1.6"/>
<text transform="translate(53.60 903.60) scale(1 1.1)" font-size="13.9" text-anchor="end" font-weight="normal" fill="#000">300</text>
<line x1="64.00" y1="1022.50" x2="205.60" y2="1022.50" stroke="#000" stroke-width="2"/>
<line x1="83.00" y1="1022.50" x2="83.00" y2="1026.10" stroke="#000" stroke-width="1.6"/>
<line x1="118.00" y1="1022.50" x2="118.00" y2="1026.10" stroke="#000" stroke-width="1.6"/>
<line x1="153.70" y1="1022.50" x2="153.70" y2="1026.10" stroke="#000" stroke-width="1.6"/>
<line x1="189.20" y1="1022.50" x2="189.20" y2="1026.10" stroke="#000" stroke-width="1.6"/>
<line x1="205.10" y1="1022.50" x2="205.10" y2="1026.10" stroke="#000" stroke-width="1.6"/>
<text transform="translate(83.60 1043.30) scale(1 1.1)" font-size="13.9" text-anchor="middle" font-weight="normal" fill="#000">1</text>
<text transform="translate(118.00 1043.30) scale(1 1.1)" font-size="13.9" text-anchor="middle" font-weight="normal" fill="#000">2</text>
<text transform="translate(153.70 1043.30) scale(1 1.1)" font-size="13.9" text-anchor="middle" font-weight="normal" fill="#000">3</text>
<text transform="translate(189.20 1043.30) scale(1 1.1)" font-size="13.9" text-anchor="middle" font-weight="normal" fill="#000">4</text>
<text transform="translate(138.30 1062.80) scale(1 1.1)" font-size="13.9" text-anchor="middle" font-weight="normal" fill="#000">Tube test rank</text>
<text transform="translate(25.00 946.30) rotate(-90) scale(1 1.06)" font-size="14.0" text-anchor="middle" font-weight="normal" fill="#000">Corticosterone (ng/mL)</text>
<line x1="350.10" y1="940.58" x2="350.10" y2="956.66" stroke="#000" stroke-width="1.8"/>
<line x1="345.10" y1="940.58" x2="355.10" y2="940.58" stroke="#000" stroke-width="1.8"/>
<line x1="345.10" y1="956.66" x2="355.10" y2="956.66" stroke="#000" stroke-width="1.8"/>
<line x1="384.80" y1="944.29" x2="384.80" y2="960.37" stroke="#000" stroke-width="1.8"/>
<line x1="379.80" y1="944.29" x2="389.80" y2="944.29" stroke="#000" stroke-width="1.8"/>
<line x1="379.80" y1="960.37" x2="389.80" y2="960.37" stroke="#000" stroke-width="1.8"/>
<line x1="419.40" y1="917.08" x2="419.40" y2="933.16" stroke="#000" stroke-width="1.8"/>
<line x1="414.40" y1="917.08" x2="424.40" y2="917.08" stroke="#000" stroke-width="1.8"/>
<line x1="414.40" y1="933.16" x2="424.40" y2="933.16" stroke="#000" stroke-width="1.8"/>
<rect x="303.20" y="948.00" width="24.20" height="17.31" fill="#0d0d0d" stroke="#000" stroke-width="1.8"/>
<rect x="338.00" y="948.00" width="24.20" height="1.24" fill="#575150" stroke="#000" stroke-width="1.8"/>
<rect x="372.70" y="948.00" width="24.20" height="4.95" fill="#7f7b78" stroke="#000" stroke-width="1.8"/>
<rect x="407.30" y="925.74" width="24.20" height="22.26" fill="#e2e0e0" stroke="#000" stroke-width="1.8"/>
<line x1="350.10" y1="940.58" x2="350.10" y2="956.66" stroke="#000" stroke-width="1.8"/>
<line x1="345.10" y1="940.58" x2="355.10" y2="940.58" stroke="#000" stroke-width="1.8"/>
<line x1="345.10" y1="956.66" x2="355.10" y2="956.66" stroke="#000" stroke-width="1.8"/>
<line x1="384.80" y1="944.29" x2="384.80" y2="960.37" stroke="#000" stroke-width="1.8"/>
<line x1="379.80" y1="944.29" x2="389.80" y2="944.29" stroke="#000" stroke-width="1.8"/>
<line x1="379.80" y1="960.37" x2="389.80" y2="960.37" stroke="#000" stroke-width="1.8"/>
<line x1="419.40" y1="917.08" x2="419.40" y2="933.16" stroke="#000" stroke-width="1.8"/>
<line x1="414.40" y1="917.08" x2="424.40" y2="917.08" stroke="#000" stroke-width="1.8"/>
<line x1="414.40" y1="933.16" x2="424.40" y2="933.16" stroke="#000" stroke-width="1.8"/>
<line x1="298.40" y1="873.20" x2="298.40" y2="1022.80" stroke="#000" stroke-width="2"/>
<line x1="294.10" y1="1022.20" x2="298.40" y2="1022.20" stroke="#000" stroke-width="1.6"/>
<text transform="translate(286.00 1026.40) scale(1 1.1)" font-size="13.9" text-anchor="end" font-weight="normal" fill="#000">0.4</text>
<line x1="294.10" y1="997.47" x2="298.40" y2="997.47" stroke="#000" stroke-width="1.6"/>
<text transform="translate(286.00 1001.67) scale(1 1.1)" font-size="13.9" text-anchor="end" font-weight="normal" fill="#000">0.6</text>
<line x1="294.10" y1="972.73" x2="298.40" y2="972.73" stroke="#000" stroke-width="1.6"/>
<text transform="translate(286.00 976.93) scale(1 1.1)" font-size="13.9" text-anchor="end" font-weight="normal" fill="#000">0.8</text>
<line x1="294.10" y1="948.00" x2="298.40" y2="948.00" stroke="#000" stroke-width="1.6"/>
<text transform="translate(286.00 952.20) scale(1 1.1)" font-size="13.9" text-anchor="end" font-weight="normal" fill="#000">1.0</text>
<line x1="294.10" y1="923.27" x2="298.40" y2="923.27" stroke="#000" stroke-width="1.6"/>
<text transform="translate(286.00 927.47) scale(1 1.1)" font-size="13.9" text-anchor="end" font-weight="normal" fill="#000">1.2</text>
<line x1="294.10" y1="898.53" x2="298.40" y2="898.53" stroke="#000" stroke-width="1.6"/>
<text transform="translate(286.00 902.73) scale(1 1.1)" font-size="13.9" text-anchor="end" font-weight="normal" fill="#000">1.4</text>
<line x1="294.10" y1="873.80" x2="298.40" y2="873.80" stroke="#000" stroke-width="1.6"/>
<text transform="translate(286.00 878.00) scale(1 1.1)" font-size="13.9" text-anchor="end" font-weight="normal" fill="#000">1.6</text>
<line x1="298.40" y1="948.00" x2="436.50" y2="948.00" stroke="#000" stroke-width="2"/>
<line x1="436.00" y1="948.00" x2="436.00" y2="951.50" stroke="#000" stroke-width="1.6"/>
<text transform="translate(315.30 1043.40) scale(1 1.1)" font-size="13.9" text-anchor="middle" font-weight="normal" fill="#000">1</text>
<text transform="translate(349.90 1043.40) scale(1 1.1)" font-size="13.9" text-anchor="middle" font-weight="normal" fill="#000">2</text>
<text transform="translate(385.00 1043.40) scale(1 1.1)" font-size="13.9" text-anchor="middle" font-weight="normal" fill="#000">3</text>
<text transform="translate(419.30 1043.40) scale(1 1.1)" font-size="13.9" text-anchor="middle" font-weight="normal" fill="#000">4</text>
<line x1="315.30" y1="965.31" x2="315.30" y2="973.97" stroke="#000" stroke-width="1.8"/>
<line x1="310.30" y1="965.31" x2="320.30" y2="965.31" stroke="#000" stroke-width="1.8"/>
<line x1="310.30" y1="973.97" x2="320.30" y2="973.97" stroke="#000" stroke-width="1.8"/>
<polyline points="318.00,882.00 318.00,873.00 419.00,873.00 419.00,882.00" fill="none" stroke="#000" stroke-width="1.8"/>
<path d="M363.40,863.80 L363.40,860.10 M363.40,863.80 L366.92,862.66 M363.40,863.80 L365.57,866.79 M363.40,863.80 L361.23,866.79 M363.40,863.80 L359.88,862.66 " stroke="#000" stroke-width="1.6" stroke-linecap="round" fill="none"/>
<path d="M372.40,863.80 L372.40,860.10 M372.40,863.80 L375.92,862.66 M372.40,863.80 L374.57,866.79 M372.40,863.80 L370.23,866.79 M372.40,863.80 L368.88,862.66 " stroke="#000" stroke-width="1.6" stroke-linecap="round" fill="none"/>
<text transform="translate(372.50 1062.80) scale(1 1.1)" font-size="13.9" text-anchor="middle" font-weight="normal" fill="#000">Tube test rank</text>
<text transform="translate(255.00 946.70) rotate(-90) scale(1 1.06)" font-size="14.0" text-anchor="middle" font-weight="normal" fill="#000">Relative corticosterone</text>
<line x1="535.40" y1="952.40" x2="535.40" y2="974.19" stroke="#000" stroke-width="1.8"/>
<line x1="530.40" y1="952.40" x2="540.40" y2="952.40" stroke="#000" stroke-width="1.8"/>
<line x1="530.40" y1="974.19" x2="540.40" y2="974.19" stroke="#000" stroke-width="1.8"/>
<line x1="549.60" y1="938.78" x2="549.60" y2="964.66" stroke="#000" stroke-width="1.8"/>
<line x1="544.60" y1="938.78" x2="554.60" y2="938.78" stroke="#000" stroke-width="1.8"/>
<line x1="544.60" y1="964.66" x2="554.60" y2="964.66" stroke="#000" stroke-width="1.8"/>
<line x1="570.50" y1="918.35" x2="570.50" y2="945.59" stroke="#000" stroke-width="1.8"/>
<line x1="565.50" y1="918.35" x2="575.50" y2="918.35" stroke="#000" stroke-width="1.8"/>
<line x1="565.50" y1="945.59" x2="575.50" y2="945.59" stroke="#000" stroke-width="1.8"/>
<line x1="584.70" y1="938.78" x2="584.70" y2="961.93" stroke="#000" stroke-width="1.8"/>
<line x1="579.70" y1="938.78" x2="589.70" y2="938.78" stroke="#000" stroke-width="1.8"/>
<line x1="579.70" y1="961.93" x2="589.70" y2="961.93" stroke="#000" stroke-width="1.8"/>
<line x1="605.90" y1="942.87" x2="605.90" y2="968.74" stroke="#000" stroke-width="1.8"/>
<line x1="600.90" y1="942.87" x2="610.90" y2="942.87" stroke="#000" stroke-width="1.8"/>
<line x1="600.90" y1="968.74" x2="610.90" y2="968.74" stroke="#000" stroke-width="1.8"/>
<line x1="620.10" y1="915.63" x2="620.10" y2="945.59" stroke="#000" stroke-width="1.8"/>
<line x1="615.10" y1="915.63" x2="625.10" y2="915.63" stroke="#000" stroke-width="1.8"/>
<line x1="615.10" y1="945.59" x2="625.10" y2="945.59" stroke="#000" stroke-width="1.8"/>
<line x1="640.90" y1="895.20" x2="640.90" y2="919.71" stroke="#000" stroke-width="1.8"/>
<line x1="635.90" y1="895.20" x2="645.90" y2="895.20" stroke="#000" stroke-width="1.8"/>
<line x1="635.90" y1="919.71" x2="645.90" y2="919.71" stroke="#000" stroke-width="1.8"/>
<line x1="655.10" y1="908.82" x2="655.10" y2="938.78" stroke="#000" stroke-width="1.8"/>
<line x1="650.10" y1="908.82" x2="660.10" y2="908.82" stroke="#000" stroke-width="1.8"/>
<line x1="650.10" y1="938.78" x2="660.10" y2="938.78" stroke="#000" stroke-width="1.8"/>
<rect x="528.30" y="938.78" width="14.20" height="24.52" fill="#E69729" stroke="#000" stroke-width="1.8"/>
<rect x="542.50" y="938.78" width="14.20" height="12.26" fill="#F0F59D" stroke="#000" stroke-width="1.8"/>
<rect x="563.40" y="931.97" width="14.20" height="6.81" fill="#E69729" stroke="#000" stroke-width="1.8"/>
<rect x="577.60" y="938.78" width="14.20" height="12.26" fill="#F0F59D" stroke="#000" stroke-width="1.8"/>
<rect x="598.80" y="938.78" width="14.20" height="14.98" fill="#E69729" stroke="#000" stroke-width="1.8"/>
<rect x="613.00" y="930.61" width="14.20" height="8.17" fill="#F0F59D" stroke="#000" stroke-width="1.8"/>
<rect x="633.80" y="907.45" width="14.20" height="31.33" fill="#E69729" stroke="#000" stroke-width="1.8"/>
<rect x="648.00" y="923.80" width="14.20" height="14.98" fill="#F0F59D" stroke="#000" stroke-width="1.8"/>
<line x1="535.40" y1="952.40" x2="535.40" y2="974.19" stroke="#000" stroke-width="1.8"/>
<line x1="530.40" y1="952.40" x2="540.40" y2="952.40" stroke="#000" stroke-width="1.8"/>
<line x1="530.40" y1="974.19" x2="540.40" y2="974.19" stroke="#000" stroke-width="1.8"/>
<line x1="549.60" y1="938.78" x2="549.60" y2="964.66" stroke="#000" stroke-width="1.8"/>
<line x1="544.60" y1="938.78" x2="554.60" y2="938.78" stroke="#000" stroke-width="1.8"/>
<line x1="544.60" y1="964.66" x2="554.60" y2="964.66" stroke="#000" stroke-width="1.8"/>
<line x1="570.50" y1="918.35" x2="570.50" y2="945.59" stroke="#000" stroke-width="1.8"/>
<line x1="565.50" y1="918.35" x2="575.50" y2="918.35" stroke="#000" stroke-width="1.8"/>
<line x1="565.50" y1="945.59" x2="575.50" y2="945.59" stroke="#000" stroke-width="1.8"/>
<line x1="584.70" y1="938.78" x2="584.70" y2="961.93" stroke="#000" stroke-width="1.8"/>
<line x1="579.70" y1="938.78" x2="589.70" y2="938.78" stroke="#000" stroke-width="1.8"/>
<line x1="579.70" y1="961.93" x2="589.70" y2="961.93" stroke="#000" stroke-width="1.8"/>
<line x1="605.90" y1="942.87" x2="605.90" y2="968.74" stroke="#000" stroke-width="1.8"/>
<line x1="600.90" y1="942.87" x2="610.90" y2="942.87" stroke="#000" stroke-width="1.8"/>
<line x1="600.90" y1="968.74" x2="610.90" y2="968.74" stroke="#000" stroke-width="1.8"/>
<line x1="620.10" y1="915.63" x2="620.10" y2="945.59" stroke="#000" stroke-width="1.8"/>
<line x1="615.10" y1="915.63" x2="625.10" y2="915.63" stroke="#000" stroke-width="1.8"/>
<line x1="615.10" y1="945.59" x2="625.10" y2="945.59" stroke="#000" stroke-width="1.8"/>
<line x1="640.90" y1="895.20" x2="640.90" y2="919.71" stroke="#000" stroke-width="1.8"/>
<line x1="635.90" y1="895.20" x2="645.90" y2="895.20" stroke="#000" stroke-width="1.8"/>
<line x1="635.90" y1="919.71" x2="645.90" y2="919.71" stroke="#000" stroke-width="1.8"/>
<line x1="655.10" y1="908.82" x2="655.10" y2="938.78" stroke="#000" stroke-width="1.8"/>
<line x1="650.10" y1="908.82" x2="660.10" y2="908.82" stroke="#000" stroke-width="1.8"/>
<line x1="650.10" y1="938.78" x2="660.10" y2="938.78" stroke="#000" stroke-width="1.8"/>
<line x1="525.20" y1="883.70" x2="525.20" y2="1021.10" stroke="#000" stroke-width="2"/>
<line x1="520.90" y1="1020.50" x2="525.20" y2="1020.50" stroke="#000" stroke-width="1.6"/>
<text transform="translate(512.70 1024.70) scale(1 1.1)" font-size="13.9" text-anchor="end" font-weight="normal" fill="#000">0.4</text>
<line x1="520.90" y1="993.26" x2="525.20" y2="993.26" stroke="#000" stroke-width="1.6"/>
<text transform="translate(512.70 997.46) scale(1 1.1)" font-size="13.9" text-anchor="end" font-weight="normal" fill="#000">0.6</text>
<line x1="520.90" y1="966.02" x2="525.20" y2="966.02" stroke="#000" stroke-width="1.6"/>
<text transform="translate(512.70 970.22) scale(1 1.1)" font-size="13.9" text-anchor="end" font-weight="normal" fill="#000">0.8</text>
<line x1="520.90" y1="938.78" x2="525.20" y2="938.78" stroke="#000" stroke-width="1.6"/>
<text transform="translate(512.70 942.98) scale(1 1.1)" font-size="13.9" text-anchor="end" font-weight="normal" fill="#000">1.0</text>
<line x1="520.90" y1="911.54" x2="525.20" y2="911.54" stroke="#000" stroke-width="1.6"/>
<text transform="translate(512.70 915.74) scale(1 1.1)" font-size="13.9" text-anchor="end" font-weight="normal" fill="#000">1.2</text>
<line x1="520.90" y1="884.30" x2="525.20" y2="884.30" stroke="#000" stroke-width="1.6"/>
<text transform="translate(512.70 888.50) scale(1 1.1)" font-size="13.9" text-anchor="end" font-weight="normal" fill="#000">1.4</text>
<line x1="525.20" y1="938.78" x2="665.90" y2="938.78" stroke="#000" stroke-width="2"/>
<line x1="665.40" y1="938.78" x2="665.40" y2="942.28" stroke="#000" stroke-width="1.6"/>
<text transform="translate(542.50 1041.80) scale(1 1.1)" font-size="13.9" text-anchor="middle" font-weight="normal" fill="#000">1</text>
<text transform="translate(577.60 1041.80) scale(1 1.1)" font-size="13.9" text-anchor="middle" font-weight="normal" fill="#000">2</text>
<text transform="translate(613.00 1041.80) scale(1 1.1)" font-size="13.9" text-anchor="middle" font-weight="normal" fill="#000">3</text>
<text transform="translate(648.00 1041.80) scale(1 1.1)" font-size="13.9" text-anchor="middle" font-weight="normal" fill="#000">4</text>
<rect x="570.20" y="861.90" width="25.20" height="9.00" fill="#E69729" stroke="#000" stroke-width="2"/>
<rect x="570.20" y="879.00" width="25.20" height="9.00" fill="#F0F59D" stroke="#000" stroke-width="2"/>
<text transform="translate(597.00 868.60)" font-size="12" text-anchor="start" font-weight="normal" fill="#000" textLength="66.3" lengthAdjust="spacingAndGlyphs">100% stable</text>
<text transform="translate(597.00 885.50)" font-size="12" text-anchor="start" font-weight="normal" fill="#000" textLength="73.9" lengthAdjust="spacingAndGlyphs">&lt;100% stable</text>
<polyline points="537.90,1000.50 537.90,1006.60 639.00,1006.60 639.00,1000.50" fill="none" stroke="#000" stroke-width="1.8"/>
<path d="M590.80,1016.90 L590.80,1013.20 M590.80,1016.90 L594.32,1015.76 M590.80,1016.90 L592.97,1019.89 M590.80,1016.90 L588.63,1019.89 M590.80,1016.90 L587.28,1015.76 " stroke="#000" stroke-width="1.6" stroke-linecap="round" fill="none"/>
<text transform="translate(602.40 1063.20) scale(1 1.1)" font-size="13.9" text-anchor="middle" font-weight="normal" fill="#000">Tube test rank</text>
<text transform="translate(484.70 947.70) rotate(-90) scale(1 1.06)" font-size="14.0" text-anchor="middle" font-weight="normal" fill="#000">Relative corticosterone</text>
<polyline points="83.00,1182.42 118.00,1164.34 153.00,1142.25 188.10,1125.18" fill="none" stroke="#b9b6b6" stroke-width="2.1"/>
<polyline points="83.00,1177.40 118.00,1147.27 153.00,1184.43 188.10,1192.46" fill="none" stroke="#b9b6b6" stroke-width="2.1"/>
<polyline points="83.00,1165.35 118.00,1169.37 153.00,1169.37 188.10,1174.39" fill="none" stroke="#b9b6b6" stroke-width="2.1"/>
<polyline points="83.00,1220.58 118.00,1197.49 153.00,1195.48 188.10,1207.53" fill="none" stroke="#b9b6b6" stroke-width="2.1"/>
<polyline points="83.00,1187.44 118.00,1214.56 153.00,1197.49 188.10,1211.55" fill="none" stroke="#b9b6b6" stroke-width="2.1"/>
<polyline points="83.00,1172.38 118.00,1177.40 153.00,1175.39 188.10,1177.40" fill="none" stroke="#b9b6b6" stroke-width="2.1"/>
<polyline points="83.00,1192.46 118.00,1182.42 153.00,1200.50 188.10,1221.59" fill="none" stroke="#b9b6b6" stroke-width="2.1"/>
<polyline points="83.00,1199.49 118.00,1192.46 153.00,1179.41 188.10,1182.42" fill="none" stroke="#b9b6b6" stroke-width="2.1"/>
<polyline points="83.00,1202.51 118.00,1202.51 153.00,1192.46 188.10,1195.48" fill="none" stroke="#b9b6b6" stroke-width="2.1"/>
<polyline points="83.00,1184.43 118.00,1189.45 153.00,1198.49 188.10,1179.41" fill="none" stroke="#b9b6b6" stroke-width="2.1"/>
<polyline points="83.00,1195.48 118.00,1174.39 153.00,1189.45 188.10,1197.49" fill="none" stroke="#b9b6b6" stroke-width="2.1"/>
<polyline points="83.00,1175.39 118.00,1199.49 153.00,1185.43 188.10,1175.39" fill="none" stroke="#b9b6b6" stroke-width="2.1"/>
<rect x="77.49" y="1176.91" width="11.01" height="11.01" fill="none" stroke="#878282" stroke-width="2.0"/>
<ellipse cx="118.00" cy="1164.34" rx="5.46" ry="5.75" fill="none" stroke="#878282" stroke-width="2.0"/>
<polygon points="153.00,1136.74 157.87,1142.25 153.00,1147.76 148.13,1142.25" fill="none" stroke="#878282" stroke-width="2.0"/>
<polygon points="188.10,1119.97 193.11,1130.39 183.09,1130.39" fill="none" stroke="#878282" stroke-width="2.0"/>
<rect x="77.49" y="1171.89" width="11.01" height="11.01" fill="none" stroke="#878282" stroke-width="2.0"/>
<ellipse cx="118.00" cy="1147.27" rx="5.46" ry="5.75" fill="none" stroke="#878282" stroke-width="2.0"/>
<polygon points="153.00,1178.92 157.87,1184.43 153.00,1189.94 148.13,1184.43" fill="none" stroke="#878282" stroke-width="2.0"/>
<polygon points="188.10,1187.25 193.11,1197.68 183.09,1197.68" fill="none" stroke="#878282" stroke-width="2.0"/>
<rect x="77.49" y="1159.84" width="11.01" height="11.01" fill="none" stroke="#878282" stroke-width="2.0"/>
<ellipse cx="118.00" cy="1169.37" rx="5.46" ry="5.75" fill="none" stroke="#878282" stroke-width="2.0"/>
<polygon points="153.00,1163.86 157.87,1169.37 153.00,1174.87 148.13,1169.37" fill="none" stroke="#878282" stroke-width="2.0"/>
<polygon points="188.10,1169.18 193.11,1179.60 183.09,1179.60" fill="none" stroke="#878282" stroke-width="2.0"/>
<rect x="77.49" y="1215.08" width="11.01" height="11.01" fill="none" stroke="#878282" stroke-width="2.0"/>
<ellipse cx="118.00" cy="1197.49" rx="5.46" ry="5.75" fill="none" stroke="#878282" stroke-width="2.0"/>
<polygon points="153.00,1189.97 157.87,1195.48 153.00,1200.98 148.13,1195.48" fill="none" stroke="#878282" stroke-width="2.0"/>
<polygon points="188.10,1202.32 193.11,1212.74 183.09,1212.74" fill="none" stroke="#878282" stroke-width="2.0"/>
<rect x="77.49" y="1181.94" width="11.01" height="11.01" fill="none" stroke="#878282" stroke-width="2.0"/>
<ellipse cx="118.00" cy="1214.56" rx="5.46" ry="5.75" fill="none" stroke="#878282" stroke-width="2.0"/>
<polygon points="153.00,1191.98 157.87,1197.49 153.00,1202.99 148.13,1197.49" fill="none" stroke="#878282" stroke-width="2.0"/>
<polygon points="188.10,1206.33 193.11,1216.76 183.09,1216.76" fill="none" stroke="#878282" stroke-width="2.0"/>
<rect x="77.49" y="1166.87" width="11.01" height="11.01" fill="none" stroke="#878282" stroke-width="2.0"/>
<ellipse cx="118.00" cy="1177.40" rx="5.46" ry="5.75" fill="none" stroke="#878282" stroke-width="2.0"/>
<polygon points="153.00,1169.88 157.87,1175.39 153.00,1180.90 148.13,1175.39" fill="none" stroke="#878282" stroke-width="2.0"/>
<polygon points="188.10,1172.19 193.11,1182.61 183.09,1182.61" fill="none" stroke="#878282" stroke-width="2.0"/>
<rect x="77.49" y="1186.96" width="11.01" height="11.01" fill="none" stroke="#878282" stroke-width="2.0"/>
<ellipse cx="118.00" cy="1182.42" rx="5.46" ry="5.75" fill="none" stroke="#878282" stroke-width="2.0"/>
<polygon points="153.00,1194.99 157.87,1200.50 153.00,1206.01 148.13,1200.50" fill="none" stroke="#878282" stroke-width="2.0"/>
<polygon points="188.10,1216.38 193.11,1226.80 183.09,1226.80" fill="none" stroke="#878282" stroke-width="2.0"/>
<rect x="77.49" y="1193.99" width="11.01" height="11.01" fill="none" stroke="#878282" stroke-width="2.0"/>
<ellipse cx="118.00" cy="1192.46" rx="5.46" ry="5.75" fill="none" stroke="#878282" stroke-width="2.0"/>
<polygon points="153.00,1173.90 157.87,1179.41 153.00,1184.92 148.13,1179.41" fill="none" stroke="#878282" stroke-width="2.0"/>
<polygon points="188.10,1177.21 193.11,1187.63 183.09,1187.63" fill="none" stroke="#878282" stroke-width="2.0"/>
<rect x="77.49" y="1197.00" width="11.01" height="11.01" fill="none" stroke="#878282" stroke-width="2.0"/>
<ellipse cx="118.00" cy="1202.51" rx="5.46" ry="5.75" fill="none" stroke="#878282" stroke-width="2.0"/>
<polygon points="153.00,1186.96 157.87,1192.46 153.00,1197.97 148.13,1192.46" fill="none" stroke="#878282" stroke-width="2.0"/>
<polygon points="188.10,1190.27 193.11,1200.69 183.09,1200.69" fill="none" stroke="#878282" stroke-width="2.0"/>
<rect x="77.49" y="1178.92" width="11.01" height="11.01" fill="none" stroke="#878282" stroke-width="2.0"/>
<ellipse cx="118.00" cy="1189.45" rx="5.46" ry="5.75" fill="none" stroke="#878282" stroke-width="2.0"/>
<polygon points="153.00,1192.98 157.87,1198.49 153.00,1204.00 148.13,1198.49" fill="none" stroke="#878282" stroke-width="2.0"/>
<polygon points="188.10,1174.20 193.11,1184.62 183.09,1184.62" fill="none" stroke="#878282" stroke-width="2.0"/>
<rect x="77.49" y="1189.97" width="11.01" height="11.01" fill="none" stroke="#878282" stroke-width="2.0"/>
<ellipse cx="118.00" cy="1174.39" rx="5.46" ry="5.75" fill="none" stroke="#878282" stroke-width="2.0"/>
<polygon points="153.00,1183.94 157.87,1189.45 153.00,1194.96 148.13,1189.45" fill="none" stroke="#878282" stroke-width="2.0"/>
<polygon points="188.10,1192.27 193.11,1202.70 183.09,1202.70" fill="none" stroke="#878282" stroke-width="2.0"/>
<rect x="77.49" y="1169.88" width="11.01" height="11.01" fill="none" stroke="#878282" stroke-width="2.0"/>
<ellipse cx="118.00" cy="1199.49" rx="5.46" ry="5.75" fill="none" stroke="#878282" stroke-width="2.0"/>
<polygon points="153.00,1179.93 157.87,1185.43 153.00,1190.94 148.13,1185.43" fill="none" stroke="#878282" stroke-width="2.0"/>
<polygon points="188.10,1170.18 193.11,1180.60 183.09,1180.60" fill="none" stroke="#878282" stroke-width="2.0"/>
<line x1="153.00" y1="1183.43" x2="153.00" y2="1189.45" stroke="#000" stroke-width="1.6"/>
<line x1="148.00" y1="1183.43" x2="158.00" y2="1183.43" stroke="#000" stroke-width="1.6"/>
<line x1="148.00" y1="1189.45" x2="158.00" y2="1189.45" stroke="#000" stroke-width="1.6"/>
<polyline points="83.00,1187.44 118.00,1183.43 153.00,1186.44 188.10,1187.94" fill="none" stroke="#000" stroke-width="2"/>
<rect x="77.40" y="1181.84" width="11.20" height="11.20" fill="#0d0d0d" stroke="#000" stroke-width="1.8"/>
<ellipse cx="118.00" cy="1183.43" rx="5.55" ry="5.85" fill="#575150" stroke="#000" stroke-width="1.8"/>
<polygon points="153.00,1180.84 157.95,1186.44 153.00,1192.04 148.05,1186.44" fill="#7f7b78" stroke="#000" stroke-width="1.8"/>
<polygon points="188.10,1182.64 193.20,1193.24 183.00,1193.24" fill="#e2e0e0" stroke="#000" stroke-width="1.8"/>
<line x1="65.20" y1="1106.50" x2="65.20" y2="1248.70" stroke="#000" stroke-width="2"/>
<line x1="60.90" y1="1247.70" x2="65.20" y2="1247.70" stroke="#000" stroke-width="1.6"/>
<text transform="translate(53.80 1251.90) scale(1 1.1)" font-size="13.9" text-anchor="end" font-weight="normal" fill="#000">0</text>
<line x1="60.90" y1="1227.61" x2="65.20" y2="1227.61" stroke="#000" stroke-width="1.6"/>
<text transform="translate(53.80 1231.81) scale(1 1.1)" font-size="13.9" text-anchor="end" font-weight="normal" fill="#000">2</text>
<line x1="60.90" y1="1207.53" x2="65.20" y2="1207.53" stroke="#000" stroke-width="1.6"/>
<text transform="translate(53.80 1211.73) scale(1 1.1)" font-size="13.9" text-anchor="end" font-weight="normal" fill="#000">4</text>
<line x1="60.90" y1="1187.44" x2="65.20" y2="1187.44" stroke="#000" stroke-width="1.6"/>
<text transform="translate(53.80 1191.64) scale(1 1.1)" font-size="13.9" text-anchor="end" font-weight="normal" fill="#000">6</text>
<line x1="60.90" y1="1167.36" x2="65.20" y2="1167.36" stroke="#000" stroke-width="1.6"/>
<text transform="translate(53.80 1171.56) scale(1 1.1)" font-size="13.9" text-anchor="end" font-weight="normal" fill="#000">8</text>
<line x1="60.90" y1="1147.27" x2="65.20" y2="1147.27" stroke="#000" stroke-width="1.6"/>
<text transform="translate(53.80 1151.47) scale(1 1.1)" font-size="13.9" text-anchor="end" font-weight="normal" fill="#000">10</text>
<line x1="60.90" y1="1127.19" x2="65.20" y2="1127.19" stroke="#000" stroke-width="1.6"/>
<text transform="translate(53.80 1131.39) scale(1 1.1)" font-size="13.9" text-anchor="end" font-weight="normal" fill="#000">12</text>
<line x1="60.90" y1="1107.10" x2="65.20" y2="1107.10" stroke="#000" stroke-width="1.6"/>
<text transform="translate(53.80 1111.30) scale(1 1.1)" font-size="13.9" text-anchor="end" font-weight="normal" fill="#000">14</text>
<line x1="64.20" y1="1247.70" x2="204.50" y2="1247.70" stroke="#000" stroke-width="2"/>
<line x1="83.00" y1="1247.70" x2="83.00" y2="1251.30" stroke="#000" stroke-width="1.6"/>
<line x1="118.00" y1="1247.70" x2="118.00" y2="1251.30" stroke="#000" stroke-width="1.6"/>
<line x1="153.00" y1="1247.70" x2="153.00" y2="1251.30" stroke="#000" stroke-width="1.6"/>
<line x1="188.10" y1="1247.70" x2="188.10" y2="1251.30" stroke="#000" stroke-width="1.6"/>
<line x1="204.00" y1="1247.70" x2="204.00" y2="1251.30" stroke="#000" stroke-width="1.6"/>
<text transform="translate(83.60 1268.80) scale(1 1.1)" font-size="13.9" text-anchor="middle" font-weight="normal" fill="#000">1</text>
<text transform="translate(118.00 1268.80) scale(1 1.1)" font-size="13.9" text-anchor="middle" font-weight="normal" fill="#000">2</text>
<text transform="translate(153.00 1268.80) scale(1 1.1)" font-size="13.9" text-anchor="middle" font-weight="normal" fill="#000">3</text>
<text transform="translate(188.10 1268.80) scale(1 1.1)" font-size="13.9" text-anchor="middle" font-weight="normal" fill="#000">4</text>
<text transform="translate(139.00 1292.00) scale(1 1.1)" font-size="13.9" text-anchor="middle" font-weight="normal" fill="#000">Tube test rank</text>
<text transform="translate(23.00 1170.80) rotate(-90) scale(1 1.06)" font-size="14.0" text-anchor="middle" font-weight="normal" fill="#000">Noradrenaline (ng/g)</text>
<line x1="316.30" y1="1170.80" x2="316.30" y2="1186.02" stroke="#000" stroke-width="1.8"/>
<line x1="311.30" y1="1170.80" x2="321.30" y2="1170.80" stroke="#000" stroke-width="1.8"/>
<line x1="311.30" y1="1186.02" x2="321.30" y2="1186.02" stroke="#000" stroke-width="1.8"/>
<line x1="352.60" y1="1162.60" x2="352.60" y2="1178.99" stroke="#000" stroke-width="1.8"/>
<line x1="347.60" y1="1162.60" x2="357.60" y2="1162.60" stroke="#000" stroke-width="1.8"/>
<line x1="347.60" y1="1178.99" x2="357.60" y2="1178.99" stroke="#000" stroke-width="1.8"/>
<line x1="389.20" y1="1169.62" x2="389.20" y2="1182.50" stroke="#000" stroke-width="1.8"/>
<line x1="384.20" y1="1169.62" x2="394.20" y2="1169.62" stroke="#000" stroke-width="1.8"/>
<line x1="384.20" y1="1182.50" x2="394.20" y2="1182.50" stroke="#000" stroke-width="1.8"/>
<line x1="425.40" y1="1171.97" x2="425.40" y2="1188.36" stroke="#000" stroke-width="1.8"/>
<line x1="420.40" y1="1171.97" x2="430.40" y2="1171.97" stroke="#000" stroke-width="1.8"/>
<line x1="420.40" y1="1188.36" x2="430.40" y2="1188.36" stroke="#000" stroke-width="1.8"/>
<rect x="303.55" y="1176.65" width="25.50" height="1.17" fill="#0d0d0d" stroke="#000" stroke-width="1.8"/>
<rect x="339.85" y="1170.80" width="25.50" height="5.85" fill="#575150" stroke="#000" stroke-width="1.8"/>
<rect x="376.45" y="1176.65" width="25.50" height="0.00" fill="#7f7b78" stroke="#000" stroke-width="1.8"/>
<rect x="412.65" y="1176.65" width="25.50" height="3.51" fill="#e2e0e0" stroke="#000" stroke-width="1.8"/>
<line x1="316.30" y1="1170.80" x2="316.30" y2="1186.02" stroke="#000" stroke-width="1.8"/>
<line x1="311.30" y1="1170.80" x2="321.30" y2="1170.80" stroke="#000" stroke-width="1.8"/>
<line x1="311.30" y1="1186.02" x2="321.30" y2="1186.02" stroke="#000" stroke-width="1.8"/>
<line x1="352.60" y1="1162.60" x2="352.60" y2="1178.99" stroke="#000" stroke-width="1.8"/>
<line x1="347.60" y1="1162.60" x2="357.60" y2="1162.60" stroke="#000" stroke-width="1.8"/>
<line x1="347.60" y1="1178.99" x2="357.60" y2="1178.99" stroke="#000" stroke-width="1.8"/>
<line x1="389.20" y1="1169.62" x2="389.20" y2="1182.50" stroke="#000" stroke-width="1.8"/>
<line x1="384.20" y1="1169.62" x2="394.20" y2="1169.62" stroke="#000" stroke-width="1.8"/>
<line x1="384.20" y1="1182.50" x2="394.20" y2="1182.50" stroke="#000" stroke-width="1.8"/>
<line x1="425.40" y1="1171.97" x2="425.40" y2="1188.36" stroke="#000" stroke-width="1.8"/>
<line x1="420.40" y1="1171.97" x2="430.40" y2="1171.97" stroke="#000" stroke-width="1.8"/>
<line x1="420.40" y1="1188.36" x2="430.40" y2="1188.36" stroke="#000" stroke-width="1.8"/>
<line x1="299.00" y1="1105.80" x2="299.00" y2="1247.50" stroke="#000" stroke-width="2"/>
<line x1="294.70" y1="1246.90" x2="299.00" y2="1246.90" stroke="#000" stroke-width="1.6"/>
<text transform="translate(286.00 1251.10) scale(1 1.1)" font-size="13.9" text-anchor="end" font-weight="normal" fill="#000">0.4</text>
<line x1="294.70" y1="1223.48" x2="299.00" y2="1223.48" stroke="#000" stroke-width="1.6"/>
<text transform="translate(286.00 1227.68) scale(1 1.1)" font-size="13.9" text-anchor="end" font-weight="normal" fill="#000">0.6</text>
<line x1="294.70" y1="1200.07" x2="299.00" y2="1200.07" stroke="#000" stroke-width="1.6"/>
<text transform="translate(286.00 1204.27) scale(1 1.1)" font-size="13.9" text-anchor="end" font-weight="normal" fill="#000">0.8</text>
<line x1="294.70" y1="1176.65" x2="299.00" y2="1176.65" stroke="#000" stroke-width="1.6"/>
<text transform="translate(286.00 1180.85) scale(1 1.1)" font-size="13.9" text-anchor="end" font-weight="normal" fill="#000">1</text>
<line x1="294.70" y1="1153.23" x2="299.00" y2="1153.23" stroke="#000" stroke-width="1.6"/>
<text transform="translate(286.00 1157.43) scale(1 1.1)" font-size="13.9" text-anchor="end" font-weight="normal" fill="#000">1.2</text>
<line x1="294.70" y1="1129.82" x2="299.00" y2="1129.82" stroke="#000" stroke-width="1.6"/>
<text transform="translate(286.00 1134.02) scale(1 1.1)" font-size="13.9" text-anchor="end" font-weight="normal" fill="#000">1.4</text>
<line x1="294.70" y1="1106.40" x2="299.00" y2="1106.40" stroke="#000" stroke-width="1.6"/>
<text transform="translate(286.00 1110.60) scale(1 1.1)" font-size="13.9" text-anchor="end" font-weight="normal" fill="#000">1.6</text>
<line x1="299.00" y1="1176.65" x2="443.20" y2="1176.65" stroke="#000" stroke-width="2"/>
<line x1="442.70" y1="1176.65" x2="442.70" y2="1180.15" stroke="#000" stroke-width="1.6"/>
<text transform="translate(316.40 1268.00) scale(1 1.1)" font-size="13.9" text-anchor="middle" font-weight="normal" fill="#000">1</text>
<text transform="translate(352.60 1268.00) scale(1 1.1)" font-size="13.9" text-anchor="middle" font-weight="normal" fill="#000">2</text>
<text transform="translate(388.70 1268.00) scale(1 1.1)" font-size="13.9" text-anchor="middle" font-weight="normal" fill="#000">3</text>
<text transform="translate(424.80 1268.00) scale(1 1.1)" font-size="13.9" text-anchor="middle" font-weight="normal" fill="#000">4</text>
<text transform="translate(373.40 1292.10) scale(1 1.1)" font-size="13.9" text-anchor="middle" font-weight="normal" fill="#000">Tube test rank</text>
<text transform="translate(254.40 1175.40) rotate(-90) scale(1 1.06)" font-size="14.0" text-anchor="middle" font-weight="normal" fill="#000">Relative noradrenaline</text>
<line x1="538.20" y1="1141.17" x2="538.20" y2="1171.24" stroke="#000" stroke-width="1.8"/>
<line x1="533.20" y1="1141.17" x2="543.20" y2="1141.17" stroke="#000" stroke-width="1.8"/>
<line x1="533.20" y1="1171.24" x2="543.20" y2="1171.24" stroke="#000" stroke-width="1.8"/>
<line x1="553.40" y1="1181.86" x2="553.40" y2="1211.92" stroke="#000" stroke-width="1.8"/>
<line x1="548.40" y1="1181.86" x2="558.40" y2="1181.86" stroke="#000" stroke-width="1.8"/>
<line x1="548.40" y1="1211.92" x2="558.40" y2="1211.92" stroke="#000" stroke-width="1.8"/>
<line x1="576.10" y1="1169.47" x2="576.10" y2="1176.55" stroke="#000" stroke-width="1.8"/>
<line x1="571.10" y1="1169.47" x2="581.10" y2="1169.47" stroke="#000" stroke-width="1.8"/>
<line x1="571.10" y1="1176.55" x2="581.10" y2="1176.55" stroke="#000" stroke-width="1.8"/>
<line x1="591.30" y1="1144.71" x2="591.30" y2="1185.39" stroke="#000" stroke-width="1.8"/>
<line x1="586.30" y1="1144.71" x2="596.30" y2="1144.71" stroke="#000" stroke-width="1.8"/>
<line x1="586.30" y1="1185.39" x2="596.30" y2="1185.39" stroke="#000" stroke-width="1.8"/>
<line x1="614.80" y1="1181.86" x2="614.80" y2="1203.08" stroke="#000" stroke-width="1.8"/>
<line x1="609.80" y1="1181.86" x2="619.80" y2="1181.86" stroke="#000" stroke-width="1.8"/>
<line x1="609.80" y1="1203.08" x2="619.80" y2="1203.08" stroke="#000" stroke-width="1.8"/>
<line x1="630.00" y1="1150.02" x2="630.00" y2="1180.09" stroke="#000" stroke-width="1.8"/>
<line x1="625.00" y1="1150.02" x2="635.00" y2="1150.02" stroke="#000" stroke-width="1.8"/>
<line x1="625.00" y1="1180.09" x2="635.00" y2="1180.09" stroke="#000" stroke-width="1.8"/>
<line x1="652.70" y1="1169.47" x2="652.70" y2="1204.85" stroke="#000" stroke-width="1.8"/>
<line x1="647.70" y1="1169.47" x2="657.70" y2="1169.47" stroke="#000" stroke-width="1.8"/>
<line x1="647.70" y1="1204.85" x2="657.70" y2="1204.85" stroke="#000" stroke-width="1.8"/>
<line x1="667.90" y1="1162.40" x2="667.90" y2="1197.77" stroke="#000" stroke-width="1.8"/>
<line x1="662.90" y1="1162.40" x2="672.90" y2="1162.40" stroke="#000" stroke-width="1.8"/>
<line x1="662.90" y1="1197.77" x2="672.90" y2="1197.77" stroke="#000" stroke-width="1.8"/>
<rect x="530.60" y="1155.32" width="15.20" height="21.23" fill="#E69729" stroke="#000" stroke-width="1.8"/>
<rect x="545.80" y="1176.55" width="15.20" height="21.22" fill="#F0F59D" stroke="#000" stroke-width="1.8"/>
<rect x="568.50" y="1173.01" width="15.20" height="3.54" fill="#E69729" stroke="#000" stroke-width="1.8"/>
<rect x="583.70" y="1164.17" width="15.20" height="12.38" fill="#F0F59D" stroke="#000" stroke-width="1.8"/>
<rect x="607.20" y="1176.55" width="15.20" height="15.92" fill="#E69729" stroke="#000" stroke-width="1.8"/>
<rect x="622.40" y="1165.94" width="15.20" height="10.61" fill="#F0F59D" stroke="#000" stroke-width="1.8"/>
<rect x="645.10" y="1176.55" width="15.20" height="10.61" fill="#E69729" stroke="#000" stroke-width="1.8"/>
<rect x="660.30" y="1176.55" width="15.20" height="3.54" fill="#F0F59D" stroke="#000" stroke-width="1.8"/>
<line x1="538.20" y1="1141.17" x2="538.20" y2="1171.24" stroke="#000" stroke-width="1.8"/>
<line x1="533.20" y1="1141.17" x2="543.20" y2="1141.17" stroke="#000" stroke-width="1.8"/>
<line x1="533.20" y1="1171.24" x2="543.20" y2="1171.24" stroke="#000" stroke-width="1.8"/>
<line x1="553.40" y1="1181.86" x2="553.40" y2="1211.92" stroke="#000" stroke-width="1.8"/>
<line x1="548.40" y1="1181.86" x2="558.40" y2="1181.86" stroke="#000" stroke-width="1.8"/>
<line x1="548.40" y1="1211.92" x2="558.40" y2="1211.92" stroke="#000" stroke-width="1.8"/>
<line x1="576.10" y1="1169.47" x2="576.10" y2="1176.55" stroke="#000" stroke-width="1.8"/>
<line x1="571.10" y1="1169.47" x2="581.10" y2="1169.47" stroke="#000" stroke-width="1.8"/>
<line x1="571.10" y1="1176.55" x2="581.10" y2="1176.55" stroke="#000" stroke-width="1.8"/>
<line x1="591.30" y1="1144.71" x2="591.30" y2="1185.39" stroke="#000" stroke-width="1.8"/>
<line x1="586.30" y1="1144.71" x2="596.30" y2="1144.71" stroke="#000" stroke-width="1.8"/>
<line x1="586.30" y1="1185.39" x2="596.30" y2="1185.39" stroke="#000" stroke-width="1.8"/>
<line x1="614.80" y1="1181.86" x2="614.80" y2="1203.08" stroke="#000" stroke-width="1.8"/>
<line x1="609.80" y1="1181.86" x2="619.80" y2="1181.86" stroke="#000" stroke-width="1.8"/>
<line x1="609.80" y1="1203.08" x2="619.80" y2="1203.08" stroke="#000" stroke-width="1.8"/>
<line x1="630.00" y1="1150.02" x2="630.00" y2="1180.09" stroke="#000" stroke-width="1.8"/>
<line x1="625.00" y1="1150.02" x2="635.00" y2="1150.02" stroke="#000" stroke-width="1.8"/>
<line x1="625.00" y1="1180.09" x2="635.00" y2="1180.09" stroke="#000" stroke-width="1.8"/>
<line x1="652.70" y1="1169.47" x2="652.70" y2="1204.85" stroke="#000" stroke-width="1.8"/>
<line x1="647.70" y1="1169.47" x2="657.70" y2="1169.47" stroke="#000" stroke-width="1.8"/>
<line x1="647.70" y1="1204.85" x2="657.70" y2="1204.85" stroke="#000" stroke-width="1.8"/>
<line x1="667.90" y1="1162.40" x2="667.90" y2="1197.77" stroke="#000" stroke-width="1.8"/>
<line x1="662.90" y1="1162.40" x2="672.90" y2="1162.40" stroke="#000" stroke-width="1.8"/>
<line x1="662.90" y1="1197.77" x2="672.90" y2="1197.77" stroke="#000" stroke-width="1.8"/>
<line x1="526.10" y1="1105.20" x2="526.10" y2="1247.90" stroke="#000" stroke-width="2"/>
<line x1="521.80" y1="1247.30" x2="526.10" y2="1247.30" stroke="#000" stroke-width="1.6"/>
<text transform="translate(515.00 1251.50) scale(1 1.1)" font-size="13.9" text-anchor="end" font-weight="normal" fill="#000">0.6</text>
<line x1="521.80" y1="1211.92" x2="526.10" y2="1211.92" stroke="#000" stroke-width="1.6"/>
<text transform="translate(515.00 1216.12) scale(1 1.1)" font-size="13.9" text-anchor="end" font-weight="normal" fill="#000">0.8</text>
<line x1="521.80" y1="1176.55" x2="526.10" y2="1176.55" stroke="#000" stroke-width="1.6"/>
<text transform="translate(515.00 1180.75) scale(1 1.1)" font-size="13.9" text-anchor="end" font-weight="normal" fill="#000">1.0</text>
<line x1="521.80" y1="1141.17" x2="526.10" y2="1141.17" stroke="#000" stroke-width="1.6"/>
<text transform="translate(515.00 1145.38) scale(1 1.1)" font-size="13.9" text-anchor="end" font-weight="normal" fill="#000">1.2</text>
<line x1="521.80" y1="1105.80" x2="526.10" y2="1105.80" stroke="#000" stroke-width="1.6"/>
<text transform="translate(515.00 1110.00) scale(1 1.1)" font-size="13.9" text-anchor="end" font-weight="normal" fill="#000">1.4</text>
<line x1="526.10" y1="1176.55" x2="679.30" y2="1176.55" stroke="#000" stroke-width="2"/>
<line x1="678.80" y1="1176.55" x2="678.80" y2="1180.05" stroke="#000" stroke-width="1.6"/>
<text transform="translate(545.80 1268.50) scale(1 1.1)" font-size="13.9" text-anchor="middle" font-weight="normal" fill="#000">1</text>
<text transform="translate(583.70 1268.50) scale(1 1.1)" font-size="13.9" text-anchor="middle" font-weight="normal" fill="#000">2</text>
<text transform="translate(622.40 1268.50) scale(1 1.1)" font-size="13.9" text-anchor="middle" font-weight="normal" fill="#000">3</text>
<text transform="translate(660.30 1268.50) scale(1 1.1)" font-size="13.9" text-anchor="middle" font-weight="normal" fill="#000">4</text>
<rect x="582.90" y="1083.50" width="25.20" height="9.00" fill="#E69729" stroke="#000" stroke-width="2"/>
<rect x="582.90" y="1100.30" width="25.20" height="9.00" fill="#F0F59D" stroke="#000" stroke-width="2"/>
<text transform="translate(609.50 1090.20)" font-size="12" text-anchor="start" font-weight="normal" fill="#000" textLength="66.3" lengthAdjust="spacingAndGlyphs">100% stable</text>
<text transform="translate(609.50 1107.00)" font-size="12" text-anchor="start" font-weight="normal" fill="#000" textLength="73.9" lengthAdjust="spacingAndGlyphs">&lt;100% stable</text>
<text transform="translate(603.30 1292.10) scale(1 1.1)" font-size="13.9" text-anchor="middle" font-weight="normal" fill="#000">Tube test rank</text>
<text transform="translate(483.40 1175.40) rotate(-90) scale(1 1.06)" font-size="14.0" text-anchor="middle" font-weight="normal" fill="#000">Relative noradrenaline</text>
</svg></body></html>
